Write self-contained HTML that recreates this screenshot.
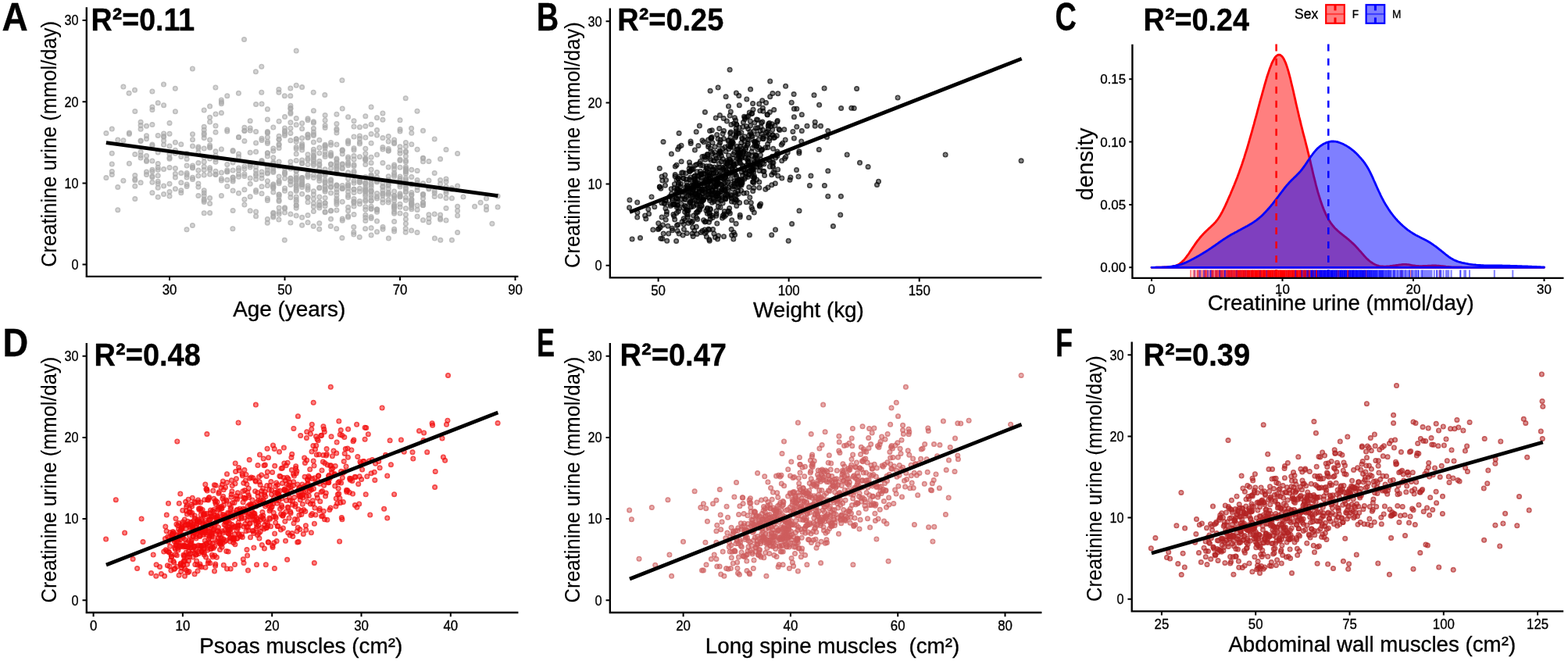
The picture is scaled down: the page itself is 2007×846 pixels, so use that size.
<!DOCTYPE html>
<html lang="en"><head><meta charset="utf-8"><title>Creatinine urine vs muscle areas</title>
<style>html,body{margin:0;padding:0;background:#fff}svg{display:block}text{stroke:#000;stroke-width:.35px;stroke-linejoin:round}</style></head>
<body>
<svg width="2007" height="846" viewBox="0 0 2007 846" font-family="'Liberation Sans', sans-serif" fill="#000">
<rect width="2007" height="846" fill="#fff"/>
<defs><radialGradient id="ptA"><stop offset="0.47" stop-color="#a9a9a9" stop-opacity="0.5"/><stop offset="0.58" stop-color="#a9a9a9" stop-opacity="0.75"/></radialGradient></defs>
<g fill="url(#ptA)">
<circle cx="541.5" cy="234.8" r="3.5"/><circle cx="408.8" cy="240.7" r="3.5"/><circle cx="312.9" cy="180.4" r="3.5"/><circle cx="416.1" cy="189.5" r="3.5"/><circle cx="371.9" cy="206.9" r="3.5"/><circle cx="224.4" cy="241.8" r="3.5"/><circle cx="283.4" cy="130.4" r="3.5"/><circle cx="231.8" cy="200.4" r="3.5"/><circle cx="217.0" cy="245.4" r="3.5"/><circle cx="423.5" cy="280.2" r="3.5"/><circle cx="445.6" cy="240.9" r="3.5"/><circle cx="541.5" cy="248.6" r="3.5"/><circle cx="180.1" cy="180.6" r="3.5"/><circle cx="519.4" cy="286.2" r="3.5"/><circle cx="512.0" cy="165.6" r="3.5"/><circle cx="497.2" cy="259.0" r="3.5"/><circle cx="386.6" cy="209.3" r="3.5"/><circle cx="453.0" cy="242.2" r="3.5"/><circle cx="180.1" cy="180.1" r="3.5"/><circle cx="497.4" cy="305.1" r="3.5"/><circle cx="430.9" cy="166.4" r="3.5"/><circle cx="467.8" cy="278.6" r="3.5"/><circle cx="246.5" cy="187.0" r="3.5"/><circle cx="305.5" cy="175.6" r="3.5"/><circle cx="224.4" cy="142.8" r="3.5"/><circle cx="268.6" cy="179.0" r="3.5"/><circle cx="261.2" cy="162.3" r="3.5"/><circle cx="386.6" cy="229.2" r="3.5"/><circle cx="342.4" cy="170.2" r="3.5"/><circle cx="371.9" cy="179.7" r="3.5"/><circle cx="357.1" cy="231.4" r="3.5"/><circle cx="519.4" cy="213.5" r="3.5"/><circle cx="401.4" cy="191.3" r="3.5"/><circle cx="467.8" cy="210.6" r="3.5"/><circle cx="209.6" cy="185.2" r="3.5"/><circle cx="416.1" cy="153.9" r="3.5"/><circle cx="224.4" cy="227.0" r="3.5"/><circle cx="290.8" cy="238.5" r="3.5"/><circle cx="394.0" cy="153.7" r="3.5"/><circle cx="357.1" cy="274.1" r="3.5"/><circle cx="335.0" cy="228.3" r="3.5"/><circle cx="194.9" cy="186.5" r="3.5"/><circle cx="541.5" cy="262.7" r="3.5"/><circle cx="342.4" cy="221.2" r="3.5"/><circle cx="504.6" cy="265.6" r="3.5"/><circle cx="482.5" cy="251.7" r="3.5"/><circle cx="408.8" cy="240.1" r="3.5"/><circle cx="445.6" cy="181.5" r="3.5"/><circle cx="519.2" cy="125.7" r="3.5"/><circle cx="253.9" cy="188.0" r="3.5"/><circle cx="401.4" cy="204.5" r="3.5"/><circle cx="445.6" cy="250.0" r="3.5"/><circle cx="475.1" cy="225.9" r="3.5"/><circle cx="335.0" cy="224.1" r="3.5"/><circle cx="526.6" cy="164.3" r="3.5"/><circle cx="320.2" cy="166.9" r="3.5"/><circle cx="526.8" cy="255.6" r="3.5"/><circle cx="371.9" cy="170.5" r="3.5"/><circle cx="364.5" cy="149.6" r="3.5"/><circle cx="438.2" cy="209.8" r="3.5"/><circle cx="261.2" cy="213.3" r="3.5"/><circle cx="356.9" cy="114.4" r="3.5"/><circle cx="453.0" cy="189.8" r="3.5"/><circle cx="283.4" cy="231.0" r="3.5"/><circle cx="172.8" cy="254.6" r="3.5"/><circle cx="438.2" cy="139.0" r="3.5"/><circle cx="283.4" cy="220.9" r="3.5"/><circle cx="512.0" cy="228.5" r="3.5"/><circle cx="327.6" cy="271.0" r="3.5"/><circle cx="276.0" cy="203.9" r="3.5"/><circle cx="475.1" cy="239.8" r="3.5"/><circle cx="453.0" cy="274.6" r="3.5"/><circle cx="497.2" cy="213.9" r="3.5"/><circle cx="563.6" cy="280.9" r="3.5"/><circle cx="312.9" cy="167.6" r="3.5"/><circle cx="298.1" cy="243.9" r="3.5"/><circle cx="416.1" cy="270.9" r="3.5"/><circle cx="165.4" cy="171.4" r="3.5"/><circle cx="497.2" cy="190.6" r="3.5"/><circle cx="453.0" cy="242.2" r="3.5"/><circle cx="335.0" cy="247.8" r="3.5"/><circle cx="202.2" cy="235.0" r="3.5"/><circle cx="209.6" cy="170.9" r="3.5"/><circle cx="357.1" cy="249.0" r="3.5"/><circle cx="371.9" cy="212.6" r="3.5"/><circle cx="541.5" cy="259.7" r="3.5"/><circle cx="394.0" cy="253.0" r="3.5"/><circle cx="416.1" cy="271.7" r="3.5"/><circle cx="364.5" cy="171.2" r="3.5"/><circle cx="357.1" cy="178.6" r="3.5"/><circle cx="135.9" cy="227.6" r="3.5"/><circle cx="401.4" cy="223.9" r="3.5"/><circle cx="401.4" cy="244.8" r="3.5"/><circle cx="519.4" cy="222.2" r="3.5"/><circle cx="180.1" cy="199.0" r="3.5"/><circle cx="504.6" cy="221.2" r="3.5"/><circle cx="217.0" cy="186.9" r="3.5"/><circle cx="320.2" cy="164.1" r="3.5"/><circle cx="475.1" cy="244.1" r="3.5"/><circle cx="504.6" cy="250.7" r="3.5"/><circle cx="253.9" cy="195.0" r="3.5"/><circle cx="246.4" cy="87.9" r="3.5"/><circle cx="356.9" cy="281.1" r="3.5"/><circle cx="187.5" cy="223.5" r="3.5"/><circle cx="283.4" cy="250.4" r="3.5"/><circle cx="453.0" cy="219.2" r="3.5"/><circle cx="305.5" cy="222.9" r="3.5"/><circle cx="415.8" cy="121.6" r="3.5"/><circle cx="180.1" cy="156.3" r="3.5"/><circle cx="364.3" cy="307.3" r="3.5"/><circle cx="489.9" cy="208.5" r="3.5"/><circle cx="519.4" cy="280.5" r="3.5"/><circle cx="379.2" cy="65.1" r="3.5"/><circle cx="571.0" cy="242.5" r="3.5"/><circle cx="246.4" cy="288.5" r="3.5"/><circle cx="423.5" cy="239.3" r="3.5"/><circle cx="371.9" cy="232.3" r="3.5"/><circle cx="430.9" cy="221.7" r="3.5"/><circle cx="187.5" cy="177.7" r="3.5"/><circle cx="364.5" cy="167.5" r="3.5"/><circle cx="246.5" cy="214.3" r="3.5"/><circle cx="371.9" cy="231.8" r="3.5"/><circle cx="534.0" cy="297.6" r="3.5"/><circle cx="194.9" cy="159.6" r="3.5"/><circle cx="298.1" cy="269.5" r="3.5"/><circle cx="519.4" cy="253.0" r="3.5"/><circle cx="622.5" cy="254.1" r="3.5"/><circle cx="172.8" cy="230.7" r="3.5"/><circle cx="563.8" cy="307.3" r="3.5"/><circle cx="349.8" cy="190.1" r="3.5"/><circle cx="246.5" cy="229.5" r="3.5"/><circle cx="268.6" cy="272.5" r="3.5"/><circle cx="504.6" cy="225.7" r="3.5"/><circle cx="430.9" cy="146.2" r="3.5"/><circle cx="504.6" cy="293.2" r="3.5"/><circle cx="504.6" cy="271.3" r="3.5"/><circle cx="460.4" cy="261.0" r="3.5"/><circle cx="416.1" cy="238.7" r="3.5"/><circle cx="386.6" cy="111.6" r="3.5"/><circle cx="615.1" cy="259.3" r="3.5"/><circle cx="445.6" cy="245.5" r="3.5"/><circle cx="357.1" cy="257.6" r="3.5"/><circle cx="327.4" cy="91.8" r="3.5"/><circle cx="585.6" cy="196.5" r="3.5"/><circle cx="349.8" cy="201.8" r="3.5"/><circle cx="379.2" cy="237.2" r="3.5"/><circle cx="268.6" cy="188.9" r="3.5"/><circle cx="453.0" cy="258.0" r="3.5"/><circle cx="526.8" cy="184.7" r="3.5"/><circle cx="386.6" cy="176.8" r="3.5"/><circle cx="290.8" cy="210.4" r="3.5"/><circle cx="512.0" cy="261.3" r="3.5"/><circle cx="416.1" cy="147.4" r="3.5"/><circle cx="629.9" cy="286.3" r="3.5"/><circle cx="445.6" cy="252.4" r="3.5"/><circle cx="467.8" cy="255.7" r="3.5"/><circle cx="416.1" cy="216.8" r="3.5"/><circle cx="475.1" cy="300.9" r="3.5"/><circle cx="356.9" cy="118.2" r="3.5"/><circle cx="482.5" cy="150.8" r="3.5"/><circle cx="571.0" cy="247.6" r="3.5"/><circle cx="453.0" cy="174.9" r="3.5"/><circle cx="512.0" cy="251.9" r="3.5"/><circle cx="386.6" cy="236.0" r="3.5"/><circle cx="519.4" cy="241.4" r="3.5"/><circle cx="342.4" cy="195.9" r="3.5"/><circle cx="416.1" cy="260.0" r="3.5"/><circle cx="526.6" cy="295.1" r="3.5"/><circle cx="460.4" cy="257.4" r="3.5"/><circle cx="467.8" cy="176.1" r="3.5"/><circle cx="571.0" cy="191.6" r="3.5"/><circle cx="467.8" cy="268.2" r="3.5"/><circle cx="445.6" cy="183.7" r="3.5"/><circle cx="180.1" cy="160.5" r="3.5"/><circle cx="607.6" cy="264.3" r="3.5"/><circle cx="276.0" cy="169.3" r="3.5"/><circle cx="504.6" cy="178.9" r="3.5"/><circle cx="253.9" cy="224.9" r="3.5"/><circle cx="342.4" cy="168.6" r="3.5"/><circle cx="526.8" cy="249.6" r="3.5"/><circle cx="342.4" cy="254.1" r="3.5"/><circle cx="489.9" cy="176.5" r="3.5"/><circle cx="489.9" cy="247.2" r="3.5"/><circle cx="246.5" cy="178.7" r="3.5"/><circle cx="482.5" cy="166.6" r="3.5"/><circle cx="556.2" cy="274.0" r="3.5"/><circle cx="320.2" cy="269.8" r="3.5"/><circle cx="460.4" cy="233.1" r="3.5"/><circle cx="357.1" cy="234.7" r="3.5"/><circle cx="445.6" cy="276.6" r="3.5"/><circle cx="534.1" cy="243.4" r="3.5"/><circle cx="475.1" cy="201.2" r="3.5"/><circle cx="371.9" cy="252.7" r="3.5"/><circle cx="585.6" cy="238.1" r="3.5"/><circle cx="312.9" cy="222.8" r="3.5"/><circle cx="423.5" cy="185.6" r="3.5"/><circle cx="357.1" cy="265.9" r="3.5"/><circle cx="394.0" cy="223.2" r="3.5"/><circle cx="394.0" cy="224.4" r="3.5"/><circle cx="312.9" cy="212.9" r="3.5"/><circle cx="408.8" cy="285.7" r="3.5"/><circle cx="519.4" cy="182.4" r="3.5"/><circle cx="283.4" cy="228.8" r="3.5"/><circle cx="430.9" cy="246.0" r="3.5"/><circle cx="180.1" cy="194.6" r="3.5"/><circle cx="526.8" cy="267.8" r="3.5"/><circle cx="467.8" cy="245.5" r="3.5"/><circle cx="460.2" cy="303.4" r="3.5"/><circle cx="526.8" cy="170.3" r="3.5"/><circle cx="327.6" cy="276.8" r="3.5"/><circle cx="504.6" cy="223.4" r="3.5"/><circle cx="268.6" cy="187.9" r="3.5"/><circle cx="526.8" cy="265.5" r="3.5"/><circle cx="371.9" cy="236.5" r="3.5"/><circle cx="401.4" cy="227.4" r="3.5"/><circle cx="416.1" cy="238.0" r="3.5"/><circle cx="637.1" cy="251.1" r="3.5"/><circle cx="253.9" cy="239.2" r="3.5"/><circle cx="261.2" cy="166.2" r="3.5"/><circle cx="548.9" cy="284.4" r="3.5"/><circle cx="379.2" cy="205.4" r="3.5"/><circle cx="401.4" cy="157.3" r="3.5"/><circle cx="349.8" cy="235.7" r="3.5"/><circle cx="217.0" cy="203.2" r="3.5"/><circle cx="165.1" cy="119.3" r="3.5"/><circle cx="283.4" cy="144.5" r="3.5"/><circle cx="379.2" cy="218.9" r="3.5"/><circle cx="298.1" cy="227.2" r="3.5"/><circle cx="187.5" cy="161.3" r="3.5"/><circle cx="202.2" cy="195.0" r="3.5"/><circle cx="467.8" cy="275.3" r="3.5"/><circle cx="379.2" cy="258.3" r="3.5"/><circle cx="475.1" cy="171.4" r="3.5"/><circle cx="504.6" cy="253.4" r="3.5"/><circle cx="430.9" cy="254.4" r="3.5"/><circle cx="394.0" cy="175.6" r="3.5"/><circle cx="445.6" cy="201.0" r="3.5"/><circle cx="504.6" cy="263.4" r="3.5"/><circle cx="467.8" cy="248.6" r="3.5"/><circle cx="357.1" cy="226.1" r="3.5"/><circle cx="497.2" cy="247.8" r="3.5"/><circle cx="430.9" cy="208.9" r="3.5"/><circle cx="438.2" cy="282.3" r="3.5"/><circle cx="453.0" cy="191.9" r="3.5"/><circle cx="504.6" cy="264.3" r="3.5"/><circle cx="386.6" cy="236.6" r="3.5"/><circle cx="467.8" cy="234.5" r="3.5"/><circle cx="379.2" cy="255.4" r="3.5"/><circle cx="430.7" cy="292.7" r="3.5"/><circle cx="504.6" cy="267.4" r="3.5"/><circle cx="349.8" cy="276.4" r="3.5"/><circle cx="423.5" cy="247.1" r="3.5"/><circle cx="526.8" cy="261.2" r="3.5"/><circle cx="386.6" cy="227.4" r="3.5"/><circle cx="512.0" cy="167.9" r="3.5"/><circle cx="312.9" cy="255.2" r="3.5"/><circle cx="556.2" cy="247.3" r="3.5"/><circle cx="504.6" cy="182.4" r="3.5"/><circle cx="585.6" cy="297.6" r="3.5"/><circle cx="489.9" cy="239.4" r="3.5"/><circle cx="312.9" cy="163.3" r="3.5"/><circle cx="423.5" cy="239.5" r="3.5"/><circle cx="489.9" cy="250.2" r="3.5"/><circle cx="394.0" cy="226.4" r="3.5"/><circle cx="187.5" cy="173.7" r="3.5"/><circle cx="150.8" cy="268.7" r="3.5"/><circle cx="172.8" cy="197.5" r="3.5"/><circle cx="305.5" cy="200.7" r="3.5"/><circle cx="512.0" cy="214.2" r="3.5"/><circle cx="209.6" cy="134.7" r="3.5"/><circle cx="202.2" cy="173.4" r="3.5"/><circle cx="335.0" cy="179.5" r="3.5"/><circle cx="452.8" cy="297.3" r="3.5"/><circle cx="497.2" cy="256.1" r="3.5"/><circle cx="453.0" cy="254.5" r="3.5"/><circle cx="180.1" cy="233.8" r="3.5"/><circle cx="423.5" cy="229.7" r="3.5"/><circle cx="490.0" cy="293.2" r="3.5"/><circle cx="482.5" cy="233.0" r="3.5"/><circle cx="467.8" cy="203.8" r="3.5"/><circle cx="453.0" cy="212.4" r="3.5"/><circle cx="283.3" cy="127.9" r="3.5"/><circle cx="438.2" cy="191.7" r="3.5"/><circle cx="445.6" cy="203.1" r="3.5"/><circle cx="401.4" cy="201.5" r="3.5"/><circle cx="371.8" cy="113.0" r="3.5"/><circle cx="401.4" cy="209.2" r="3.5"/><circle cx="335.0" cy="238.8" r="3.5"/><circle cx="512.0" cy="236.6" r="3.5"/><circle cx="467.8" cy="243.6" r="3.5"/><circle cx="349.8" cy="245.9" r="3.5"/><circle cx="394.0" cy="252.6" r="3.5"/><circle cx="453.0" cy="231.6" r="3.5"/><circle cx="371.8" cy="122.7" r="3.5"/><circle cx="571.0" cy="253.6" r="3.5"/><circle cx="408.8" cy="206.3" r="3.5"/><circle cx="290.8" cy="166.0" r="3.5"/><circle cx="253.9" cy="250.5" r="3.5"/><circle cx="394.0" cy="218.6" r="3.5"/><circle cx="519.4" cy="234.1" r="3.5"/><circle cx="364.5" cy="215.2" r="3.5"/><circle cx="416.1" cy="187.3" r="3.5"/><circle cx="453.0" cy="199.5" r="3.5"/><circle cx="157.9" cy="231.2" r="3.5"/><circle cx="438.2" cy="240.6" r="3.5"/><circle cx="143.3" cy="210.0" r="3.5"/><circle cx="548.9" cy="242.0" r="3.5"/><circle cx="275.9" cy="111.9" r="3.5"/><circle cx="334.8" cy="118.2" r="3.5"/><circle cx="379.2" cy="252.1" r="3.5"/><circle cx="202.2" cy="209.5" r="3.5"/><circle cx="268.6" cy="156.1" r="3.5"/><circle cx="548.9" cy="240.9" r="3.5"/><circle cx="475.1" cy="233.9" r="3.5"/><circle cx="475.1" cy="183.2" r="3.5"/><circle cx="364.5" cy="222.7" r="3.5"/><circle cx="430.9" cy="256.8" r="3.5"/><circle cx="585.6" cy="264.3" r="3.5"/><circle cx="430.9" cy="237.1" r="3.5"/><circle cx="556.2" cy="221.4" r="3.5"/><circle cx="394.0" cy="176.3" r="3.5"/><circle cx="379.2" cy="230.9" r="3.5"/><circle cx="467.8" cy="196.7" r="3.5"/><circle cx="401.4" cy="199.9" r="3.5"/><circle cx="357.1" cy="178.3" r="3.5"/><circle cx="504.6" cy="183.8" r="3.5"/><circle cx="202.2" cy="131.7" r="3.5"/><circle cx="217.0" cy="214.5" r="3.5"/><circle cx="290.8" cy="219.5" r="3.5"/><circle cx="253.9" cy="208.5" r="3.5"/><circle cx="357.1" cy="271.4" r="3.5"/><circle cx="430.9" cy="207.8" r="3.5"/><circle cx="467.8" cy="202.4" r="3.5"/><circle cx="512.0" cy="239.1" r="3.5"/><circle cx="504.6" cy="256.7" r="3.5"/><circle cx="349.8" cy="241.1" r="3.5"/><circle cx="438.2" cy="210.6" r="3.5"/><circle cx="556.4" cy="305.1" r="3.5"/><circle cx="416.1" cy="233.5" r="3.5"/><circle cx="187.5" cy="205.2" r="3.5"/><circle cx="460.4" cy="181.9" r="3.5"/><circle cx="578.4" cy="307.3" r="3.5"/><circle cx="298.1" cy="218.0" r="3.5"/><circle cx="482.5" cy="173.0" r="3.5"/><circle cx="526.8" cy="254.9" r="3.5"/><circle cx="408.8" cy="263.3" r="3.5"/><circle cx="261.2" cy="141.1" r="3.5"/><circle cx="541.5" cy="248.8" r="3.5"/><circle cx="320.2" cy="213.9" r="3.5"/><circle cx="327.6" cy="182.9" r="3.5"/><circle cx="364.5" cy="173.5" r="3.5"/><circle cx="489.9" cy="255.4" r="3.5"/><circle cx="379.2" cy="178.1" r="3.5"/><circle cx="268.6" cy="203.0" r="3.5"/><circle cx="342.4" cy="280.5" r="3.5"/><circle cx="453.0" cy="154.7" r="3.5"/><circle cx="475.1" cy="264.2" r="3.5"/><circle cx="268.6" cy="260.6" r="3.5"/><circle cx="504.6" cy="245.1" r="3.5"/><circle cx="534.1" cy="268.4" r="3.5"/><circle cx="430.9" cy="213.0" r="3.5"/><circle cx="157.9" cy="179.7" r="3.5"/><circle cx="437.9" cy="304.5" r="3.5"/><circle cx="386.6" cy="228.2" r="3.5"/><circle cx="430.9" cy="165.0" r="3.5"/><circle cx="526.8" cy="257.1" r="3.5"/><circle cx="290.8" cy="230.3" r="3.5"/><circle cx="246.5" cy="227.2" r="3.5"/><circle cx="194.9" cy="233.3" r="3.5"/><circle cx="401.4" cy="260.3" r="3.5"/><circle cx="526.8" cy="236.2" r="3.5"/><circle cx="386.6" cy="227.6" r="3.5"/><circle cx="482.5" cy="296.8" r="3.5"/><circle cx="401.4" cy="173.4" r="3.5"/><circle cx="438.2" cy="258.2" r="3.5"/><circle cx="438.2" cy="216.0" r="3.5"/><circle cx="379.2" cy="234.3" r="3.5"/><circle cx="519.4" cy="218.8" r="3.5"/><circle cx="475.1" cy="249.8" r="3.5"/><circle cx="320.2" cy="195.3" r="3.5"/><circle cx="305.5" cy="215.1" r="3.5"/><circle cx="379.2" cy="224.3" r="3.5"/><circle cx="416.1" cy="185.3" r="3.5"/><circle cx="467.8" cy="203.7" r="3.5"/><circle cx="394.0" cy="243.1" r="3.5"/><circle cx="386.6" cy="236.2" r="3.5"/><circle cx="364.5" cy="241.0" r="3.5"/><circle cx="430.9" cy="258.9" r="3.5"/><circle cx="261.2" cy="255.0" r="3.5"/><circle cx="335.0" cy="206.2" r="3.5"/><circle cx="519.4" cy="274.8" r="3.5"/><circle cx="327.6" cy="229.4" r="3.5"/><circle cx="194.9" cy="225.5" r="3.5"/><circle cx="379.2" cy="197.1" r="3.5"/><circle cx="453.0" cy="162.0" r="3.5"/><circle cx="489.9" cy="188.4" r="3.5"/><circle cx="172.8" cy="142.4" r="3.5"/><circle cx="401.4" cy="194.4" r="3.5"/><circle cx="445.6" cy="278.1" r="3.5"/><circle cx="482.5" cy="231.8" r="3.5"/><circle cx="276.0" cy="223.2" r="3.5"/><circle cx="268.6" cy="253.4" r="3.5"/><circle cx="519.4" cy="256.3" r="3.5"/><circle cx="541.5" cy="259.5" r="3.5"/><circle cx="512.0" cy="265.0" r="3.5"/><circle cx="408.8" cy="225.9" r="3.5"/><circle cx="342.4" cy="237.6" r="3.5"/><circle cx="408.8" cy="262.2" r="3.5"/><circle cx="239.1" cy="236.0" r="3.5"/><circle cx="202.2" cy="214.4" r="3.5"/><circle cx="578.4" cy="240.7" r="3.5"/><circle cx="416.1" cy="186.5" r="3.5"/><circle cx="475.1" cy="257.2" r="3.5"/><circle cx="342.4" cy="256.5" r="3.5"/><circle cx="519.4" cy="246.1" r="3.5"/><circle cx="504.6" cy="216.6" r="3.5"/><circle cx="445.6" cy="211.7" r="3.5"/><circle cx="467.8" cy="241.9" r="3.5"/><circle cx="519.4" cy="216.2" r="3.5"/><circle cx="526.8" cy="246.5" r="3.5"/><circle cx="209.6" cy="174.6" r="3.5"/><circle cx="423.5" cy="210.0" r="3.5"/><circle cx="143.3" cy="223.5" r="3.5"/><circle cx="423.5" cy="215.5" r="3.5"/><circle cx="504.6" cy="262.0" r="3.5"/><circle cx="357.1" cy="256.0" r="3.5"/><circle cx="453.0" cy="221.0" r="3.5"/><circle cx="239.1" cy="238.5" r="3.5"/><circle cx="401.4" cy="164.5" r="3.5"/><circle cx="261.2" cy="247.0" r="3.5"/><circle cx="512.0" cy="249.4" r="3.5"/><circle cx="571.0" cy="282.1" r="3.5"/><circle cx="298.1" cy="232.1" r="3.5"/><circle cx="297.9" cy="292.7" r="3.5"/><circle cx="394.0" cy="240.4" r="3.5"/><circle cx="445.6" cy="228.8" r="3.5"/><circle cx="298.1" cy="227.0" r="3.5"/><circle cx="512.0" cy="231.1" r="3.5"/><circle cx="379.2" cy="188.2" r="3.5"/><circle cx="430.9" cy="185.0" r="3.5"/><circle cx="357.1" cy="155.2" r="3.5"/><circle cx="379.2" cy="109.2" r="3.5"/><circle cx="563.6" cy="235.2" r="3.5"/><circle cx="150.8" cy="179.1" r="3.5"/><circle cx="430.9" cy="238.1" r="3.5"/><circle cx="512.0" cy="192.8" r="3.5"/><circle cx="541.5" cy="202.2" r="3.5"/><circle cx="261.2" cy="190.1" r="3.5"/><circle cx="430.9" cy="221.1" r="3.5"/><circle cx="497.2" cy="230.3" r="3.5"/><circle cx="327.6" cy="218.2" r="3.5"/><circle cx="261.2" cy="170.6" r="3.5"/><circle cx="320.2" cy="227.9" r="3.5"/><circle cx="276.0" cy="145.9" r="3.5"/><circle cx="526.8" cy="261.5" r="3.5"/><circle cx="364.5" cy="267.1" r="3.5"/><circle cx="578.4" cy="242.5" r="3.5"/><circle cx="467.6" cy="292.7" r="3.5"/><circle cx="276.0" cy="219.2" r="3.5"/><circle cx="312.9" cy="167.2" r="3.5"/><circle cx="475.1" cy="267.5" r="3.5"/><circle cx="379.2" cy="181.3" r="3.5"/><circle cx="357.1" cy="174.3" r="3.5"/><circle cx="143.3" cy="196.2" r="3.5"/><circle cx="312.9" cy="262.1" r="3.5"/><circle cx="386.6" cy="192.0" r="3.5"/><circle cx="423.5" cy="210.2" r="3.5"/><circle cx="401.4" cy="211.5" r="3.5"/><circle cx="298.1" cy="207.9" r="3.5"/><circle cx="489.9" cy="243.6" r="3.5"/><circle cx="526.8" cy="259.2" r="3.5"/><circle cx="475.1" cy="291.8" r="3.5"/><circle cx="534.1" cy="230.6" r="3.5"/><circle cx="467.8" cy="161.6" r="3.5"/><circle cx="401.4" cy="254.5" r="3.5"/><circle cx="349.8" cy="272.3" r="3.5"/><circle cx="504.6" cy="250.6" r="3.5"/><circle cx="312.9" cy="225.4" r="3.5"/><circle cx="165.4" cy="170.0" r="3.5"/><circle cx="371.9" cy="228.5" r="3.5"/><circle cx="408.8" cy="179.3" r="3.5"/><circle cx="371.9" cy="135.2" r="3.5"/><circle cx="194.9" cy="226.7" r="3.5"/><circle cx="482.5" cy="283.1" r="3.5"/><circle cx="497.2" cy="192.9" r="3.5"/><circle cx="394.0" cy="151.7" r="3.5"/><circle cx="437.9" cy="102.8" r="3.5"/><circle cx="342.4" cy="214.0" r="3.5"/><circle cx="217.0" cy="201.8" r="3.5"/><circle cx="290.8" cy="122.7" r="3.5"/><circle cx="541.5" cy="249.7" r="3.5"/><circle cx="467.8" cy="257.6" r="3.5"/><circle cx="563.6" cy="279.4" r="3.5"/><circle cx="475.1" cy="256.5" r="3.5"/><circle cx="386.6" cy="232.9" r="3.5"/><circle cx="379.2" cy="262.8" r="3.5"/><circle cx="541.5" cy="206.8" r="3.5"/><circle cx="327.6" cy="225.1" r="3.5"/><circle cx="394.0" cy="202.7" r="3.5"/><circle cx="386.6" cy="157.8" r="3.5"/><circle cx="239.1" cy="203.4" r="3.5"/><circle cx="497.2" cy="235.8" r="3.5"/><circle cx="261.2" cy="272.8" r="3.5"/><circle cx="416.1" cy="160.6" r="3.5"/><circle cx="172.8" cy="229.2" r="3.5"/><circle cx="320.2" cy="154.7" r="3.5"/><circle cx="394.0" cy="172.1" r="3.5"/><circle cx="475.1" cy="225.0" r="3.5"/><circle cx="401.4" cy="182.0" r="3.5"/><circle cx="430.9" cy="211.9" r="3.5"/><circle cx="379.2" cy="228.0" r="3.5"/><circle cx="460.4" cy="230.8" r="3.5"/><circle cx="342.4" cy="152.9" r="3.5"/><circle cx="379.2" cy="266.2" r="3.5"/><circle cx="357.1" cy="184.4" r="3.5"/><circle cx="349.8" cy="216.3" r="3.5"/><circle cx="335.0" cy="208.3" r="3.5"/><circle cx="246.5" cy="171.7" r="3.5"/><circle cx="467.8" cy="235.8" r="3.5"/><circle cx="268.6" cy="150.3" r="3.5"/><circle cx="490.0" cy="290.5" r="3.5"/><circle cx="335.0" cy="177.3" r="3.5"/><circle cx="371.9" cy="285.1" r="3.5"/><circle cx="320.2" cy="235.3" r="3.5"/><circle cx="202.2" cy="224.8" r="3.5"/><circle cx="430.9" cy="242.5" r="3.5"/><circle cx="460.4" cy="245.1" r="3.5"/><circle cx="475.1" cy="266.9" r="3.5"/><circle cx="371.9" cy="248.0" r="3.5"/><circle cx="194.9" cy="219.5" r="3.5"/><circle cx="253.9" cy="235.0" r="3.5"/><circle cx="453.0" cy="264.0" r="3.5"/><circle cx="261.2" cy="217.5" r="3.5"/><circle cx="489.9" cy="238.4" r="3.5"/><circle cx="349.8" cy="277.9" r="3.5"/><circle cx="401.4" cy="172.0" r="3.5"/><circle cx="386.6" cy="239.4" r="3.5"/><circle cx="379.2" cy="263.1" r="3.5"/><circle cx="194.9" cy="217.3" r="3.5"/><circle cx="534.1" cy="263.1" r="3.5"/><circle cx="416.1" cy="245.3" r="3.5"/><circle cx="401.4" cy="206.4" r="3.5"/><circle cx="194.9" cy="205.9" r="3.5"/><circle cx="364.5" cy="244.2" r="3.5"/><circle cx="430.9" cy="214.9" r="3.5"/><circle cx="305.5" cy="247.3" r="3.5"/><circle cx="460.4" cy="232.0" r="3.5"/><circle cx="416.1" cy="163.5" r="3.5"/><circle cx="143.3" cy="165.1" r="3.5"/><circle cx="534.0" cy="142.2" r="3.5"/><circle cx="526.8" cy="260.3" r="3.5"/><circle cx="386.6" cy="248.3" r="3.5"/><circle cx="320.2" cy="211.5" r="3.5"/><circle cx="209.5" cy="108.1" r="3.5"/><circle cx="482.5" cy="247.4" r="3.5"/><circle cx="239.1" cy="223.8" r="3.5"/><circle cx="298.1" cy="229.9" r="3.5"/><circle cx="519.4" cy="266.8" r="3.5"/><circle cx="394.0" cy="172.8" r="3.5"/><circle cx="298.1" cy="193.5" r="3.5"/><circle cx="364.5" cy="272.1" r="3.5"/><circle cx="312.9" cy="215.9" r="3.5"/><circle cx="571.0" cy="266.6" r="3.5"/><circle cx="438.2" cy="214.7" r="3.5"/><circle cx="526.8" cy="235.6" r="3.5"/><circle cx="379.2" cy="177.7" r="3.5"/><circle cx="497.2" cy="181.0" r="3.5"/><circle cx="475.1" cy="208.4" r="3.5"/><circle cx="327.6" cy="194.2" r="3.5"/><circle cx="416.1" cy="200.6" r="3.5"/><circle cx="489.9" cy="234.3" r="3.5"/><circle cx="246.5" cy="212.1" r="3.5"/><circle cx="379.2" cy="244.5" r="3.5"/><circle cx="349.8" cy="209.3" r="3.5"/><circle cx="386.6" cy="236.4" r="3.5"/><circle cx="460.4" cy="200.7" r="3.5"/><circle cx="401.4" cy="198.7" r="3.5"/><circle cx="194.9" cy="117.1" r="3.5"/><circle cx="519.4" cy="233.7" r="3.5"/><circle cx="209.6" cy="175.2" r="3.5"/><circle cx="371.9" cy="139.3" r="3.5"/><circle cx="467.8" cy="205.2" r="3.5"/><circle cx="327.6" cy="222.5" r="3.5"/><circle cx="239.1" cy="221.5" r="3.5"/><circle cx="187.5" cy="206.5" r="3.5"/><circle cx="401.2" cy="289.6" r="3.5"/><circle cx="571.0" cy="244.7" r="3.5"/><circle cx="475.1" cy="229.9" r="3.5"/><circle cx="276.0" cy="199.2" r="3.5"/><circle cx="430.9" cy="222.3" r="3.5"/><circle cx="497.2" cy="249.5" r="3.5"/><circle cx="438.2" cy="193.1" r="3.5"/><circle cx="452.8" cy="290.5" r="3.5"/><circle cx="364.5" cy="163.9" r="3.5"/><circle cx="467.8" cy="148.7" r="3.5"/><circle cx="482.5" cy="226.8" r="3.5"/><circle cx="194.9" cy="140.6" r="3.5"/><circle cx="276.0" cy="161.1" r="3.5"/><circle cx="482.5" cy="271.2" r="3.5"/><circle cx="416.1" cy="243.3" r="3.5"/><circle cx="467.8" cy="250.9" r="3.5"/><circle cx="342.4" cy="231.7" r="3.5"/><circle cx="335.0" cy="205.6" r="3.5"/><circle cx="512.0" cy="226.0" r="3.5"/><circle cx="460.4" cy="233.4" r="3.5"/><circle cx="364.5" cy="219.9" r="3.5"/><circle cx="320.2" cy="210.9" r="3.5"/><circle cx="357.1" cy="251.5" r="3.5"/><circle cx="217.0" cy="171.2" r="3.5"/><circle cx="416.1" cy="241.9" r="3.5"/><circle cx="261.2" cy="207.2" r="3.5"/><circle cx="548.9" cy="274.8" r="3.5"/><circle cx="430.9" cy="203.0" r="3.5"/><circle cx="445.6" cy="209.7" r="3.5"/><circle cx="519.4" cy="219.9" r="3.5"/><circle cx="150.8" cy="239.5" r="3.5"/><circle cx="261.2" cy="243.7" r="3.5"/><circle cx="305.5" cy="197.0" r="3.5"/><circle cx="172.5" cy="115.2" r="3.5"/><circle cx="379.2" cy="159.8" r="3.5"/><circle cx="371.9" cy="273.9" r="3.5"/><circle cx="342.4" cy="217.5" r="3.5"/><circle cx="371.9" cy="164.2" r="3.5"/><circle cx="386.6" cy="208.8" r="3.5"/><circle cx="541.5" cy="262.5" r="3.5"/><circle cx="209.6" cy="216.6" r="3.5"/><circle cx="497.2" cy="232.2" r="3.5"/><circle cx="526.8" cy="217.3" r="3.5"/><circle cx="423.5" cy="197.8" r="3.5"/><circle cx="386.6" cy="278.3" r="3.5"/><circle cx="202.2" cy="232.2" r="3.5"/><circle cx="394.0" cy="284.8" r="3.5"/><circle cx="408.7" cy="293.2" r="3.5"/><circle cx="585.6" cy="275.9" r="3.5"/><circle cx="408.8" cy="225.2" r="3.5"/><circle cx="460.4" cy="173.9" r="3.5"/><circle cx="253.9" cy="218.1" r="3.5"/><circle cx="305.5" cy="226.3" r="3.5"/><circle cx="276.0" cy="207.3" r="3.5"/><circle cx="349.8" cy="238.9" r="3.5"/><circle cx="512.0" cy="251.3" r="3.5"/><circle cx="401.4" cy="264.5" r="3.5"/><circle cx="556.2" cy="244.6" r="3.5"/><circle cx="475.1" cy="236.7" r="3.5"/><circle cx="394.0" cy="237.8" r="3.5"/><circle cx="430.9" cy="250.0" r="3.5"/><circle cx="135.9" cy="170.6" r="3.5"/><circle cx="519.2" cy="297.3" r="3.5"/><circle cx="209.6" cy="248.4" r="3.5"/><circle cx="423.5" cy="234.5" r="3.5"/><circle cx="194.9" cy="185.0" r="3.5"/><circle cx="504.6" cy="283.6" r="3.5"/><circle cx="519.4" cy="194.7" r="3.5"/><circle cx="467.8" cy="240.0" r="3.5"/><circle cx="408.8" cy="258.6" r="3.5"/><circle cx="526.8" cy="249.2" r="3.5"/><circle cx="445.6" cy="149.8" r="3.5"/><circle cx="512.0" cy="187.7" r="3.5"/><circle cx="453.0" cy="204.1" r="3.5"/><circle cx="371.9" cy="138.2" r="3.5"/><circle cx="408.8" cy="231.5" r="3.5"/><circle cx="423.5" cy="195.4" r="3.5"/><circle cx="467.8" cy="244.6" r="3.5"/><circle cx="423.5" cy="269.4" r="3.5"/><circle cx="349.8" cy="207.8" r="3.5"/><circle cx="180.1" cy="201.9" r="3.5"/><circle cx="246.5" cy="215.0" r="3.5"/><circle cx="423.5" cy="231.3" r="3.5"/><circle cx="519.4" cy="218.9" r="3.5"/><circle cx="482.5" cy="198.0" r="3.5"/><circle cx="541.5" cy="202.5" r="3.5"/><circle cx="423.5" cy="182.6" r="3.5"/><circle cx="416.1" cy="259.7" r="3.5"/><circle cx="519.4" cy="245.0" r="3.5"/><circle cx="224.4" cy="182.2" r="3.5"/><circle cx="224.4" cy="215.5" r="3.5"/><circle cx="379.2" cy="240.3" r="3.5"/><circle cx="467.8" cy="226.4" r="3.5"/><circle cx="349.8" cy="163.1" r="3.5"/><circle cx="512.0" cy="196.2" r="3.5"/><circle cx="357.1" cy="185.8" r="3.5"/><circle cx="445.6" cy="269.7" r="3.5"/><circle cx="394.0" cy="275.6" r="3.5"/><circle cx="408.8" cy="266.0" r="3.5"/><circle cx="371.9" cy="145.4" r="3.5"/><circle cx="416.1" cy="232.7" r="3.5"/><circle cx="416.1" cy="253.3" r="3.5"/><circle cx="453.0" cy="246.5" r="3.5"/><circle cx="453.0" cy="234.2" r="3.5"/><circle cx="327.6" cy="133.5" r="3.5"/><circle cx="467.8" cy="190.2" r="3.5"/><circle cx="445.6" cy="220.7" r="3.5"/><circle cx="231.8" cy="184.7" r="3.5"/><circle cx="364.5" cy="221.8" r="3.5"/><circle cx="423.5" cy="199.7" r="3.5"/><circle cx="475.1" cy="279.4" r="3.5"/><circle cx="445.6" cy="237.5" r="3.5"/><circle cx="342.4" cy="139.7" r="3.5"/><circle cx="578.4" cy="253.7" r="3.5"/><circle cx="261.2" cy="250.6" r="3.5"/><circle cx="475.1" cy="159.2" r="3.5"/><circle cx="209.6" cy="179.9" r="3.5"/><circle cx="489.9" cy="144.9" r="3.5"/><circle cx="504.6" cy="213.1" r="3.5"/><circle cx="224.3" cy="113.3" r="3.5"/><circle cx="394.0" cy="258.8" r="3.5"/><circle cx="467.8" cy="233.3" r="3.5"/><circle cx="172.8" cy="224.5" r="3.5"/><circle cx="239.1" cy="212.0" r="3.5"/><circle cx="320.2" cy="251.7" r="3.5"/><circle cx="180.1" cy="165.3" r="3.5"/><circle cx="379.2" cy="218.6" r="3.5"/><circle cx="379.2" cy="190.4" r="3.5"/><circle cx="512.0" cy="272.9" r="3.5"/><circle cx="305.5" cy="218.0" r="3.5"/><circle cx="475.1" cy="252.9" r="3.5"/><circle cx="276.0" cy="223.6" r="3.5"/><circle cx="401.4" cy="169.1" r="3.5"/><circle cx="453.0" cy="260.0" r="3.5"/><circle cx="430.9" cy="169.9" r="3.5"/><circle cx="548.9" cy="279.7" r="3.5"/><circle cx="224.4" cy="196.3" r="3.5"/><circle cx="482.5" cy="254.0" r="3.5"/><circle cx="202.2" cy="252.3" r="3.5"/><circle cx="534.1" cy="218.5" r="3.5"/><circle cx="453.0" cy="210.8" r="3.5"/><circle cx="475.1" cy="244.3" r="3.5"/><circle cx="519.4" cy="215.7" r="3.5"/><circle cx="268.6" cy="216.9" r="3.5"/><circle cx="239.1" cy="196.4" r="3.5"/><circle cx="571.0" cy="232.6" r="3.5"/><circle cx="239.1" cy="227.0" r="3.5"/><circle cx="349.8" cy="193.2" r="3.5"/><circle cx="460.4" cy="241.2" r="3.5"/><circle cx="261.2" cy="176.6" r="3.5"/><circle cx="408.8" cy="196.0" r="3.5"/><circle cx="386.6" cy="188.7" r="3.5"/><circle cx="534.1" cy="233.8" r="3.5"/><circle cx="401.4" cy="248.9" r="3.5"/><circle cx="416.1" cy="224.5" r="3.5"/><circle cx="371.9" cy="215.8" r="3.5"/><circle cx="512.0" cy="204.2" r="3.5"/><circle cx="497.2" cy="241.6" r="3.5"/><circle cx="534.1" cy="239.7" r="3.5"/><circle cx="452.8" cy="300.1" r="3.5"/><circle cx="401.4" cy="141.7" r="3.5"/><circle cx="497.2" cy="246.3" r="3.5"/><circle cx="290.8" cy="168.0" r="3.5"/><circle cx="342.4" cy="183.4" r="3.5"/><circle cx="445.6" cy="208.1" r="3.5"/><circle cx="276.0" cy="193.8" r="3.5"/><circle cx="231.8" cy="246.8" r="3.5"/><circle cx="460.4" cy="162.7" r="3.5"/><circle cx="386.6" cy="186.2" r="3.5"/><circle cx="504.6" cy="273.3" r="3.5"/><circle cx="526.8" cy="262.4" r="3.5"/><circle cx="379.2" cy="276.1" r="3.5"/><circle cx="519.4" cy="200.1" r="3.5"/><circle cx="401.4" cy="155.7" r="3.5"/><circle cx="335.0" cy="132.9" r="3.5"/><circle cx="416.1" cy="220.4" r="3.5"/><circle cx="209.6" cy="237.9" r="3.5"/><circle cx="253.9" cy="189.8" r="3.5"/><circle cx="165.4" cy="209.2" r="3.5"/><circle cx="231.8" cy="221.6" r="3.5"/><circle cx="357.1" cy="207.0" r="3.5"/><circle cx="519.4" cy="193.8" r="3.5"/><circle cx="482.5" cy="230.0" r="3.5"/><circle cx="497.2" cy="174.6" r="3.5"/><circle cx="357.1" cy="212.9" r="3.5"/><circle cx="231.8" cy="233.7" r="3.5"/><circle cx="622.5" cy="264.3" r="3.5"/><circle cx="475.1" cy="217.1" r="3.5"/><circle cx="512.0" cy="247.8" r="3.5"/><circle cx="489.9" cy="259.2" r="3.5"/><circle cx="386.6" cy="205.0" r="3.5"/><circle cx="467.8" cy="282.6" r="3.5"/><circle cx="143.3" cy="219.4" r="3.5"/><circle cx="416.1" cy="263.7" r="3.5"/><circle cx="585.6" cy="269.8" r="3.5"/><circle cx="349.8" cy="236.9" r="3.5"/><circle cx="563.6" cy="250.9" r="3.5"/><circle cx="475.1" cy="223.7" r="3.5"/><circle cx="379.2" cy="237.4" r="3.5"/><circle cx="519.4" cy="187.5" r="3.5"/><circle cx="261.2" cy="201.6" r="3.5"/><circle cx="305.5" cy="175.8" r="3.5"/><circle cx="386.6" cy="186.9" r="3.5"/><circle cx="342.4" cy="200.0" r="3.5"/><circle cx="224.4" cy="192.2" r="3.5"/><circle cx="379.2" cy="242.8" r="3.5"/><circle cx="445.6" cy="238.1" r="3.5"/><circle cx="571.0" cy="239.0" r="3.5"/><circle cx="401.4" cy="270.4" r="3.5"/><circle cx="534.1" cy="277.1" r="3.5"/><circle cx="445.6" cy="235.3" r="3.5"/><circle cx="430.9" cy="216.8" r="3.5"/><circle cx="519.4" cy="228.0" r="3.5"/><circle cx="519.2" cy="292.4" r="3.5"/><circle cx="239.0" cy="293.8" r="3.5"/><circle cx="202.2" cy="217.2" r="3.5"/><circle cx="408.8" cy="210.0" r="3.5"/><circle cx="438.2" cy="237.4" r="3.5"/><circle cx="334.8" cy="85.2" r="3.5"/><circle cx="563.6" cy="203.5" r="3.5"/><circle cx="224.4" cy="222.6" r="3.5"/><circle cx="430.9" cy="204.6" r="3.5"/><circle cx="445.6" cy="180.0" r="3.5"/><circle cx="408.8" cy="228.6" r="3.5"/><circle cx="371.9" cy="143.7" r="3.5"/><circle cx="394.0" cy="204.6" r="3.5"/><circle cx="217.0" cy="235.2" r="3.5"/><circle cx="342.4" cy="169.6" r="3.5"/><circle cx="187.5" cy="199.4" r="3.5"/><circle cx="261.2" cy="172.5" r="3.5"/><circle cx="394.0" cy="197.7" r="3.5"/><circle cx="460.4" cy="177.4" r="3.5"/><circle cx="526.8" cy="226.4" r="3.5"/><circle cx="401.2" cy="118.2" r="3.5"/><circle cx="408.8" cy="252.1" r="3.5"/><circle cx="283.4" cy="132.7" r="3.5"/><circle cx="430.9" cy="261.5" r="3.5"/><circle cx="379.2" cy="229.8" r="3.5"/><circle cx="290.8" cy="220.1" r="3.5"/><circle cx="217.0" cy="251.1" r="3.5"/><circle cx="541.5" cy="281.7" r="3.5"/><circle cx="563.6" cy="230.5" r="3.5"/><circle cx="364.5" cy="168.8" r="3.5"/><circle cx="430.9" cy="158.4" r="3.5"/><circle cx="637.1" cy="265.1" r="3.5"/><circle cx="482.5" cy="220.5" r="3.5"/><circle cx="482.5" cy="267.7" r="3.5"/><circle cx="416.1" cy="198.1" r="3.5"/><circle cx="519.4" cy="237.1" r="3.5"/><circle cx="357.1" cy="189.4" r="3.5"/><circle cx="497.2" cy="225.7" r="3.5"/><circle cx="489.9" cy="248.2" r="3.5"/><circle cx="327.6" cy="213.5" r="3.5"/><circle cx="312.9" cy="242.8" r="3.5"/><circle cx="335.0" cy="220.1" r="3.5"/><circle cx="519.4" cy="240.5" r="3.5"/><circle cx="364.3" cy="122.7" r="3.5"/><circle cx="379.2" cy="227.6" r="3.5"/><circle cx="438.2" cy="192.5" r="3.5"/><circle cx="504.6" cy="296.0" r="3.5"/><circle cx="194.9" cy="246.7" r="3.5"/><circle cx="548.9" cy="206.5" r="3.5"/><circle cx="268.6" cy="214.8" r="3.5"/><circle cx="430.9" cy="269.0" r="3.5"/><circle cx="489.9" cy="153.3" r="3.5"/><circle cx="438.2" cy="280.1" r="3.5"/><circle cx="268.6" cy="223.0" r="3.5"/><circle cx="364.5" cy="228.3" r="3.5"/><circle cx="157.9" cy="111.1" r="3.5"/><circle cx="622.5" cy="268.4" r="3.5"/><circle cx="342.4" cy="181.2" r="3.5"/><circle cx="416.1" cy="194.0" r="3.5"/><circle cx="349.8" cy="213.2" r="3.5"/><circle cx="519.4" cy="230.3" r="3.5"/><circle cx="371.9" cy="156.8" r="3.5"/><circle cx="423.3" cy="289.6" r="3.5"/><circle cx="327.6" cy="245.8" r="3.5"/><circle cx="416.1" cy="222.4" r="3.5"/><circle cx="416.1" cy="230.5" r="3.5"/><circle cx="283.4" cy="190.9" r="3.5"/><circle cx="379.2" cy="151.4" r="3.5"/><circle cx="475.1" cy="246.0" r="3.5"/><circle cx="519.4" cy="205.5" r="3.5"/><circle cx="445.6" cy="265.3" r="3.5"/><circle cx="548.9" cy="231.0" r="3.5"/><circle cx="357.1" cy="232.8" r="3.5"/><circle cx="475.1" cy="136.9" r="3.5"/><circle cx="497.2" cy="237.6" r="3.5"/><circle cx="453.0" cy="257.9" r="3.5"/><circle cx="438.2" cy="241.5" r="3.5"/><circle cx="342.4" cy="175.8" r="3.5"/><circle cx="172.8" cy="238.3" r="3.5"/><circle cx="482.5" cy="268.3" r="3.5"/><circle cx="364.5" cy="265.8" r="3.5"/><circle cx="571.0" cy="229.1" r="3.5"/><circle cx="349.8" cy="219.1" r="3.5"/><circle cx="290.8" cy="217.8" r="3.5"/><circle cx="202.2" cy="240.2" r="3.5"/><circle cx="556.2" cy="251.5" r="3.5"/><circle cx="349.8" cy="220.6" r="3.5"/><circle cx="357.1" cy="249.0" r="3.5"/><circle cx="261.2" cy="256.6" r="3.5"/><circle cx="194.9" cy="137.0" r="3.5"/><circle cx="504.6" cy="211.1" r="3.5"/><circle cx="408.8" cy="216.0" r="3.5"/><circle cx="217.0" cy="157.5" r="3.5"/><circle cx="408.8" cy="211.4" r="3.5"/><circle cx="408.8" cy="189.1" r="3.5"/><circle cx="386.6" cy="232.6" r="3.5"/><circle cx="268.6" cy="186.0" r="3.5"/><circle cx="342.3" cy="285.2" r="3.5"/><circle cx="467.8" cy="243.0" r="3.5"/><circle cx="423.5" cy="198.8" r="3.5"/><circle cx="593.0" cy="251.9" r="3.5"/><circle cx="408.8" cy="225.4" r="3.5"/><circle cx="327.6" cy="243.4" r="3.5"/><circle cx="438.2" cy="196.9" r="3.5"/><circle cx="261.2" cy="258.5" r="3.5"/><circle cx="386.6" cy="235.5" r="3.5"/><circle cx="423.5" cy="270.1" r="3.5"/><circle cx="371.9" cy="227.9" r="3.5"/><circle cx="349.8" cy="239.6" r="3.5"/><circle cx="475.1" cy="277.4" r="3.5"/><circle cx="497.2" cy="193.1" r="3.5"/><circle cx="239.1" cy="198.6" r="3.5"/><circle cx="563.6" cy="275.1" r="3.5"/><circle cx="430.9" cy="237.0" r="3.5"/><circle cx="386.6" cy="184.0" r="3.5"/><circle cx="312.5" cy="50.5" r="3.5"/><circle cx="386.6" cy="164.8" r="3.5"/><circle cx="512.0" cy="153.8" r="3.5"/><circle cx="349.8" cy="273.3" r="3.5"/><circle cx="467.8" cy="264.8" r="3.5"/><circle cx="217.0" cy="197.3" r="3.5"/><circle cx="534.1" cy="191.2" r="3.5"/><circle cx="541.5" cy="253.9" r="3.5"/><circle cx="231.8" cy="243.7" r="3.5"/><circle cx="268.6" cy="136.1" r="3.5"/><circle cx="305.4" cy="119.3" r="3.5"/><circle cx="519.4" cy="207.2" r="3.5"/><circle cx="460.4" cy="184.1" r="3.5"/><circle cx="512.0" cy="205.6" r="3.5"/><circle cx="298.1" cy="192.6" r="3.5"/><circle cx="438.2" cy="241.4" r="3.5"/><circle cx="512.0" cy="234.7" r="3.5"/><circle cx="187.5" cy="220.1" r="3.5"/><circle cx="327.6" cy="168.4" r="3.5"/><circle cx="489.9" cy="190.9" r="3.5"/><circle cx="342.4" cy="195.8" r="3.5"/><circle cx="261.2" cy="224.0" r="3.5"/><circle cx="482.5" cy="268.7" r="3.5"/><circle cx="556.2" cy="177.9" r="3.5"/><circle cx="386.6" cy="288.3" r="3.5"/><circle cx="394.0" cy="210.4" r="3.5"/><circle cx="541.5" cy="167.3" r="3.5"/><circle cx="342.4" cy="222.0" r="3.5"/>
</g>
<line x1="135.88" y1="182.51" x2="637.38" y2="250.55" stroke="#000" stroke-width="4.8"/>
<defs><radialGradient id="ptB"><stop offset="0.47" stop-color="#000000" stop-opacity="0.5"/><stop offset="0.58" stop-color="#000000" stop-opacity="0.75"/></radialGradient></defs>
<g fill="url(#ptB)">
<circle cx="904.4" cy="302.9" r="3.5"/><circle cx="890.4" cy="233.2" r="3.5"/><circle cx="934.8" cy="185.2" r="3.5"/><circle cx="894.7" cy="257.5" r="3.5"/><circle cx="907.2" cy="243.0" r="3.5"/><circle cx="934.9" cy="208.1" r="3.5"/><circle cx="878.9" cy="233.6" r="3.5"/><circle cx="905.6" cy="240.7" r="3.5"/><circle cx="1026.3" cy="146.7" r="3.5"/><circle cx="995.6" cy="216.9" r="3.5"/><circle cx="883.4" cy="282.9" r="3.5"/><circle cx="903.3" cy="283.5" r="3.5"/><circle cx="935.4" cy="207.1" r="3.5"/><circle cx="1042.0" cy="121.8" r="3.5"/><circle cx="929.1" cy="123.7" r="3.5"/><circle cx="887.1" cy="242.8" r="3.5"/><circle cx="865.6" cy="308.4" r="3.5"/><circle cx="975.8" cy="191.3" r="3.5"/><circle cx="985.3" cy="213.2" r="3.5"/><circle cx="992.3" cy="234.7" r="3.5"/><circle cx="865.6" cy="254.2" r="3.5"/><circle cx="1000.7" cy="205.8" r="3.5"/><circle cx="975.2" cy="171.7" r="3.5"/><circle cx="966.5" cy="182.4" r="3.5"/><circle cx="941.8" cy="174.6" r="3.5"/><circle cx="1089.8" cy="138.3" r="3.5"/><circle cx="883.6" cy="258.8" r="3.5"/><circle cx="972.0" cy="218.5" r="3.5"/><circle cx="923.0" cy="224.4" r="3.5"/><circle cx="886.5" cy="283.3" r="3.5"/><circle cx="874.8" cy="228.6" r="3.5"/><circle cx="842.4" cy="293.6" r="3.5"/><circle cx="956.4" cy="204.2" r="3.5"/><circle cx="835.8" cy="294.0" r="3.5"/><circle cx="920.4" cy="209.6" r="3.5"/><circle cx="951.8" cy="193.4" r="3.5"/><circle cx="946.8" cy="204.6" r="3.5"/><circle cx="937.0" cy="180.5" r="3.5"/><circle cx="1059.8" cy="167.6" r="3.5"/><circle cx="872.0" cy="260.7" r="3.5"/><circle cx="959.3" cy="144.0" r="3.5"/><circle cx="976.8" cy="175.1" r="3.5"/><circle cx="960.3" cy="218.7" r="3.5"/><circle cx="960.5" cy="161.0" r="3.5"/><circle cx="941.1" cy="216.7" r="3.5"/><circle cx="869.6" cy="226.0" r="3.5"/><circle cx="959.5" cy="218.7" r="3.5"/><circle cx="844.3" cy="215.5" r="3.5"/><circle cx="921.7" cy="182.5" r="3.5"/><circle cx="941.0" cy="246.5" r="3.5"/><circle cx="1093.2" cy="138.6" r="3.5"/><circle cx="1023.0" cy="269.8" r="3.5"/><circle cx="845.8" cy="241.3" r="3.5"/><circle cx="885.0" cy="264.3" r="3.5"/><circle cx="917.0" cy="202.7" r="3.5"/><circle cx="867.1" cy="295.6" r="3.5"/><circle cx="978.6" cy="224.6" r="3.5"/><circle cx="927.9" cy="188.2" r="3.5"/><circle cx="899.0" cy="243.7" r="3.5"/><circle cx="972.8" cy="141.8" r="3.5"/><circle cx="929.8" cy="248.5" r="3.5"/><circle cx="925.1" cy="171.1" r="3.5"/><circle cx="892.5" cy="251.4" r="3.5"/><circle cx="1019.5" cy="217.6" r="3.5"/><circle cx="932.2" cy="186.4" r="3.5"/><circle cx="891.4" cy="262.2" r="3.5"/><circle cx="931.7" cy="270.2" r="3.5"/><circle cx="911.1" cy="175.5" r="3.5"/><circle cx="920.1" cy="253.3" r="3.5"/><circle cx="887.6" cy="276.0" r="3.5"/><circle cx="1058.4" cy="175.5" r="3.5"/><circle cx="876.1" cy="254.5" r="3.5"/><circle cx="911.8" cy="217.2" r="3.5"/><circle cx="965.9" cy="207.7" r="3.5"/><circle cx="949.5" cy="202.2" r="3.5"/><circle cx="911.7" cy="249.2" r="3.5"/><circle cx="923.8" cy="243.4" r="3.5"/><circle cx="977.2" cy="177.8" r="3.5"/><circle cx="872.0" cy="186.2" r="3.5"/><circle cx="859.2" cy="241.7" r="3.5"/><circle cx="891.2" cy="168.8" r="3.5"/><circle cx="809.1" cy="306.0" r="3.5"/><circle cx="951.4" cy="156.4" r="3.5"/><circle cx="888.2" cy="239.5" r="3.5"/><circle cx="941.3" cy="176.1" r="3.5"/><circle cx="997.0" cy="165.3" r="3.5"/><circle cx="902.9" cy="218.4" r="3.5"/><circle cx="974.5" cy="157.3" r="3.5"/><circle cx="892.0" cy="258.0" r="3.5"/><circle cx="946.2" cy="195.9" r="3.5"/><circle cx="953.0" cy="229.1" r="3.5"/><circle cx="876.7" cy="282.1" r="3.5"/><circle cx="965.1" cy="167.8" r="3.5"/><circle cx="882.4" cy="207.7" r="3.5"/><circle cx="967.4" cy="163.9" r="3.5"/><circle cx="896.9" cy="211.4" r="3.5"/><circle cx="946.6" cy="259.5" r="3.5"/><circle cx="942.7" cy="226.3" r="3.5"/><circle cx="943.2" cy="231.7" r="3.5"/><circle cx="903.1" cy="230.0" r="3.5"/><circle cx="938.1" cy="241.8" r="3.5"/><circle cx="942.3" cy="233.9" r="3.5"/><circle cx="936.6" cy="183.8" r="3.5"/><circle cx="1076.6" cy="138.4" r="3.5"/><circle cx="943.4" cy="187.2" r="3.5"/><circle cx="959.4" cy="300.8" r="3.5"/><circle cx="949.3" cy="220.3" r="3.5"/><circle cx="988.9" cy="173.2" r="3.5"/><circle cx="952.0" cy="247.2" r="3.5"/><circle cx="1096.6" cy="113.5" r="3.5"/><circle cx="927.0" cy="277.3" r="3.5"/><circle cx="868.2" cy="270.6" r="3.5"/><circle cx="939.2" cy="297.6" r="3.5"/><circle cx="963.4" cy="216.2" r="3.5"/><circle cx="984.3" cy="204.4" r="3.5"/><circle cx="971.7" cy="132.9" r="3.5"/><circle cx="920.5" cy="196.0" r="3.5"/><circle cx="929.1" cy="232.2" r="3.5"/><circle cx="975.9" cy="209.1" r="3.5"/><circle cx="862.9" cy="261.5" r="3.5"/><circle cx="889.5" cy="228.8" r="3.5"/><circle cx="905.3" cy="225.5" r="3.5"/><circle cx="956.1" cy="211.2" r="3.5"/><circle cx="899.8" cy="212.1" r="3.5"/><circle cx="917.8" cy="235.5" r="3.5"/><circle cx="972.8" cy="210.7" r="3.5"/><circle cx="961.2" cy="215.2" r="3.5"/><circle cx="1122.5" cy="236.6" r="3.5"/><circle cx="934.4" cy="187.7" r="3.5"/><circle cx="1059.8" cy="218.8" r="3.5"/><circle cx="900.7" cy="252.7" r="3.5"/><circle cx="880.0" cy="239.3" r="3.5"/><circle cx="908.9" cy="276.5" r="3.5"/><circle cx="885.6" cy="236.9" r="3.5"/><circle cx="886.6" cy="291.1" r="3.5"/><circle cx="1019.8" cy="162.3" r="3.5"/><circle cx="932.3" cy="240.2" r="3.5"/><circle cx="889.3" cy="231.1" r="3.5"/><circle cx="967.5" cy="181.3" r="3.5"/><circle cx="884.5" cy="237.7" r="3.5"/><circle cx="912.6" cy="216.7" r="3.5"/><circle cx="865.9" cy="246.7" r="3.5"/><circle cx="874.8" cy="266.0" r="3.5"/><circle cx="847.1" cy="226.1" r="3.5"/><circle cx="883.2" cy="211.8" r="3.5"/><circle cx="913.3" cy="253.6" r="3.5"/><circle cx="849.9" cy="260.2" r="3.5"/><circle cx="1003.8" cy="165.7" r="3.5"/><circle cx="881.1" cy="269.6" r="3.5"/><circle cx="969.7" cy="172.1" r="3.5"/><circle cx="907.8" cy="244.8" r="3.5"/><circle cx="902.6" cy="246.3" r="3.5"/><circle cx="944.6" cy="244.6" r="3.5"/><circle cx="886.2" cy="299.0" r="3.5"/><circle cx="897.1" cy="297.5" r="3.5"/><circle cx="928.9" cy="254.6" r="3.5"/><circle cx="895.7" cy="251.8" r="3.5"/><circle cx="1011.9" cy="226.9" r="3.5"/><circle cx="860.6" cy="294.8" r="3.5"/><circle cx="935.1" cy="213.3" r="3.5"/><circle cx="894.6" cy="241.6" r="3.5"/><circle cx="978.0" cy="219.2" r="3.5"/><circle cx="934.2" cy="148.0" r="3.5"/><circle cx="914.7" cy="226.6" r="3.5"/><circle cx="927.9" cy="253.5" r="3.5"/><circle cx="851.4" cy="237.2" r="3.5"/><circle cx="957.4" cy="184.1" r="3.5"/><circle cx="886.3" cy="257.3" r="3.5"/><circle cx="921.4" cy="147.4" r="3.5"/><circle cx="940.1" cy="223.6" r="3.5"/><circle cx="897.6" cy="231.0" r="3.5"/><circle cx="897.5" cy="227.6" r="3.5"/><circle cx="852.2" cy="281.3" r="3.5"/><circle cx="943.3" cy="202.8" r="3.5"/><circle cx="907.9" cy="223.0" r="3.5"/><circle cx="941.6" cy="154.1" r="3.5"/><circle cx="865.7" cy="253.3" r="3.5"/><circle cx="873.1" cy="283.8" r="3.5"/><circle cx="923.7" cy="236.4" r="3.5"/><circle cx="884.2" cy="257.2" r="3.5"/><circle cx="976.7" cy="219.3" r="3.5"/><circle cx="962.6" cy="218.3" r="3.5"/><circle cx="938.8" cy="306.0" r="3.5"/><circle cx="972.2" cy="262.7" r="3.5"/><circle cx="911.3" cy="275.8" r="3.5"/><circle cx="884.0" cy="181.1" r="3.5"/><circle cx="941.2" cy="248.8" r="3.5"/><circle cx="961.3" cy="259.4" r="3.5"/><circle cx="986.2" cy="206.8" r="3.5"/><circle cx="941.6" cy="255.9" r="3.5"/><circle cx="904.8" cy="237.9" r="3.5"/><circle cx="932.5" cy="135.9" r="3.5"/><circle cx="968.3" cy="186.8" r="3.5"/><circle cx="951.6" cy="213.1" r="3.5"/><circle cx="867.5" cy="254.9" r="3.5"/><circle cx="895.4" cy="161.0" r="3.5"/><circle cx="935.4" cy="228.8" r="3.5"/><circle cx="905.4" cy="273.3" r="3.5"/><circle cx="878.7" cy="244.0" r="3.5"/><circle cx="934.4" cy="272.9" r="3.5"/><circle cx="944.5" cy="235.9" r="3.5"/><circle cx="946.7" cy="198.3" r="3.5"/><circle cx="995.2" cy="154.5" r="3.5"/><circle cx="953.8" cy="218.0" r="3.5"/><circle cx="962.9" cy="216.3" r="3.5"/><circle cx="940.3" cy="221.3" r="3.5"/><circle cx="895.1" cy="250.0" r="3.5"/><circle cx="956.5" cy="185.9" r="3.5"/><circle cx="945.2" cy="203.0" r="3.5"/><circle cx="925.8" cy="243.2" r="3.5"/><circle cx="920.7" cy="214.2" r="3.5"/><circle cx="948.3" cy="229.7" r="3.5"/><circle cx="924.7" cy="214.4" r="3.5"/><circle cx="898.9" cy="200.4" r="3.5"/><circle cx="867.8" cy="287.6" r="3.5"/><circle cx="1000.8" cy="228.0" r="3.5"/><circle cx="947.6" cy="200.9" r="3.5"/><circle cx="885.2" cy="216.4" r="3.5"/><circle cx="920.3" cy="224.8" r="3.5"/><circle cx="893.3" cy="252.9" r="3.5"/><circle cx="988.3" cy="158.7" r="3.5"/><circle cx="852.5" cy="230.6" r="3.5"/><circle cx="923.9" cy="228.2" r="3.5"/><circle cx="1043.2" cy="161.3" r="3.5"/><circle cx="912.5" cy="293.6" r="3.5"/><circle cx="934.1" cy="89.2" r="3.5"/><circle cx="964.0" cy="140.2" r="3.5"/><circle cx="1048.3" cy="191.4" r="3.5"/><circle cx="866.7" cy="242.7" r="3.5"/><circle cx="985.2" cy="177.0" r="3.5"/><circle cx="973.9" cy="162.3" r="3.5"/><circle cx="973.0" cy="213.8" r="3.5"/><circle cx="901.3" cy="199.9" r="3.5"/><circle cx="909.1" cy="248.2" r="3.5"/><circle cx="1084.2" cy="198.0" r="3.5"/><circle cx="922.1" cy="194.4" r="3.5"/><circle cx="926.5" cy="167.4" r="3.5"/><circle cx="926.6" cy="229.2" r="3.5"/><circle cx="888.8" cy="237.6" r="3.5"/><circle cx="882.5" cy="259.7" r="3.5"/><circle cx="910.8" cy="177.0" r="3.5"/><circle cx="1016.4" cy="139.3" r="3.5"/><circle cx="875.2" cy="286.9" r="3.5"/><circle cx="864.3" cy="212.9" r="3.5"/><circle cx="942.1" cy="172.9" r="3.5"/><circle cx="982.7" cy="184.3" r="3.5"/><circle cx="955.3" cy="258.8" r="3.5"/><circle cx="933.0" cy="270.7" r="3.5"/><circle cx="905.6" cy="233.3" r="3.5"/><circle cx="991.4" cy="221.3" r="3.5"/><circle cx="896.4" cy="206.4" r="3.5"/><circle cx="869.1" cy="170.5" r="3.5"/><circle cx="917.2" cy="229.2" r="3.5"/><circle cx="842.7" cy="285.8" r="3.5"/><circle cx="879.4" cy="269.0" r="3.5"/><circle cx="1033.0" cy="161.3" r="3.5"/><circle cx="853.2" cy="274.5" r="3.5"/><circle cx="893.3" cy="237.8" r="3.5"/><circle cx="888.7" cy="295.2" r="3.5"/><circle cx="935.3" cy="188.1" r="3.5"/><circle cx="938.5" cy="197.5" r="3.5"/><circle cx="918.4" cy="247.0" r="3.5"/><circle cx="909.7" cy="204.9" r="3.5"/><circle cx="1025.7" cy="181.1" r="3.5"/><circle cx="905.6" cy="236.0" r="3.5"/><circle cx="1059.8" cy="251.2" r="3.5"/><circle cx="926.8" cy="274.1" r="3.5"/><circle cx="980.5" cy="131.6" r="3.5"/><circle cx="891.2" cy="232.6" r="3.5"/><circle cx="975.9" cy="155.9" r="3.5"/><circle cx="892.2" cy="219.8" r="3.5"/><circle cx="901.7" cy="242.6" r="3.5"/><circle cx="908.6" cy="167.6" r="3.5"/><circle cx="963.6" cy="132.5" r="3.5"/><circle cx="961.9" cy="220.1" r="3.5"/><circle cx="905.3" cy="219.7" r="3.5"/><circle cx="878.3" cy="229.4" r="3.5"/><circle cx="884.2" cy="247.3" r="3.5"/><circle cx="912.5" cy="238.6" r="3.5"/><circle cx="941.4" cy="255.2" r="3.5"/><circle cx="909.2" cy="203.1" r="3.5"/><circle cx="919.0" cy="247.9" r="3.5"/><circle cx="923.2" cy="206.8" r="3.5"/><circle cx="948.3" cy="234.5" r="3.5"/><circle cx="910.7" cy="221.9" r="3.5"/><circle cx="884.3" cy="230.4" r="3.5"/><circle cx="890.7" cy="244.9" r="3.5"/><circle cx="910.8" cy="231.5" r="3.5"/><circle cx="984.1" cy="171.8" r="3.5"/><circle cx="897.2" cy="222.4" r="3.5"/><circle cx="963.3" cy="214.5" r="3.5"/><circle cx="995.8" cy="119.7" r="3.5"/><circle cx="837.8" cy="264.7" r="3.5"/><circle cx="931.9" cy="220.4" r="3.5"/><circle cx="899.3" cy="247.2" r="3.5"/><circle cx="894.3" cy="235.0" r="3.5"/><circle cx="958.0" cy="202.4" r="3.5"/><circle cx="863.1" cy="261.2" r="3.5"/><circle cx="897.9" cy="262.7" r="3.5"/><circle cx="929.0" cy="249.8" r="3.5"/><circle cx="925.2" cy="203.6" r="3.5"/><circle cx="915.4" cy="303.7" r="3.5"/><circle cx="936.5" cy="257.9" r="3.5"/><circle cx="973.9" cy="204.3" r="3.5"/><circle cx="913.5" cy="220.7" r="3.5"/><circle cx="1066.4" cy="289.6" r="3.5"/><circle cx="866.6" cy="241.5" r="3.5"/><circle cx="969.0" cy="209.7" r="3.5"/><circle cx="861.2" cy="261.9" r="3.5"/><circle cx="892.9" cy="249.4" r="3.5"/><circle cx="878.0" cy="221.7" r="3.5"/><circle cx="924.5" cy="279.1" r="3.5"/><circle cx="957.1" cy="226.6" r="3.5"/><circle cx="917.1" cy="238.8" r="3.5"/><circle cx="902.7" cy="204.2" r="3.5"/><circle cx="899.0" cy="295.6" r="3.5"/><circle cx="947.8" cy="192.9" r="3.5"/><circle cx="974.4" cy="192.1" r="3.5"/><circle cx="913.8" cy="255.7" r="3.5"/><circle cx="939.6" cy="212.0" r="3.5"/><circle cx="932.9" cy="190.7" r="3.5"/><circle cx="1050.5" cy="161.3" r="3.5"/><circle cx="880.5" cy="249.8" r="3.5"/><circle cx="909.9" cy="228.4" r="3.5"/><circle cx="918.5" cy="305.9" r="3.5"/><circle cx="933.6" cy="266.5" r="3.5"/><circle cx="943.9" cy="231.5" r="3.5"/><circle cx="864.1" cy="225.7" r="3.5"/><circle cx="917.2" cy="232.3" r="3.5"/><circle cx="961.2" cy="171.4" r="3.5"/><circle cx="901.1" cy="245.1" r="3.5"/><circle cx="924.0" cy="241.9" r="3.5"/><circle cx="899.4" cy="256.4" r="3.5"/><circle cx="908.2" cy="308.2" r="3.5"/><circle cx="994.3" cy="173.7" r="3.5"/><circle cx="911.3" cy="166.8" r="3.5"/><circle cx="959.1" cy="223.2" r="3.5"/><circle cx="847.1" cy="278.0" r="3.5"/><circle cx="923.5" cy="250.2" r="3.5"/><circle cx="843.3" cy="292.4" r="3.5"/><circle cx="939.9" cy="195.0" r="3.5"/><circle cx="948.5" cy="234.9" r="3.5"/><circle cx="919.1" cy="112.1" r="3.5"/><circle cx="916.8" cy="276.3" r="3.5"/><circle cx="942.4" cy="119.1" r="3.5"/><circle cx="906.5" cy="187.7" r="3.5"/><circle cx="942.1" cy="170.3" r="3.5"/><circle cx="912.0" cy="182.7" r="3.5"/><circle cx="969.5" cy="183.4" r="3.5"/><circle cx="878.6" cy="268.7" r="3.5"/><circle cx="893.5" cy="247.7" r="3.5"/><circle cx="931.8" cy="233.4" r="3.5"/><circle cx="923.1" cy="256.8" r="3.5"/><circle cx="904.2" cy="230.1" r="3.5"/><circle cx="968.6" cy="230.0" r="3.5"/><circle cx="990.7" cy="140.5" r="3.5"/><circle cx="938.3" cy="183.1" r="3.5"/><circle cx="923.6" cy="227.5" r="3.5"/><circle cx="947.5" cy="208.4" r="3.5"/><circle cx="990.4" cy="176.4" r="3.5"/><circle cx="815.9" cy="271.9" r="3.5"/><circle cx="921.6" cy="194.3" r="3.5"/><circle cx="957.7" cy="208.5" r="3.5"/><circle cx="911.8" cy="196.6" r="3.5"/><circle cx="885.3" cy="284.8" r="3.5"/><circle cx="929.1" cy="275.2" r="3.5"/><circle cx="960.6" cy="114.3" r="3.5"/><circle cx="883.8" cy="227.1" r="3.5"/><circle cx="891.0" cy="272.4" r="3.5"/><circle cx="911.5" cy="259.2" r="3.5"/><circle cx="929.0" cy="193.7" r="3.5"/><circle cx="1055.4" cy="237.6" r="3.5"/><circle cx="956.6" cy="215.6" r="3.5"/><circle cx="936.6" cy="300.9" r="3.5"/><circle cx="937.8" cy="238.6" r="3.5"/><circle cx="968.0" cy="199.3" r="3.5"/><circle cx="889.2" cy="255.8" r="3.5"/><circle cx="946.3" cy="206.6" r="3.5"/><circle cx="886.5" cy="249.6" r="3.5"/><circle cx="939.5" cy="158.0" r="3.5"/><circle cx="879.3" cy="240.5" r="3.5"/><circle cx="945.1" cy="195.4" r="3.5"/><circle cx="889.4" cy="248.5" r="3.5"/><circle cx="938.2" cy="202.5" r="3.5"/><circle cx="982.3" cy="168.4" r="3.5"/><circle cx="908.2" cy="212.6" r="3.5"/><circle cx="925.1" cy="260.1" r="3.5"/><circle cx="972.4" cy="263.9" r="3.5"/><circle cx="878.9" cy="274.0" r="3.5"/><circle cx="944.7" cy="191.0" r="3.5"/><circle cx="907.3" cy="240.0" r="3.5"/><circle cx="932.7" cy="179.5" r="3.5"/><circle cx="927.6" cy="224.4" r="3.5"/><circle cx="851.0" cy="260.4" r="3.5"/><circle cx="965.5" cy="180.9" r="3.5"/><circle cx="955.8" cy="247.1" r="3.5"/><circle cx="862.8" cy="276.8" r="3.5"/><circle cx="992.7" cy="201.9" r="3.5"/><circle cx="887.2" cy="242.6" r="3.5"/><circle cx="857.2" cy="251.6" r="3.5"/><circle cx="884.9" cy="246.7" r="3.5"/><circle cx="947.9" cy="195.6" r="3.5"/><circle cx="1055.1" cy="113.0" r="3.5"/><circle cx="845.1" cy="290.9" r="3.5"/><circle cx="902.9" cy="251.7" r="3.5"/><circle cx="904.3" cy="212.7" r="3.5"/><circle cx="988.7" cy="166.0" r="3.5"/><circle cx="894.9" cy="245.8" r="3.5"/><circle cx="919.3" cy="234.1" r="3.5"/><circle cx="878.8" cy="252.3" r="3.5"/><circle cx="983.7" cy="158.5" r="3.5"/><circle cx="955.8" cy="126.9" r="3.5"/><circle cx="887.4" cy="240.4" r="3.5"/><circle cx="891.3" cy="290.3" r="3.5"/><circle cx="924.9" cy="253.1" r="3.5"/><circle cx="896.3" cy="219.2" r="3.5"/><circle cx="937.7" cy="219.8" r="3.5"/><circle cx="982.0" cy="146.6" r="3.5"/><circle cx="874.3" cy="221.1" r="3.5"/><circle cx="971.8" cy="232.9" r="3.5"/><circle cx="868.5" cy="229.1" r="3.5"/><circle cx="939.8" cy="258.4" r="3.5"/><circle cx="916.9" cy="269.9" r="3.5"/><circle cx="934.1" cy="222.1" r="3.5"/><circle cx="866.8" cy="262.4" r="3.5"/><circle cx="876.6" cy="271.3" r="3.5"/><circle cx="901.7" cy="233.0" r="3.5"/><circle cx="863.1" cy="240.8" r="3.5"/><circle cx="1008.1" cy="195.2" r="3.5"/><circle cx="847.8" cy="230.9" r="3.5"/><circle cx="927.3" cy="243.7" r="3.5"/><circle cx="1016.4" cy="176.9" r="3.5"/><circle cx="1048.6" cy="134.2" r="3.5"/><circle cx="876.6" cy="263.2" r="3.5"/><circle cx="907.9" cy="294.0" r="3.5"/><circle cx="991.9" cy="160.8" r="3.5"/><circle cx="1013.2" cy="131.2" r="3.5"/><circle cx="914.0" cy="257.8" r="3.5"/><circle cx="888.5" cy="225.7" r="3.5"/><circle cx="918.7" cy="259.1" r="3.5"/><circle cx="884.1" cy="218.0" r="3.5"/><circle cx="909.1" cy="280.6" r="3.5"/><circle cx="995.7" cy="225.0" r="3.5"/><circle cx="884.2" cy="183.6" r="3.5"/><circle cx="1019.8" cy="139.3" r="3.5"/><circle cx="982.0" cy="174.2" r="3.5"/><circle cx="983.3" cy="165.1" r="3.5"/><circle cx="1000.3" cy="185.3" r="3.5"/><circle cx="958.2" cy="223.7" r="3.5"/><circle cx="919.5" cy="301.8" r="3.5"/><circle cx="1037.9" cy="225.1" r="3.5"/><circle cx="942.3" cy="250.1" r="3.5"/><circle cx="965.5" cy="227.6" r="3.5"/><circle cx="964.8" cy="240.6" r="3.5"/><circle cx="1004.4" cy="203.0" r="3.5"/><circle cx="922.0" cy="265.4" r="3.5"/><circle cx="849.2" cy="299.0" r="3.5"/><circle cx="918.5" cy="228.6" r="3.5"/><circle cx="923.3" cy="199.2" r="3.5"/><circle cx="879.3" cy="298.6" r="3.5"/><circle cx="848.5" cy="287.9" r="3.5"/><circle cx="970.0" cy="209.5" r="3.5"/><circle cx="902.4" cy="143.4" r="3.5"/><circle cx="914.2" cy="232.1" r="3.5"/><circle cx="991.6" cy="175.8" r="3.5"/><circle cx="993.6" cy="198.2" r="3.5"/><circle cx="892.3" cy="270.9" r="3.5"/><circle cx="936.7" cy="215.4" r="3.5"/><circle cx="911.6" cy="243.4" r="3.5"/><circle cx="903.2" cy="233.5" r="3.5"/><circle cx="964.4" cy="232.2" r="3.5"/><circle cx="879.3" cy="237.4" r="3.5"/><circle cx="863.4" cy="235.7" r="3.5"/><circle cx="819.5" cy="304.6" r="3.5"/><circle cx="964.8" cy="204.7" r="3.5"/><circle cx="935.8" cy="250.6" r="3.5"/><circle cx="916.5" cy="248.6" r="3.5"/><circle cx="934.7" cy="170.5" r="3.5"/><circle cx="844.4" cy="239.3" r="3.5"/><circle cx="976.8" cy="142.3" r="3.5"/><circle cx="905.7" cy="199.8" r="3.5"/><circle cx="953.2" cy="185.9" r="3.5"/><circle cx="869.1" cy="299.0" r="3.5"/><circle cx="889.5" cy="224.9" r="3.5"/><circle cx="897.5" cy="257.7" r="3.5"/><circle cx="951.0" cy="162.5" r="3.5"/><circle cx="954.0" cy="201.9" r="3.5"/><circle cx="918.5" cy="251.0" r="3.5"/><circle cx="971.8" cy="240.3" r="3.5"/><circle cx="953.6" cy="150.5" r="3.5"/><circle cx="916.2" cy="151.0" r="3.5"/><circle cx="937.8" cy="217.1" r="3.5"/><circle cx="1009.2" cy="308.2" r="3.5"/><circle cx="891.9" cy="235.7" r="3.5"/><circle cx="958.8" cy="173.3" r="3.5"/><circle cx="885.1" cy="240.9" r="3.5"/><circle cx="979.7" cy="188.9" r="3.5"/><circle cx="904.2" cy="215.1" r="3.5"/><circle cx="985.7" cy="104.0" r="3.5"/><circle cx="915.7" cy="199.0" r="3.5"/><circle cx="973.4" cy="198.5" r="3.5"/><circle cx="969.8" cy="191.3" r="3.5"/><circle cx="905.8" cy="198.1" r="3.5"/><circle cx="1210.1" cy="198.0" r="3.5"/><circle cx="918.9" cy="218.1" r="3.5"/><circle cx="976.4" cy="166.2" r="3.5"/><circle cx="917.7" cy="172.4" r="3.5"/><circle cx="940.4" cy="231.7" r="3.5"/><circle cx="910.5" cy="213.8" r="3.5"/><circle cx="898.1" cy="263.7" r="3.5"/><circle cx="942.5" cy="159.0" r="3.5"/><circle cx="860.3" cy="292.2" r="3.5"/><circle cx="926.8" cy="234.3" r="3.5"/><circle cx="948.1" cy="236.2" r="3.5"/><circle cx="1043.2" cy="156.2" r="3.5"/><circle cx="942.9" cy="159.8" r="3.5"/><circle cx="927.6" cy="213.6" r="3.5"/><circle cx="859.5" cy="248.0" r="3.5"/><circle cx="898.0" cy="223.5" r="3.5"/><circle cx="914.9" cy="205.8" r="3.5"/><circle cx="815.7" cy="278.1" r="3.5"/><circle cx="912.2" cy="278.6" r="3.5"/><circle cx="946.7" cy="231.2" r="3.5"/><circle cx="853.4" cy="271.0" r="3.5"/><circle cx="890.6" cy="251.9" r="3.5"/><circle cx="995.0" cy="199.6" r="3.5"/><circle cx="963.4" cy="233.0" r="3.5"/><circle cx="892.2" cy="225.2" r="3.5"/><circle cx="987.7" cy="223.8" r="3.5"/><circle cx="891.7" cy="260.9" r="3.5"/><circle cx="953.9" cy="226.7" r="3.5"/><circle cx="925.1" cy="276.0" r="3.5"/><circle cx="875.0" cy="245.3" r="3.5"/><circle cx="907.6" cy="272.2" r="3.5"/><circle cx="899.0" cy="179.8" r="3.5"/><circle cx="936.5" cy="254.1" r="3.5"/><circle cx="881.2" cy="285.6" r="3.5"/><circle cx="997.9" cy="166.5" r="3.5"/><circle cx="963.8" cy="217.8" r="3.5"/><circle cx="925.6" cy="216.0" r="3.5"/><circle cx="922.1" cy="179.1" r="3.5"/><circle cx="872.1" cy="206.7" r="3.5"/><circle cx="869.0" cy="267.0" r="3.5"/><circle cx="1005.6" cy="110.2" r="3.5"/><circle cx="948.0" cy="233.4" r="3.5"/><circle cx="936.2" cy="181.6" r="3.5"/><circle cx="961.9" cy="194.3" r="3.5"/><circle cx="919.3" cy="234.6" r="3.5"/><circle cx="916.8" cy="220.7" r="3.5"/><circle cx="911.2" cy="244.0" r="3.5"/><circle cx="908.1" cy="253.8" r="3.5"/><circle cx="938.0" cy="188.5" r="3.5"/><circle cx="825.6" cy="275.9" r="3.5"/><circle cx="875.4" cy="293.4" r="3.5"/><circle cx="988.7" cy="208.0" r="3.5"/><circle cx="944.5" cy="197.0" r="3.5"/><circle cx="928.7" cy="238.7" r="3.5"/><circle cx="937.9" cy="182.2" r="3.5"/><circle cx="910.1" cy="194.0" r="3.5"/><circle cx="931.7" cy="250.8" r="3.5"/><circle cx="890.0" cy="211.6" r="3.5"/><circle cx="957.5" cy="164.7" r="3.5"/><circle cx="948.9" cy="169.6" r="3.5"/><circle cx="910.4" cy="237.0" r="3.5"/><circle cx="853.7" cy="308.2" r="3.5"/><circle cx="883.9" cy="250.7" r="3.5"/><circle cx="866.1" cy="230.3" r="3.5"/><circle cx="844.3" cy="239.0" r="3.5"/><circle cx="946.3" cy="134.7" r="3.5"/><circle cx="909.2" cy="189.9" r="3.5"/><circle cx="971.9" cy="189.2" r="3.5"/><circle cx="887.5" cy="264.0" r="3.5"/><circle cx="877.3" cy="239.7" r="3.5"/><circle cx="979.6" cy="205.1" r="3.5"/><circle cx="935.9" cy="159.6" r="3.5"/><circle cx="949.1" cy="237.0" r="3.5"/><circle cx="953.0" cy="174.7" r="3.5"/><circle cx="963.5" cy="211.0" r="3.5"/><circle cx="959.0" cy="179.3" r="3.5"/><circle cx="949.6" cy="176.8" r="3.5"/><circle cx="950.4" cy="178.0" r="3.5"/><circle cx="895.8" cy="268.6" r="3.5"/><circle cx="1016.4" cy="149.8" r="3.5"/><circle cx="960.0" cy="168.7" r="3.5"/><circle cx="943.3" cy="191.4" r="3.5"/><circle cx="891.7" cy="210.5" r="3.5"/><circle cx="942.2" cy="224.0" r="3.5"/><circle cx="950.2" cy="230.4" r="3.5"/><circle cx="984.8" cy="157.5" r="3.5"/><circle cx="975.7" cy="128.7" r="3.5"/><circle cx="913.9" cy="299.0" r="3.5"/><circle cx="902.3" cy="284.1" r="3.5"/><circle cx="1013.6" cy="286.6" r="3.5"/><circle cx="890.2" cy="247.5" r="3.5"/><circle cx="834.0" cy="251.9" r="3.5"/><circle cx="849.0" cy="181.5" r="3.5"/><circle cx="867.9" cy="250.2" r="3.5"/><circle cx="872.4" cy="254.6" r="3.5"/><circle cx="945.2" cy="200.0" r="3.5"/><circle cx="920.1" cy="255.3" r="3.5"/><circle cx="915.2" cy="187.9" r="3.5"/><circle cx="877.8" cy="264.6" r="3.5"/><circle cx="945.0" cy="248.3" r="3.5"/><circle cx="887.3" cy="216.1" r="3.5"/><circle cx="942.2" cy="164.3" r="3.5"/><circle cx="894.6" cy="267.8" r="3.5"/><circle cx="880.4" cy="275.1" r="3.5"/><circle cx="928.2" cy="226.9" r="3.5"/><circle cx="886.0" cy="217.2" r="3.5"/><circle cx="960.3" cy="154.9" r="3.5"/><circle cx="895.4" cy="244.9" r="3.5"/><circle cx="921.2" cy="192.8" r="3.5"/><circle cx="946.3" cy="230.8" r="3.5"/><circle cx="930.3" cy="208.4" r="3.5"/><circle cx="900.6" cy="255.7" r="3.5"/><circle cx="892.7" cy="280.6" r="3.5"/><circle cx="900.6" cy="281.7" r="3.5"/><circle cx="923.4" cy="226.9" r="3.5"/><circle cx="858.3" cy="263.6" r="3.5"/><circle cx="873.5" cy="250.9" r="3.5"/><circle cx="935.3" cy="249.0" r="3.5"/><circle cx="907.5" cy="225.1" r="3.5"/><circle cx="909.0" cy="267.1" r="3.5"/><circle cx="815.7" cy="259.1" r="3.5"/><circle cx="938.6" cy="209.0" r="3.5"/><circle cx="931.4" cy="222.4" r="3.5"/><circle cx="859.4" cy="197.1" r="3.5"/><circle cx="901.6" cy="238.2" r="3.5"/><circle cx="965.9" cy="156.9" r="3.5"/><circle cx="887.6" cy="237.4" r="3.5"/><circle cx="900.2" cy="255.1" r="3.5"/><circle cx="921.1" cy="223.2" r="3.5"/><circle cx="846.9" cy="259.8" r="3.5"/><circle cx="973.6" cy="260.9" r="3.5"/><circle cx="957.0" cy="178.5" r="3.5"/><circle cx="888.0" cy="236.4" r="3.5"/><circle cx="933.2" cy="212.6" r="3.5"/><circle cx="1014.9" cy="168.4" r="3.5"/><circle cx="909.4" cy="268.3" r="3.5"/><circle cx="909.1" cy="116.3" r="3.5"/><circle cx="851.9" cy="266.7" r="3.5"/><circle cx="961.9" cy="145.7" r="3.5"/><circle cx="968.2" cy="187.0" r="3.5"/><circle cx="912.7" cy="247.8" r="3.5"/><circle cx="882.4" cy="229.5" r="3.5"/><circle cx="969.9" cy="153.4" r="3.5"/><circle cx="944.4" cy="170.0" r="3.5"/><circle cx="830.6" cy="273.7" r="3.5"/><circle cx="881.5" cy="245.9" r="3.5"/><circle cx="889.5" cy="231.8" r="3.5"/><circle cx="985.7" cy="123.7" r="3.5"/><circle cx="957.9" cy="148.6" r="3.5"/><circle cx="968.5" cy="152.9" r="3.5"/><circle cx="1022.9" cy="193.7" r="3.5"/><circle cx="963.7" cy="244.6" r="3.5"/><circle cx="927.3" cy="270.4" r="3.5"/><circle cx="920.4" cy="244.5" r="3.5"/><circle cx="889.4" cy="192.1" r="3.5"/><circle cx="892.1" cy="299.4" r="3.5"/><circle cx="967.5" cy="198.7" r="3.5"/><circle cx="893.9" cy="186.5" r="3.5"/><circle cx="867.6" cy="191.0" r="3.5"/><circle cx="915.0" cy="195.0" r="3.5"/><circle cx="868.8" cy="243.1" r="3.5"/><circle cx="1011.0" cy="230.3" r="3.5"/><circle cx="1005.2" cy="178.9" r="3.5"/><circle cx="934.7" cy="205.0" r="3.5"/><circle cx="985.4" cy="143.6" r="3.5"/><circle cx="943.2" cy="256.6" r="3.5"/><circle cx="965.2" cy="214.7" r="3.5"/><circle cx="1001.7" cy="183.2" r="3.5"/><circle cx="1026.3" cy="167.6" r="3.5"/><circle cx="921.0" cy="235.1" r="3.5"/><circle cx="958.5" cy="197.6" r="3.5"/><circle cx="1075.7" cy="275.0" r="3.5"/><circle cx="883.1" cy="219.0" r="3.5"/><circle cx="871.8" cy="244.8" r="3.5"/><circle cx="966.9" cy="184.4" r="3.5"/><circle cx="883.9" cy="241.2" r="3.5"/><circle cx="902.0" cy="222.2" r="3.5"/><circle cx="866.2" cy="245.4" r="3.5"/><circle cx="906.8" cy="185.0" r="3.5"/><circle cx="861.9" cy="274.5" r="3.5"/><circle cx="926.1" cy="151.5" r="3.5"/><circle cx="872.6" cy="221.1" r="3.5"/><circle cx="950.1" cy="234.2" r="3.5"/><circle cx="906.5" cy="178.9" r="3.5"/><circle cx="952.0" cy="196.2" r="3.5"/><circle cx="866.5" cy="265.5" r="3.5"/><circle cx="907.7" cy="232.7" r="3.5"/><circle cx="907.5" cy="228.4" r="3.5"/><circle cx="948.7" cy="244.0" r="3.5"/><circle cx="945.9" cy="238.3" r="3.5"/><circle cx="905.3" cy="197.4" r="3.5"/><circle cx="954.2" cy="191.6" r="3.5"/><circle cx="955.5" cy="161.7" r="3.5"/><circle cx="988.9" cy="119.5" r="3.5"/><circle cx="871.5" cy="235.3" r="3.5"/><circle cx="925.1" cy="190.3" r="3.5"/><circle cx="1016.1" cy="120.6" r="3.5"/><circle cx="851.2" cy="223.9" r="3.5"/><circle cx="922.2" cy="245.8" r="3.5"/><circle cx="872.2" cy="245.2" r="3.5"/><circle cx="903.8" cy="269.4" r="3.5"/><circle cx="929.5" cy="217.8" r="3.5"/><circle cx="863.7" cy="280.9" r="3.5"/><circle cx="1307.1" cy="205.8" r="3.5"/><circle cx="919.3" cy="264.5" r="3.5"/><circle cx="973.0" cy="167.2" r="3.5"/><circle cx="929.7" cy="220.1" r="3.5"/><circle cx="935.7" cy="252.9" r="3.5"/><circle cx="947.2" cy="277.8" r="3.5"/><circle cx="895.1" cy="208.9" r="3.5"/><circle cx="962.8" cy="144.9" r="3.5"/><circle cx="965.7" cy="181.2" r="3.5"/><circle cx="976.2" cy="177.3" r="3.5"/><circle cx="965.7" cy="186.2" r="3.5"/><circle cx="908.0" cy="220.8" r="3.5"/><circle cx="930.6" cy="205.4" r="3.5"/><circle cx="829.8" cy="267.7" r="3.5"/><circle cx="935.3" cy="142.9" r="3.5"/><circle cx="886.5" cy="252.1" r="3.5"/><circle cx="891.1" cy="235.4" r="3.5"/><circle cx="1005.8" cy="200.7" r="3.5"/><circle cx="935.0" cy="175.8" r="3.5"/><circle cx="907.8" cy="306.5" r="3.5"/><circle cx="945.8" cy="122.5" r="3.5"/><circle cx="902.4" cy="298.5" r="3.5"/><circle cx="908.6" cy="256.6" r="3.5"/><circle cx="911.2" cy="249.5" r="3.5"/><circle cx="967.1" cy="197.9" r="3.5"/><circle cx="866.7" cy="258.3" r="3.5"/><circle cx="904.0" cy="296.6" r="3.5"/><circle cx="886.3" cy="245.5" r="3.5"/><circle cx="900.5" cy="222.3" r="3.5"/><circle cx="916.9" cy="236.7" r="3.5"/><circle cx="940.6" cy="300.4" r="3.5"/><circle cx="979.8" cy="242.2" r="3.5"/><circle cx="940.4" cy="150.8" r="3.5"/><circle cx="923.2" cy="236.2" r="3.5"/><circle cx="989.1" cy="172.6" r="3.5"/><circle cx="867.9" cy="228.2" r="3.5"/><circle cx="906.8" cy="252.5" r="3.5"/><circle cx="995.5" cy="196.5" r="3.5"/><circle cx="931.9" cy="179.9" r="3.5"/><circle cx="952.5" cy="149.3" r="3.5"/><circle cx="983.2" cy="161.2" r="3.5"/><circle cx="851.8" cy="256.2" r="3.5"/><circle cx="992.5" cy="294.0" r="3.5"/><circle cx="935.6" cy="235.9" r="3.5"/><circle cx="1149.1" cy="124.9" r="3.5"/><circle cx="962.8" cy="225.8" r="3.5"/><circle cx="906.8" cy="293.3" r="3.5"/><circle cx="917.2" cy="229.8" r="3.5"/><circle cx="933.6" cy="203.9" r="3.5"/><circle cx="805.9" cy="255.9" r="3.5"/><circle cx="867.3" cy="262.5" r="3.5"/><circle cx="891.0" cy="234.5" r="3.5"/><circle cx="951.7" cy="217.0" r="3.5"/><circle cx="925.9" cy="239.2" r="3.5"/><circle cx="961.9" cy="199.3" r="3.5"/><circle cx="969.9" cy="163.5" r="3.5"/><circle cx="916.7" cy="250.4" r="3.5"/><circle cx="947.2" cy="275.3" r="3.5"/><circle cx="968.1" cy="213.6" r="3.5"/><circle cx="932.0" cy="243.1" r="3.5"/><circle cx="913.6" cy="205.7" r="3.5"/><circle cx="943.4" cy="209.0" r="3.5"/><circle cx="852.5" cy="256.9" r="3.5"/><circle cx="920.4" cy="201.8" r="3.5"/><circle cx="907.5" cy="284.3" r="3.5"/><circle cx="934.2" cy="221.6" r="3.5"/><circle cx="922.2" cy="227.2" r="3.5"/><circle cx="906.6" cy="245.7" r="3.5"/><circle cx="882.1" cy="215.7" r="3.5"/><circle cx="994.9" cy="194.1" r="3.5"/><circle cx="916.1" cy="229.7" r="3.5"/><circle cx="927.7" cy="242.1" r="3.5"/><circle cx="965.4" cy="225.3" r="3.5"/><circle cx="953.7" cy="221.3" r="3.5"/><circle cx="902.8" cy="201.2" r="3.5"/><circle cx="898.8" cy="241.9" r="3.5"/><circle cx="916.9" cy="251.2" r="3.5"/><circle cx="877.3" cy="255.6" r="3.5"/><circle cx="920.5" cy="185.6" r="3.5"/><circle cx="845.8" cy="305.2" r="3.5"/><circle cx="941.0" cy="210.5" r="3.5"/><circle cx="917.8" cy="215.1" r="3.5"/><circle cx="963.0" cy="268.0" r="3.5"/><circle cx="1022.9" cy="195.9" r="3.5"/><circle cx="906.2" cy="249.0" r="3.5"/><circle cx="963.2" cy="174.6" r="3.5"/><circle cx="964.6" cy="220.0" r="3.5"/><circle cx="1022.0" cy="226.1" r="3.5"/><circle cx="931.8" cy="207.4" r="3.5"/><circle cx="854.9" cy="289.2" r="3.5"/><circle cx="950.0" cy="211.6" r="3.5"/><circle cx="874.1" cy="301.1" r="3.5"/><circle cx="1100.5" cy="208.3" r="3.5"/><circle cx="955.4" cy="197.2" r="3.5"/><circle cx="875.1" cy="279.8" r="3.5"/><circle cx="964.8" cy="233.8" r="3.5"/><circle cx="988.5" cy="200.2" r="3.5"/><circle cx="880.1" cy="277.6" r="3.5"/><circle cx="864.2" cy="223.4" r="3.5"/><circle cx="930.4" cy="155.1" r="3.5"/><circle cx="928.6" cy="244.2" r="3.5"/><circle cx="980.6" cy="169.8" r="3.5"/><circle cx="982.9" cy="240.1" r="3.5"/><circle cx="929.0" cy="214.7" r="3.5"/><circle cx="971.2" cy="178.6" r="3.5"/><circle cx="857.8" cy="261.2" r="3.5"/><circle cx="908.4" cy="225.6" r="3.5"/><circle cx="943.9" cy="239.7" r="3.5"/><circle cx="869.0" cy="246.0" r="3.5"/><circle cx="989.8" cy="220.4" r="3.5"/><circle cx="989.6" cy="214.1" r="3.5"/><circle cx="942.1" cy="168.1" r="3.5"/><circle cx="959.8" cy="252.7" r="3.5"/><circle cx="946.1" cy="163.2" r="3.5"/><circle cx="903.9" cy="231.5" r="3.5"/><circle cx="945.9" cy="170.8" r="3.5"/><circle cx="963.0" cy="189.4" r="3.5"/><circle cx="974.6" cy="192.5" r="3.5"/><circle cx="912.1" cy="243.7" r="3.5"/><circle cx="994.7" cy="155.9" r="3.5"/><circle cx="893.4" cy="271.6" r="3.5"/><circle cx="805.5" cy="265.7" r="3.5"/><circle cx="948.8" cy="182.7" r="3.5"/><circle cx="938.9" cy="210.4" r="3.5"/><circle cx="880.1" cy="269.5" r="3.5"/><circle cx="919.3" cy="247.7" r="3.5"/><circle cx="893.7" cy="226.2" r="3.5"/><circle cx="945.5" cy="229.5" r="3.5"/><circle cx="915.8" cy="242.4" r="3.5"/><circle cx="962.0" cy="265.6" r="3.5"/><circle cx="866.0" cy="211.2" r="3.5"/><circle cx="928.6" cy="227.3" r="3.5"/><circle cx="890.6" cy="248.4" r="3.5"/><circle cx="932.6" cy="198.9" r="3.5"/><circle cx="922.2" cy="196.2" r="3.5"/><circle cx="936.7" cy="281.7" r="3.5"/><circle cx="930.6" cy="210.0" r="3.5"/><circle cx="970.6" cy="206.2" r="3.5"/><circle cx="987.8" cy="236.8" r="3.5"/><circle cx="965.3" cy="272.1" r="3.5"/><circle cx="868.7" cy="234.0" r="3.5"/><circle cx="982.3" cy="147.1" r="3.5"/><circle cx="955.2" cy="221.8" r="3.5"/><circle cx="958.6" cy="278.5" r="3.5"/><circle cx="880.2" cy="241.0" r="3.5"/><circle cx="928.5" cy="254.8" r="3.5"/><circle cx="953.3" cy="152.6" r="3.5"/><circle cx="924.2" cy="217.5" r="3.5"/><circle cx="860.5" cy="256.1" r="3.5"/><circle cx="926.6" cy="218.5" r="3.5"/><circle cx="969.0" cy="203.7" r="3.5"/><circle cx="966.8" cy="201.6" r="3.5"/><circle cx="949.6" cy="232.5" r="3.5"/><circle cx="962.1" cy="174.0" r="3.5"/><circle cx="914.5" cy="246.3" r="3.5"/><circle cx="940.3" cy="238.4" r="3.5"/><circle cx="908.4" cy="273.5" r="3.5"/><circle cx="884.5" cy="264.9" r="3.5"/><circle cx="896.3" cy="265.2" r="3.5"/><circle cx="951.3" cy="194.7" r="3.5"/><circle cx="928.2" cy="207.6" r="3.5"/><circle cx="896.6" cy="251.2" r="3.5"/><circle cx="899.3" cy="235.0" r="3.5"/><circle cx="914.5" cy="214.1" r="3.5"/><circle cx="868.5" cy="236.5" r="3.5"/><circle cx="897.6" cy="222.9" r="3.5"/><circle cx="826.8" cy="280.0" r="3.5"/><circle cx="891.4" cy="238.1" r="3.5"/><circle cx="952.9" cy="180.2" r="3.5"/><circle cx="964.9" cy="227.6" r="3.5"/><circle cx="1124.5" cy="232.2" r="3.5"/><circle cx="945.1" cy="193.8" r="3.5"/><circle cx="949.1" cy="190.6" r="3.5"/><circle cx="897.3" cy="242.3" r="3.5"/><circle cx="914.9" cy="239.1" r="3.5"/><circle cx="939.8" cy="234.9" r="3.5"/><circle cx="948.1" cy="233.8" r="3.5"/><circle cx="891.3" cy="278.3" r="3.5"/><circle cx="882.6" cy="219.4" r="3.5"/><circle cx="913.7" cy="238.3" r="3.5"/><circle cx="972.0" cy="211.8" r="3.5"/><circle cx="866.0" cy="272.6" r="3.5"/><circle cx="942.1" cy="286.3" r="3.5"/><circle cx="928.5" cy="227.1" r="3.5"/><circle cx="917.8" cy="286.0" r="3.5"/><circle cx="977.9" cy="210.1" r="3.5"/><circle cx="956.0" cy="149.9" r="3.5"/><circle cx="866.4" cy="288.6" r="3.5"/><circle cx="936.1" cy="293.6" r="3.5"/><circle cx="917.1" cy="273.7" r="3.5"/><circle cx="958.8" cy="239.6" r="3.5"/><circle cx="949.8" cy="200.6" r="3.5"/><circle cx="947.3" cy="187.4" r="3.5"/><circle cx="895.4" cy="241.4" r="3.5"/><circle cx="878.0" cy="246.2" r="3.5"/><circle cx="883.7" cy="258.6" r="3.5"/><circle cx="989.9" cy="208.2" r="3.5"/><circle cx="984.7" cy="180.1" r="3.5"/><circle cx="931.4" cy="249.0" r="3.5"/><circle cx="954.8" cy="189.1" r="3.5"/><circle cx="905.3" cy="215.9" r="3.5"/><circle cx="870.7" cy="238.8" r="3.5"/><circle cx="894.8" cy="224.7" r="3.5"/><circle cx="935.4" cy="169.1" r="3.5"/><circle cx="926.4" cy="177.5" r="3.5"/><circle cx="987.7" cy="300.8" r="3.5"/><circle cx="909.7" cy="176.8" r="3.5"/><circle cx="958.0" cy="207.5" r="3.5"/><circle cx="989.0" cy="212.7" r="3.5"/><circle cx="904.1" cy="228.2" r="3.5"/><circle cx="874.9" cy="227.9" r="3.5"/><circle cx="864.0" cy="261.8" r="3.5"/><circle cx="982.7" cy="188.7" r="3.5"/><circle cx="902.0" cy="294.0" r="3.5"/><circle cx="900.7" cy="181.8" r="3.5"/><circle cx="920.7" cy="164.5" r="3.5"/><circle cx="1076.4" cy="251.2" r="3.5"/><circle cx="986.6" cy="161.8" r="3.5"/><circle cx="958.1" cy="206.4" r="3.5"/><circle cx="984.1" cy="160.4" r="3.5"/><circle cx="942.8" cy="263.4" r="3.5"/><circle cx="919.1" cy="177.7" r="3.5"/><circle cx="917.4" cy="237.2" r="3.5"/><circle cx="905.5" cy="267.4" r="3.5"/><circle cx="855.7" cy="299.0" r="3.5"/><circle cx="918.0" cy="230.7" r="3.5"/><circle cx="976.4" cy="138.2" r="3.5"/><circle cx="869.2" cy="188.1" r="3.5"/><circle cx="1036.4" cy="237.6" r="3.5"/><circle cx="989.6" cy="190.3" r="3.5"/><circle cx="847.8" cy="305.6" r="3.5"/><circle cx="887.1" cy="302.4" r="3.5"/><circle cx="912.4" cy="232.0" r="3.5"/><circle cx="905.4" cy="266.2" r="3.5"/><circle cx="949.2" cy="232.8" r="3.5"/><circle cx="860.8" cy="254.2" r="3.5"/><circle cx="898.7" cy="257.7" r="3.5"/><circle cx="926.5" cy="302.7" r="3.5"/><circle cx="913.5" cy="222.6" r="3.5"/><circle cx="1111.1" cy="213.5" r="3.5"/><circle cx="950.6" cy="224.2" r="3.5"/>
</g>
<line x1="806.02" y1="271.55" x2="1307.67" y2="75.13" stroke="#000" stroke-width="4.8"/>
<defs><radialGradient id="ptD"><stop offset="0.47" stop-color="#f20808" stop-opacity="0.5"/><stop offset="0.58" stop-color="#f20808" stop-opacity="0.75"/></radialGradient></defs>
<g fill="url(#ptD)">
<circle cx="411.6" cy="557.2" r="3.5"/><circle cx="289.7" cy="639.9" r="3.5"/><circle cx="342.4" cy="604.1" r="3.5"/><circle cx="247.5" cy="681.2" r="3.5"/><circle cx="569.6" cy="589.2" r="3.5"/><circle cx="338.0" cy="595.8" r="3.5"/><circle cx="299.7" cy="674.0" r="3.5"/><circle cx="321.6" cy="610.9" r="3.5"/><circle cx="336.2" cy="641.2" r="3.5"/><circle cx="436.6" cy="603.3" r="3.5"/><circle cx="305.3" cy="683.1" r="3.5"/><circle cx="287.7" cy="692.9" r="3.5"/><circle cx="309.9" cy="654.6" r="3.5"/><circle cx="240.5" cy="732.7" r="3.5"/><circle cx="335.9" cy="655.6" r="3.5"/><circle cx="495.7" cy="609.0" r="3.5"/><circle cx="572.9" cy="538.2" r="3.5"/><circle cx="265.7" cy="698.3" r="3.5"/><circle cx="320.3" cy="669.8" r="3.5"/><circle cx="376.0" cy="669.7" r="3.5"/><circle cx="250.0" cy="673.9" r="3.5"/><circle cx="295.4" cy="677.1" r="3.5"/><circle cx="433.8" cy="539.0" r="3.5"/><circle cx="254.2" cy="664.8" r="3.5"/><circle cx="240.6" cy="700.3" r="3.5"/><circle cx="351.7" cy="596.3" r="3.5"/><circle cx="337.2" cy="639.2" r="3.5"/><circle cx="264.9" cy="657.3" r="3.5"/><circle cx="334.6" cy="607.9" r="3.5"/><circle cx="450.8" cy="615.5" r="3.5"/><circle cx="293.4" cy="674.4" r="3.5"/><circle cx="257.9" cy="725.7" r="3.5"/><circle cx="400.9" cy="570.5" r="3.5"/><circle cx="460.2" cy="609.8" r="3.5"/><circle cx="283.5" cy="647.9" r="3.5"/><circle cx="335.1" cy="675.4" r="3.5"/><circle cx="493.5" cy="582.3" r="3.5"/><circle cx="256.2" cy="684.6" r="3.5"/><circle cx="262.9" cy="726.2" r="3.5"/><circle cx="250.1" cy="643.4" r="3.5"/><circle cx="324.9" cy="701.1" r="3.5"/><circle cx="289.3" cy="691.8" r="3.5"/><circle cx="415.3" cy="552.8" r="3.5"/><circle cx="355.5" cy="631.9" r="3.5"/><circle cx="325.2" cy="657.9" r="3.5"/><circle cx="273.5" cy="677.4" r="3.5"/><circle cx="412.0" cy="601.9" r="3.5"/><circle cx="423.3" cy="495.2" r="3.5"/><circle cx="420.5" cy="609.5" r="3.5"/><circle cx="319.5" cy="645.7" r="3.5"/><circle cx="421.1" cy="608.2" r="3.5"/><circle cx="428.0" cy="607.6" r="3.5"/><circle cx="388.3" cy="683.5" r="3.5"/><circle cx="253.2" cy="706.3" r="3.5"/><circle cx="258.2" cy="705.5" r="3.5"/><circle cx="443.7" cy="629.6" r="3.5"/><circle cx="259.6" cy="670.6" r="3.5"/><circle cx="400.5" cy="644.9" r="3.5"/><circle cx="246.1" cy="674.2" r="3.5"/><circle cx="311.4" cy="651.0" r="3.5"/><circle cx="448.3" cy="614.3" r="3.5"/><circle cx="381.9" cy="651.8" r="3.5"/><circle cx="241.1" cy="639.2" r="3.5"/><circle cx="266.6" cy="640.0" r="3.5"/><circle cx="338.8" cy="671.7" r="3.5"/><circle cx="402.7" cy="611.8" r="3.5"/><circle cx="320.0" cy="661.2" r="3.5"/><circle cx="297.2" cy="621.6" r="3.5"/><circle cx="241.7" cy="692.0" r="3.5"/><circle cx="402.3" cy="720.5" r="3.5"/><circle cx="230.6" cy="684.9" r="3.5"/><circle cx="317.9" cy="678.8" r="3.5"/><circle cx="311.3" cy="715.8" r="3.5"/><circle cx="290.9" cy="663.0" r="3.5"/><circle cx="456.9" cy="649.3" r="3.5"/><circle cx="349.7" cy="644.6" r="3.5"/><circle cx="288.7" cy="668.0" r="3.5"/><circle cx="275.1" cy="690.9" r="3.5"/><circle cx="364.5" cy="627.7" r="3.5"/><circle cx="378.5" cy="599.5" r="3.5"/><circle cx="360.4" cy="646.7" r="3.5"/><circle cx="333.1" cy="620.4" r="3.5"/><circle cx="297.5" cy="643.5" r="3.5"/><circle cx="226.7" cy="694.2" r="3.5"/><circle cx="397.4" cy="555.3" r="3.5"/><circle cx="259.9" cy="671.8" r="3.5"/><circle cx="312.1" cy="637.0" r="3.5"/><circle cx="245.7" cy="648.0" r="3.5"/><circle cx="315.9" cy="619.8" r="3.5"/><circle cx="371.4" cy="640.5" r="3.5"/><circle cx="238.6" cy="648.5" r="3.5"/><circle cx="271.9" cy="654.0" r="3.5"/><circle cx="285.6" cy="635.2" r="3.5"/><circle cx="267.7" cy="636.6" r="3.5"/><circle cx="325.4" cy="645.9" r="3.5"/><circle cx="369.7" cy="621.1" r="3.5"/><circle cx="265.1" cy="701.6" r="3.5"/><circle cx="246.3" cy="637.2" r="3.5"/><circle cx="256.0" cy="722.0" r="3.5"/><circle cx="270.9" cy="685.6" r="3.5"/><circle cx="337.4" cy="664.2" r="3.5"/><circle cx="431.6" cy="644.2" r="3.5"/><circle cx="451.5" cy="632.1" r="3.5"/><circle cx="421.8" cy="652.6" r="3.5"/><circle cx="261.7" cy="639.7" r="3.5"/><circle cx="233.3" cy="686.5" r="3.5"/><circle cx="246.4" cy="671.7" r="3.5"/><circle cx="368.7" cy="682.0" r="3.5"/><circle cx="348.8" cy="698.4" r="3.5"/><circle cx="317.6" cy="660.8" r="3.5"/><circle cx="315.3" cy="654.1" r="3.5"/><circle cx="249.0" cy="642.5" r="3.5"/><circle cx="406.3" cy="637.2" r="3.5"/><circle cx="257.6" cy="699.2" r="3.5"/><circle cx="309.2" cy="656.9" r="3.5"/><circle cx="231.7" cy="731.4" r="3.5"/><circle cx="251.4" cy="709.7" r="3.5"/><circle cx="223.9" cy="689.9" r="3.5"/><circle cx="311.1" cy="642.8" r="3.5"/><circle cx="415.9" cy="592.8" r="3.5"/><circle cx="479.2" cy="604.3" r="3.5"/><circle cx="228.6" cy="677.5" r="3.5"/><circle cx="350.0" cy="661.4" r="3.5"/><circle cx="294.9" cy="688.0" r="3.5"/><circle cx="231.3" cy="723.2" r="3.5"/><circle cx="262.7" cy="681.8" r="3.5"/><circle cx="439.1" cy="605.3" r="3.5"/><circle cx="290.1" cy="667.4" r="3.5"/><circle cx="249.3" cy="659.9" r="3.5"/><circle cx="392.7" cy="589.1" r="3.5"/><circle cx="300.2" cy="661.0" r="3.5"/><circle cx="301.9" cy="638.1" r="3.5"/><circle cx="206.4" cy="734.5" r="3.5"/><circle cx="282.1" cy="693.7" r="3.5"/><circle cx="276.2" cy="621.3" r="3.5"/><circle cx="437.9" cy="557.3" r="3.5"/><circle cx="342.9" cy="673.0" r="3.5"/><circle cx="334.4" cy="632.8" r="3.5"/><circle cx="235.3" cy="718.6" r="3.5"/><circle cx="326.6" cy="628.7" r="3.5"/><circle cx="398.4" cy="681.8" r="3.5"/><circle cx="337.2" cy="586.9" r="3.5"/><circle cx="292.1" cy="706.1" r="3.5"/><circle cx="528.8" cy="587.0" r="3.5"/><circle cx="504.6" cy="632.7" r="3.5"/><circle cx="375.2" cy="621.5" r="3.5"/><circle cx="221.9" cy="718.3" r="3.5"/><circle cx="223.1" cy="692.8" r="3.5"/><circle cx="245.1" cy="691.4" r="3.5"/><circle cx="314.3" cy="615.1" r="3.5"/><circle cx="432.8" cy="617.7" r="3.5"/><circle cx="276.4" cy="645.6" r="3.5"/><circle cx="338.4" cy="701.9" r="3.5"/><circle cx="407.5" cy="609.1" r="3.5"/><circle cx="389.6" cy="586.0" r="3.5"/><circle cx="230.0" cy="685.2" r="3.5"/><circle cx="374.8" cy="686.6" r="3.5"/><circle cx="243.1" cy="675.5" r="3.5"/><circle cx="364.2" cy="626.1" r="3.5"/><circle cx="250.6" cy="683.2" r="3.5"/><circle cx="241.9" cy="655.7" r="3.5"/><circle cx="226.2" cy="684.5" r="3.5"/><circle cx="296.9" cy="628.8" r="3.5"/><circle cx="228.9" cy="694.0" r="3.5"/><circle cx="328.9" cy="674.0" r="3.5"/><circle cx="328.5" cy="722.7" r="3.5"/><circle cx="430.2" cy="637.9" r="3.5"/><circle cx="322.6" cy="660.5" r="3.5"/><circle cx="379.1" cy="605.8" r="3.5"/><circle cx="359.1" cy="610.0" r="3.5"/><circle cx="355.1" cy="673.4" r="3.5"/><circle cx="345.9" cy="651.7" r="3.5"/><circle cx="441.4" cy="603.4" r="3.5"/><circle cx="264.5" cy="669.1" r="3.5"/><circle cx="462.1" cy="592.9" r="3.5"/><circle cx="435.7" cy="643.4" r="3.5"/><circle cx="268.8" cy="720.8" r="3.5"/><circle cx="254.8" cy="668.2" r="3.5"/><circle cx="368.3" cy="648.9" r="3.5"/><circle cx="224.3" cy="702.8" r="3.5"/><circle cx="353.6" cy="639.9" r="3.5"/><circle cx="365.2" cy="614.7" r="3.5"/><circle cx="323.7" cy="665.1" r="3.5"/><circle cx="333.2" cy="680.4" r="3.5"/><circle cx="312.0" cy="674.1" r="3.5"/><circle cx="405.3" cy="581.9" r="3.5"/><circle cx="215.5" cy="644.2" r="3.5"/><circle cx="467.1" cy="562.3" r="3.5"/><circle cx="278.1" cy="642.5" r="3.5"/><circle cx="388.7" cy="652.4" r="3.5"/><circle cx="263.5" cy="712.9" r="3.5"/><circle cx="213.6" cy="705.2" r="3.5"/><circle cx="259.5" cy="682.3" r="3.5"/><circle cx="310.1" cy="606.7" r="3.5"/><circle cx="218.3" cy="717.0" r="3.5"/><circle cx="396.9" cy="624.9" r="3.5"/><circle cx="181.1" cy="664.0" r="3.5"/><circle cx="571.5" cy="543.2" r="3.5"/><circle cx="261.4" cy="710.1" r="3.5"/><circle cx="402.4" cy="670.2" r="3.5"/><circle cx="335.7" cy="662.3" r="3.5"/><circle cx="459.7" cy="644.9" r="3.5"/><circle cx="347.9" cy="641.5" r="3.5"/><circle cx="278.3" cy="661.5" r="3.5"/><circle cx="218.9" cy="730.1" r="3.5"/><circle cx="252.1" cy="667.1" r="3.5"/><circle cx="209.7" cy="706.1" r="3.5"/><circle cx="383.3" cy="635.6" r="3.5"/><circle cx="479.8" cy="614.5" r="3.5"/><circle cx="236.5" cy="728.1" r="3.5"/><circle cx="322.5" cy="654.1" r="3.5"/><circle cx="305.1" cy="668.9" r="3.5"/><circle cx="302.8" cy="653.0" r="3.5"/><circle cx="274.4" cy="620.7" r="3.5"/><circle cx="553.6" cy="544.3" r="3.5"/><circle cx="260.3" cy="684.6" r="3.5"/><circle cx="303.1" cy="679.2" r="3.5"/><circle cx="347.1" cy="650.1" r="3.5"/><circle cx="303.6" cy="638.9" r="3.5"/><circle cx="279.6" cy="688.5" r="3.5"/><circle cx="392.2" cy="635.3" r="3.5"/><circle cx="282.4" cy="688.6" r="3.5"/><circle cx="398.8" cy="549.2" r="3.5"/><circle cx="223.4" cy="690.4" r="3.5"/><circle cx="350.7" cy="694.8" r="3.5"/><circle cx="288.2" cy="661.1" r="3.5"/><circle cx="320.5" cy="687.8" r="3.5"/><circle cx="369.7" cy="624.0" r="3.5"/><circle cx="234.0" cy="723.5" r="3.5"/><circle cx="237.3" cy="690.9" r="3.5"/><circle cx="237.6" cy="642.3" r="3.5"/><circle cx="324.7" cy="682.5" r="3.5"/><circle cx="381.8" cy="630.2" r="3.5"/><circle cx="376.8" cy="636.4" r="3.5"/><circle cx="276.2" cy="668.6" r="3.5"/><circle cx="347.5" cy="632.7" r="3.5"/><circle cx="229.1" cy="736.2" r="3.5"/><circle cx="418.3" cy="581.2" r="3.5"/><circle cx="258.5" cy="678.1" r="3.5"/><circle cx="236.8" cy="717.9" r="3.5"/><circle cx="175.6" cy="727.6" r="3.5"/><circle cx="546.7" cy="578.7" r="3.5"/><circle cx="295.2" cy="727.9" r="3.5"/><circle cx="349.5" cy="570.0" r="3.5"/><circle cx="403.5" cy="574.9" r="3.5"/><circle cx="352.0" cy="630.6" r="3.5"/><circle cx="277.4" cy="713.2" r="3.5"/><circle cx="423.7" cy="595.8" r="3.5"/><circle cx="226.6" cy="725.2" r="3.5"/><circle cx="317.2" cy="647.8" r="3.5"/><circle cx="222.7" cy="720.1" r="3.5"/><circle cx="475.1" cy="605.7" r="3.5"/><circle cx="294.0" cy="669.5" r="3.5"/><circle cx="287.3" cy="665.6" r="3.5"/><circle cx="221.2" cy="683.1" r="3.5"/><circle cx="280.6" cy="651.0" r="3.5"/><circle cx="290.7" cy="617.6" r="3.5"/><circle cx="407.8" cy="608.8" r="3.5"/><circle cx="316.6" cy="711.1" r="3.5"/><circle cx="429.9" cy="648.1" r="3.5"/><circle cx="233.0" cy="673.9" r="3.5"/><circle cx="315.6" cy="673.9" r="3.5"/><circle cx="274.5" cy="730.9" r="3.5"/><circle cx="424.1" cy="601.0" r="3.5"/><circle cx="384.7" cy="557.6" r="3.5"/><circle cx="261.0" cy="702.2" r="3.5"/><circle cx="400.2" cy="640.7" r="3.5"/><circle cx="272.0" cy="695.7" r="3.5"/><circle cx="399.0" cy="578.0" r="3.5"/><circle cx="269.5" cy="652.9" r="3.5"/><circle cx="355.3" cy="620.5" r="3.5"/><circle cx="381.3" cy="675.2" r="3.5"/><circle cx="263.3" cy="671.9" r="3.5"/><circle cx="327.4" cy="518.1" r="3.5"/><circle cx="215.2" cy="693.3" r="3.5"/><circle cx="213.3" cy="659.1" r="3.5"/><circle cx="437.3" cy="662.5" r="3.5"/><circle cx="293.6" cy="678.2" r="3.5"/><circle cx="457.8" cy="584.5" r="3.5"/><circle cx="348.6" cy="604.4" r="3.5"/><circle cx="347.6" cy="627.3" r="3.5"/><circle cx="378.7" cy="596.8" r="3.5"/><circle cx="443.0" cy="597.0" r="3.5"/><circle cx="330.0" cy="595.6" r="3.5"/><circle cx="245.0" cy="695.2" r="3.5"/><circle cx="394.4" cy="619.2" r="3.5"/><circle cx="254.6" cy="676.7" r="3.5"/><circle cx="256.4" cy="701.6" r="3.5"/><circle cx="358.4" cy="628.1" r="3.5"/><circle cx="357.5" cy="578.3" r="3.5"/><circle cx="366.9" cy="619.6" r="3.5"/><circle cx="259.2" cy="652.6" r="3.5"/><circle cx="148.3" cy="639.7" r="3.5"/><circle cx="324.2" cy="656.6" r="3.5"/><circle cx="312.9" cy="601.6" r="3.5"/><circle cx="464.9" cy="590.4" r="3.5"/><circle cx="389.4" cy="622.4" r="3.5"/><circle cx="326.4" cy="660.5" r="3.5"/><circle cx="465.9" cy="590.5" r="3.5"/><circle cx="425.8" cy="599.4" r="3.5"/><circle cx="324.5" cy="679.8" r="3.5"/><circle cx="447.2" cy="630.2" r="3.5"/><circle cx="393.4" cy="613.4" r="3.5"/><circle cx="420.8" cy="617.5" r="3.5"/><circle cx="222.8" cy="728.5" r="3.5"/><circle cx="227.8" cy="691.2" r="3.5"/><circle cx="294.3" cy="688.9" r="3.5"/><circle cx="293.1" cy="661.9" r="3.5"/><circle cx="320.9" cy="647.3" r="3.5"/><circle cx="270.8" cy="684.0" r="3.5"/><circle cx="271.2" cy="682.2" r="3.5"/><circle cx="223.7" cy="701.0" r="3.5"/><circle cx="346.2" cy="645.4" r="3.5"/><circle cx="363.2" cy="611.5" r="3.5"/><circle cx="278.0" cy="660.1" r="3.5"/><circle cx="295.7" cy="649.5" r="3.5"/><circle cx="354.1" cy="692.6" r="3.5"/><circle cx="292.0" cy="667.0" r="3.5"/><circle cx="333.4" cy="665.5" r="3.5"/><circle cx="420.1" cy="617.8" r="3.5"/><circle cx="327.6" cy="648.1" r="3.5"/><circle cx="405.6" cy="633.2" r="3.5"/><circle cx="352.7" cy="669.0" r="3.5"/><circle cx="416.5" cy="635.1" r="3.5"/><circle cx="237.5" cy="699.7" r="3.5"/><circle cx="484.7" cy="590.6" r="3.5"/><circle cx="277.7" cy="666.5" r="3.5"/><circle cx="256.9" cy="680.7" r="3.5"/><circle cx="304.8" cy="672.2" r="3.5"/><circle cx="430.7" cy="580.1" r="3.5"/><circle cx="283.2" cy="651.0" r="3.5"/><circle cx="460.9" cy="591.0" r="3.5"/><circle cx="296.1" cy="632.7" r="3.5"/><circle cx="183.0" cy="693.5" r="3.5"/><circle cx="266.3" cy="720.7" r="3.5"/><circle cx="315.0" cy="679.7" r="3.5"/><circle cx="252.7" cy="723.0" r="3.5"/><circle cx="281.7" cy="657.3" r="3.5"/><circle cx="428.7" cy="622.1" r="3.5"/><circle cx="262.5" cy="679.6" r="3.5"/><circle cx="415.5" cy="664.8" r="3.5"/><circle cx="275.8" cy="722.1" r="3.5"/><circle cx="235.1" cy="700.0" r="3.5"/><circle cx="424.0" cy="558.7" r="3.5"/><circle cx="328.1" cy="670.4" r="3.5"/><circle cx="220.3" cy="683.2" r="3.5"/><circle cx="349.1" cy="700.4" r="3.5"/><circle cx="250.4" cy="703.4" r="3.5"/><circle cx="458.7" cy="619.4" r="3.5"/><circle cx="253.2" cy="679.4" r="3.5"/><circle cx="283.7" cy="664.3" r="3.5"/><circle cx="327.9" cy="676.7" r="3.5"/><circle cx="252.6" cy="668.1" r="3.5"/><circle cx="291.3" cy="674.5" r="3.5"/><circle cx="282.8" cy="697.3" r="3.5"/><circle cx="382.9" cy="659.3" r="3.5"/><circle cx="245.5" cy="658.9" r="3.5"/><circle cx="307.0" cy="657.6" r="3.5"/><circle cx="263.0" cy="666.3" r="3.5"/><circle cx="270.2" cy="702.0" r="3.5"/><circle cx="260.6" cy="658.0" r="3.5"/><circle cx="412.6" cy="628.4" r="3.5"/><circle cx="273.1" cy="701.4" r="3.5"/><circle cx="313.4" cy="627.5" r="3.5"/><circle cx="257.3" cy="698.4" r="3.5"/><circle cx="303.7" cy="689.1" r="3.5"/><circle cx="409.3" cy="619.3" r="3.5"/><circle cx="411.5" cy="660.8" r="3.5"/><circle cx="287.3" cy="659.6" r="3.5"/><circle cx="326.0" cy="657.3" r="3.5"/><circle cx="268.4" cy="688.1" r="3.5"/><circle cx="316.4" cy="665.9" r="3.5"/><circle cx="196.2" cy="710.0" r="3.5"/><circle cx="300.9" cy="696.7" r="3.5"/><circle cx="265.4" cy="639.6" r="3.5"/><circle cx="228.7" cy="669.5" r="3.5"/><circle cx="242.2" cy="709.3" r="3.5"/><circle cx="363.4" cy="573.1" r="3.5"/><circle cx="265.2" cy="628.1" r="3.5"/><circle cx="284.8" cy="637.9" r="3.5"/><circle cx="289.5" cy="668.2" r="3.5"/><circle cx="249.1" cy="708.3" r="3.5"/><circle cx="264.3" cy="684.3" r="3.5"/><circle cx="394.0" cy="614.4" r="3.5"/><circle cx="344.5" cy="627.1" r="3.5"/><circle cx="413.4" cy="591.1" r="3.5"/><circle cx="419.7" cy="615.9" r="3.5"/><circle cx="286.7" cy="641.4" r="3.5"/><circle cx="251.6" cy="717.9" r="3.5"/><circle cx="366.2" cy="595.7" r="3.5"/><circle cx="281.2" cy="681.2" r="3.5"/><circle cx="279.5" cy="675.0" r="3.5"/><circle cx="536.5" cy="551.4" r="3.5"/><circle cx="236.3" cy="710.7" r="3.5"/><circle cx="232.6" cy="675.4" r="3.5"/><circle cx="449.9" cy="576.0" r="3.5"/><circle cx="331.3" cy="682.6" r="3.5"/><circle cx="414.3" cy="654.2" r="3.5"/><circle cx="318.2" cy="624.9" r="3.5"/><circle cx="282.3" cy="665.0" r="3.5"/><circle cx="372.4" cy="623.0" r="3.5"/><circle cx="356.6" cy="633.2" r="3.5"/><circle cx="408.2" cy="581.7" r="3.5"/><circle cx="449.1" cy="612.5" r="3.5"/><circle cx="296.4" cy="614.7" r="3.5"/><circle cx="318.8" cy="636.6" r="3.5"/><circle cx="316.9" cy="630.0" r="3.5"/><circle cx="387.9" cy="637.1" r="3.5"/><circle cx="251.0" cy="679.2" r="3.5"/><circle cx="316.0" cy="703.5" r="3.5"/><circle cx="388.9" cy="630.1" r="3.5"/><circle cx="249.4" cy="663.6" r="3.5"/><circle cx="272.4" cy="712.8" r="3.5"/><circle cx="298.3" cy="674.9" r="3.5"/><circle cx="301.2" cy="592.9" r="3.5"/><circle cx="310.9" cy="628.7" r="3.5"/><circle cx="251.1" cy="689.0" r="3.5"/><circle cx="309.3" cy="663.8" r="3.5"/><circle cx="557.2" cy="603.5" r="3.5"/><circle cx="300.4" cy="683.7" r="3.5"/><circle cx="351.4" cy="727.6" r="3.5"/><circle cx="254.6" cy="650.7" r="3.5"/><circle cx="241.5" cy="717.7" r="3.5"/><circle cx="243.6" cy="672.1" r="3.5"/><circle cx="463.6" cy="600.9" r="3.5"/><circle cx="301.0" cy="619.0" r="3.5"/><circle cx="390.1" cy="610.3" r="3.5"/><circle cx="248.3" cy="699.2" r="3.5"/><circle cx="226.4" cy="710.8" r="3.5"/><circle cx="204.5" cy="725.4" r="3.5"/><circle cx="235.3" cy="717.9" r="3.5"/><circle cx="255.3" cy="677.8" r="3.5"/><circle cx="385.7" cy="653.7" r="3.5"/><circle cx="248.7" cy="682.2" r="3.5"/><circle cx="417.3" cy="631.1" r="3.5"/><circle cx="293.1" cy="683.0" r="3.5"/><circle cx="434.6" cy="692.9" r="3.5"/><circle cx="304.3" cy="630.8" r="3.5"/><circle cx="275.6" cy="724.2" r="3.5"/><circle cx="159.6" cy="681.9" r="3.5"/><circle cx="567.4" cy="585.1" r="3.5"/><circle cx="500.4" cy="594.7" r="3.5"/><circle cx="445.6" cy="549.2" r="3.5"/><circle cx="433.8" cy="631.9" r="3.5"/><circle cx="395.3" cy="634.6" r="3.5"/><circle cx="380.4" cy="665.3" r="3.5"/><circle cx="259.3" cy="675.6" r="3.5"/><circle cx="285.4" cy="615.9" r="3.5"/><circle cx="330.2" cy="634.9" r="3.5"/><circle cx="404.2" cy="617.9" r="3.5"/><circle cx="308.4" cy="653.7" r="3.5"/><circle cx="365.5" cy="692.3" r="3.5"/><circle cx="393.7" cy="641.9" r="3.5"/><circle cx="269.3" cy="671.7" r="3.5"/><circle cx="395.6" cy="624.0" r="3.5"/><circle cx="319.8" cy="612.2" r="3.5"/><circle cx="343.7" cy="694.2" r="3.5"/><circle cx="222.0" cy="690.2" r="3.5"/><circle cx="244.5" cy="697.6" r="3.5"/><circle cx="232.4" cy="726.7" r="3.5"/><circle cx="372.9" cy="585.5" r="3.5"/><circle cx="249.6" cy="698.9" r="3.5"/><circle cx="383.9" cy="677.6" r="3.5"/><circle cx="361.5" cy="599.1" r="3.5"/><circle cx="230.8" cy="632.0" r="3.5"/><circle cx="323.1" cy="679.2" r="3.5"/><circle cx="353.7" cy="617.9" r="3.5"/><circle cx="296.5" cy="688.3" r="3.5"/><circle cx="473.7" cy="659.0" r="3.5"/><circle cx="230.3" cy="680.1" r="3.5"/><circle cx="285.0" cy="694.9" r="3.5"/><circle cx="242.5" cy="685.6" r="3.5"/><circle cx="223.8" cy="727.6" r="3.5"/><circle cx="220.7" cy="684.8" r="3.5"/><circle cx="407.2" cy="563.7" r="3.5"/><circle cx="273.0" cy="678.2" r="3.5"/><circle cx="573.5" cy="480.4" r="3.5"/><circle cx="305.7" cy="656.2" r="3.5"/><circle cx="414.6" cy="621.2" r="3.5"/><circle cx="280.3" cy="629.7" r="3.5"/><circle cx="258.8" cy="704.2" r="3.5"/><circle cx="352.9" cy="622.5" r="3.5"/><circle cx="380.9" cy="620.0" r="3.5"/><circle cx="227.0" cy="698.1" r="3.5"/><circle cx="248.8" cy="680.5" r="3.5"/><circle cx="345.4" cy="621.4" r="3.5"/><circle cx="266.5" cy="675.8" r="3.5"/><circle cx="254.4" cy="708.4" r="3.5"/><circle cx="416.2" cy="617.0" r="3.5"/><circle cx="284.4" cy="620.2" r="3.5"/><circle cx="269.1" cy="695.0" r="3.5"/><circle cx="273.9" cy="652.2" r="3.5"/><circle cx="385.5" cy="634.0" r="3.5"/><circle cx="240.7" cy="670.9" r="3.5"/><circle cx="336.6" cy="625.2" r="3.5"/><circle cx="288.5" cy="623.8" r="3.5"/><circle cx="334.8" cy="628.6" r="3.5"/><circle cx="266.9" cy="690.1" r="3.5"/><circle cx="444.8" cy="627.8" r="3.5"/><circle cx="468.2" cy="632.8" r="3.5"/><circle cx="297.9" cy="689.4" r="3.5"/><circle cx="216.0" cy="706.6" r="3.5"/><circle cx="428.4" cy="606.5" r="3.5"/><circle cx="374.5" cy="646.0" r="3.5"/><circle cx="244.2" cy="708.3" r="3.5"/><circle cx="323.4" cy="660.5" r="3.5"/><circle cx="489.1" cy="522.0" r="3.5"/><circle cx="240.2" cy="667.2" r="3.5"/><circle cx="379.9" cy="603.1" r="3.5"/><circle cx="357.9" cy="609.2" r="3.5"/><circle cx="358.5" cy="651.2" r="3.5"/><circle cx="398.1" cy="659.4" r="3.5"/><circle cx="299.3" cy="690.9" r="3.5"/><circle cx="249.1" cy="734.8" r="3.5"/><circle cx="284.1" cy="700.2" r="3.5"/><circle cx="271.7" cy="700.2" r="3.5"/><circle cx="468.7" cy="547.6" r="3.5"/><circle cx="447.5" cy="612.3" r="3.5"/><circle cx="419.1" cy="595.1" r="3.5"/><circle cx="288.6" cy="663.2" r="3.5"/><circle cx="312.4" cy="654.7" r="3.5"/><circle cx="369.2" cy="613.1" r="3.5"/><circle cx="234.3" cy="684.8" r="3.5"/><circle cx="406.0" cy="561.9" r="3.5"/><circle cx="257.8" cy="664.4" r="3.5"/><circle cx="367.6" cy="611.3" r="3.5"/><circle cx="399.6" cy="657.5" r="3.5"/><circle cx="319.2" cy="670.2" r="3.5"/><circle cx="418.1" cy="574.6" r="3.5"/><circle cx="387.3" cy="645.3" r="3.5"/><circle cx="310.4" cy="608.8" r="3.5"/><circle cx="341.4" cy="675.5" r="3.5"/><circle cx="286.4" cy="646.7" r="3.5"/><circle cx="298.5" cy="656.0" r="3.5"/><circle cx="408.7" cy="653.2" r="3.5"/><circle cx="244.3" cy="700.8" r="3.5"/><circle cx="294.5" cy="693.0" r="3.5"/><circle cx="257.1" cy="659.0" r="3.5"/><circle cx="278.7" cy="679.1" r="3.5"/><circle cx="239.8" cy="713.0" r="3.5"/><circle cx="357.2" cy="633.8" r="3.5"/><circle cx="517.2" cy="578.2" r="3.5"/><circle cx="556.6" cy="623.6" r="3.5"/><circle cx="350.2" cy="656.3" r="3.5"/><circle cx="393.1" cy="619.9" r="3.5"/><circle cx="424.6" cy="605.1" r="3.5"/><circle cx="225.0" cy="663.7" r="3.5"/><circle cx="391.0" cy="628.9" r="3.5"/><circle cx="354.7" cy="644.3" r="3.5"/><circle cx="246.9" cy="713.0" r="3.5"/><circle cx="267.4" cy="665.3" r="3.5"/><circle cx="353.2" cy="662.8" r="3.5"/><circle cx="513.4" cy="563.0" r="3.5"/><circle cx="637.1" cy="541.5" r="3.5"/><circle cx="258.2" cy="680.7" r="3.5"/><circle cx="248.5" cy="699.5" r="3.5"/><circle cx="269.9" cy="702.8" r="3.5"/><circle cx="439.3" cy="642.5" r="3.5"/><circle cx="362.8" cy="658.0" r="3.5"/><circle cx="273.7" cy="638.2" r="3.5"/><circle cx="291.6" cy="656.2" r="3.5"/><circle cx="437.9" cy="664.8" r="3.5"/><circle cx="225.7" cy="686.1" r="3.5"/><circle cx="281.5" cy="703.4" r="3.5"/><circle cx="277.3" cy="668.4" r="3.5"/><circle cx="339.4" cy="595.1" r="3.5"/><circle cx="288.9" cy="672.4" r="3.5"/><circle cx="318.3" cy="634.1" r="3.5"/><circle cx="542.0" cy="563.6" r="3.5"/><circle cx="276.9" cy="684.1" r="3.5"/><circle cx="214.4" cy="723.7" r="3.5"/><circle cx="256.7" cy="643.0" r="3.5"/><circle cx="499.1" cy="563.8" r="3.5"/><circle cx="228.0" cy="704.1" r="3.5"/><circle cx="239.4" cy="657.9" r="3.5"/><circle cx="357.2" cy="637.5" r="3.5"/><circle cx="247.2" cy="686.3" r="3.5"/><circle cx="343.2" cy="693.8" r="3.5"/><circle cx="402.9" cy="650.1" r="3.5"/><circle cx="391.7" cy="678.2" r="3.5"/><circle cx="292.7" cy="657.3" r="3.5"/><circle cx="211.8" cy="674.1" r="3.5"/><circle cx="344.9" cy="662.9" r="3.5"/><circle cx="292.5" cy="677.6" r="3.5"/><circle cx="341.1" cy="609.5" r="3.5"/><circle cx="417.6" cy="583.1" r="3.5"/><circle cx="397.5" cy="645.1" r="3.5"/><circle cx="238.8" cy="730.2" r="3.5"/><circle cx="231.1" cy="678.8" r="3.5"/><circle cx="299.1" cy="689.8" r="3.5"/><circle cx="401.2" cy="590.1" r="3.5"/><circle cx="382.8" cy="633.7" r="3.5"/><circle cx="375.7" cy="616.7" r="3.5"/><circle cx="286.0" cy="690.1" r="3.5"/><circle cx="277.6" cy="693.0" r="3.5"/><circle cx="227.6" cy="672.7" r="3.5"/><circle cx="278.5" cy="680.3" r="3.5"/><circle cx="476.5" cy="588.6" r="3.5"/><circle cx="308.1" cy="653.2" r="3.5"/><circle cx="286.3" cy="626.8" r="3.5"/><circle cx="262.1" cy="657.6" r="3.5"/><circle cx="442.3" cy="574.6" r="3.5"/><circle cx="268.9" cy="656.8" r="3.5"/><circle cx="231.2" cy="721.8" r="3.5"/><circle cx="345.7" cy="664.2" r="3.5"/><circle cx="274.1" cy="655.0" r="3.5"/><circle cx="402.0" cy="596.0" r="3.5"/><circle cx="486.1" cy="598.8" r="3.5"/><circle cx="218.7" cy="709.5" r="3.5"/><circle cx="336.8" cy="659.8" r="3.5"/><circle cx="399.3" cy="543.2" r="3.5"/><circle cx="263.1" cy="676.7" r="3.5"/><circle cx="216.8" cy="687.7" r="3.5"/><circle cx="261.0" cy="698.1" r="3.5"/><circle cx="266.0" cy="681.7" r="3.5"/><circle cx="239.9" cy="699.7" r="3.5"/><circle cx="413.2" cy="660.5" r="3.5"/><circle cx="242.9" cy="697.5" r="3.5"/><circle cx="238.0" cy="671.9" r="3.5"/><circle cx="241.3" cy="705.9" r="3.5"/><circle cx="267.6" cy="661.6" r="3.5"/><circle cx="404.5" cy="558.6" r="3.5"/><circle cx="233.8" cy="653.2" r="3.5"/><circle cx="211.4" cy="689.6" r="3.5"/><circle cx="233.2" cy="676.5" r="3.5"/><circle cx="395.0" cy="609.4" r="3.5"/><circle cx="273.3" cy="671.0" r="3.5"/><circle cx="268.7" cy="680.6" r="3.5"/><circle cx="471.3" cy="555.7" r="3.5"/><circle cx="298.7" cy="694.6" r="3.5"/><circle cx="359.6" cy="658.1" r="3.5"/><circle cx="312.0" cy="720.5" r="3.5"/><circle cx="292.5" cy="683.1" r="3.5"/><circle cx="491.6" cy="651.2" r="3.5"/><circle cx="495.7" cy="663.1" r="3.5"/><circle cx="242.4" cy="712.7" r="3.5"/><circle cx="227.4" cy="701.7" r="3.5"/><circle cx="387.6" cy="633.3" r="3.5"/><circle cx="452.9" cy="563.1" r="3.5"/><circle cx="429.2" cy="596.4" r="3.5"/><circle cx="342.1" cy="574.2" r="3.5"/><circle cx="255.6" cy="667.9" r="3.5"/><circle cx="210.6" cy="737.3" r="3.5"/><circle cx="279.9" cy="631.6" r="3.5"/><circle cx="566.0" cy="561.1" r="3.5"/><circle cx="294.7" cy="681.2" r="3.5"/><circle cx="249.8" cy="722.4" r="3.5"/><circle cx="290.5" cy="727.9" r="3.5"/><circle cx="360.1" cy="599.4" r="3.5"/><circle cx="381.4" cy="532.7" r="3.5"/><circle cx="228.3" cy="688.8" r="3.5"/><circle cx="434.9" cy="637.7" r="3.5"/><circle cx="243.4" cy="655.2" r="3.5"/><circle cx="330.4" cy="668.0" r="3.5"/><circle cx="367.6" cy="716.3" r="3.5"/><circle cx="318.5" cy="658.1" r="3.5"/><circle cx="266.1" cy="679.2" r="3.5"/><circle cx="282.9" cy="624.1" r="3.5"/><circle cx="268.1" cy="686.3" r="3.5"/><circle cx="259.0" cy="706.8" r="3.5"/><circle cx="135.6" cy="690.1" r="3.5"/><circle cx="304.7" cy="673.4" r="3.5"/><circle cx="345.0" cy="653.8" r="3.5"/><circle cx="280.1" cy="694.0" r="3.5"/><circle cx="472.5" cy="590.0" r="3.5"/><circle cx="395.7" cy="611.2" r="3.5"/><circle cx="396.2" cy="628.4" r="3.5"/><circle cx="264.7" cy="626.1" r="3.5"/><circle cx="313.6" cy="638.5" r="3.5"/><circle cx="271.1" cy="686.6" r="3.5"/><circle cx="359.4" cy="677.9" r="3.5"/><circle cx="246.5" cy="674.0" r="3.5"/><circle cx="213.1" cy="679.7" r="3.5"/><circle cx="327.4" cy="616.3" r="3.5"/><circle cx="406.9" cy="615.3" r="3.5"/><circle cx="278.8" cy="664.2" r="3.5"/><circle cx="217.0" cy="724.7" r="3.5"/><circle cx="302.1" cy="657.3" r="3.5"/><circle cx="425.4" cy="583.8" r="3.5"/><circle cx="311.8" cy="618.2" r="3.5"/><circle cx="308.7" cy="656.1" r="3.5"/><circle cx="264.2" cy="695.6" r="3.5"/><circle cx="553.1" cy="541.8" r="3.5"/><circle cx="272.8" cy="628.1" r="3.5"/><circle cx="263.6" cy="672.2" r="3.5"/><circle cx="361.3" cy="618.4" r="3.5"/><circle cx="267.1" cy="637.7" r="3.5"/><circle cx="331.0" cy="671.9" r="3.5"/><circle cx="267.9" cy="693.9" r="3.5"/><circle cx="285.7" cy="658.6" r="3.5"/><circle cx="295.9" cy="636.2" r="3.5"/><circle cx="287.9" cy="678.6" r="3.5"/><circle cx="344.1" cy="647.0" r="3.5"/><circle cx="254.9" cy="652.3" r="3.5"/><circle cx="216.3" cy="706.6" r="3.5"/><circle cx="378.1" cy="645.3" r="3.5"/><circle cx="243.3" cy="700.9" r="3.5"/><circle cx="237.9" cy="676.8" r="3.5"/><circle cx="247.1" cy="686.4" r="3.5"/><circle cx="305.1" cy="541.0" r="3.5"/><circle cx="279.2" cy="652.1" r="3.5"/><circle cx="226.8" cy="564.9" r="3.5"/><circle cx="467.1" cy="547.3" r="3.5"/><circle cx="433.1" cy="625.2" r="3.5"/><circle cx="252.5" cy="665.6" r="3.5"/><circle cx="312.7" cy="652.3" r="3.5"/><circle cx="322.1" cy="648.3" r="3.5"/><circle cx="372.1" cy="656.7" r="3.5"/><circle cx="360.6" cy="638.0" r="3.5"/><circle cx="403.9" cy="658.9" r="3.5"/><circle cx="245.9" cy="656.6" r="3.5"/><circle cx="289.8" cy="705.4" r="3.5"/><circle cx="329.3" cy="665.1" r="3.5"/><circle cx="413.9" cy="545.7" r="3.5"/><circle cx="199.8" cy="737.3" r="3.5"/><circle cx="224.8" cy="698.2" r="3.5"/><circle cx="298.2" cy="689.8" r="3.5"/><circle cx="247.8" cy="666.4" r="3.5"/><circle cx="255.5" cy="698.6" r="3.5"/><circle cx="284.6" cy="679.7" r="3.5"/><circle cx="384.2" cy="639.7" r="3.5"/><circle cx="283.5" cy="688.6" r="3.5"/><circle cx="200.1" cy="722.7" r="3.5"/><circle cx="253.9" cy="698.1" r="3.5"/><circle cx="391.4" cy="672.8" r="3.5"/><circle cx="323.0" cy="640.1" r="3.5"/><circle cx="284.1" cy="650.4" r="3.5"/><circle cx="231.5" cy="721.0" r="3.5"/><circle cx="374.3" cy="641.5" r="3.5"/><circle cx="362.4" cy="676.0" r="3.5"/><circle cx="313.1" cy="662.9" r="3.5"/><circle cx="212.3" cy="703.7" r="3.5"/><circle cx="257.4" cy="653.9" r="3.5"/><circle cx="221.4" cy="680.4" r="3.5"/><circle cx="386.8" cy="620.0" r="3.5"/><circle cx="306.9" cy="651.2" r="3.5"/><circle cx="170.1" cy="715.5" r="3.5"/><circle cx="440.2" cy="590.5" r="3.5"/><circle cx="297.7" cy="662.7" r="3.5"/><circle cx="260.1" cy="678.4" r="3.5"/><circle cx="214.7" cy="687.0" r="3.5"/><circle cx="263.9" cy="696.6" r="3.5"/><circle cx="370.8" cy="617.3" r="3.5"/><circle cx="390.4" cy="592.4" r="3.5"/><circle cx="319.2" cy="588.6" r="3.5"/><circle cx="370.5" cy="636.8" r="3.5"/><circle cx="454.4" cy="646.6" r="3.5"/><circle cx="222.5" cy="681.8" r="3.5"/><circle cx="262.8" cy="620.0" r="3.5"/><circle cx="348.2" cy="648.5" r="3.5"/><circle cx="290.5" cy="606.8" r="3.5"/><circle cx="380.7" cy="693.9" r="3.5"/><circle cx="480.6" cy="593.3" r="3.5"/><circle cx="229.8" cy="700.2" r="3.5"/><circle cx="270.3" cy="672.7" r="3.5"/><circle cx="390.8" cy="654.6" r="3.5"/><circle cx="248.0" cy="701.1" r="3.5"/><circle cx="373.9" cy="682.6" r="3.5"/><circle cx="240.0" cy="671.1" r="3.5"/><circle cx="331.9" cy="689.1" r="3.5"/><circle cx="356.0" cy="673.4" r="3.5"/><circle cx="309.6" cy="683.9" r="3.5"/><circle cx="239.0" cy="694.6" r="3.5"/><circle cx="299.5" cy="688.3" r="3.5"/><circle cx="383.7" cy="623.5" r="3.5"/><circle cx="321.2" cy="646.8" r="3.5"/><circle cx="341.7" cy="621.5" r="3.5"/><circle cx="375.5" cy="606.8" r="3.5"/><circle cx="260.3" cy="698.2" r="3.5"/><circle cx="274.7" cy="699.2" r="3.5"/><circle cx="262.3" cy="691.9" r="3.5"/><circle cx="340.3" cy="722.7" r="3.5"/><circle cx="252.3" cy="670.3" r="3.5"/><circle cx="370.0" cy="662.9" r="3.5"/><circle cx="382.2" cy="626.0" r="3.5"/><circle cx="246.7" cy="704.5" r="3.5"/><circle cx="329.6" cy="630.4" r="3.5"/><circle cx="355.9" cy="628.5" r="3.5"/><circle cx="301.6" cy="673.8" r="3.5"/><circle cx="382.2" cy="693.5" r="3.5"/><circle cx="455.0" cy="610.7" r="3.5"/><circle cx="265.6" cy="704.1" r="3.5"/><circle cx="307.5" cy="657.1" r="3.5"/><circle cx="248.0" cy="677.3" r="3.5"/><circle cx="362.0" cy="660.2" r="3.5"/><circle cx="363.9" cy="626.9" r="3.5"/><circle cx="234.1" cy="668.1" r="3.5"/><circle cx="304.5" cy="676.0" r="3.5"/><circle cx="293.8" cy="646.0" r="3.5"/><circle cx="282.6" cy="694.9" r="3.5"/><circle cx="270.5" cy="660.6" r="3.5"/><circle cx="315.0" cy="607.4" r="3.5"/><circle cx="301.6" cy="603.4" r="3.5"/><circle cx="356.9" cy="640.8" r="3.5"/><circle cx="251.9" cy="671.0" r="3.5"/><circle cx="410.7" cy="557.6" r="3.5"/><circle cx="321.9" cy="645.5" r="3.5"/><circle cx="256.6" cy="650.8" r="3.5"/><circle cx="432.3" cy="632.8" r="3.5"/><circle cx="234.8" cy="710.3" r="3.5"/><circle cx="229.3" cy="644.2" r="3.5"/><circle cx="236.0" cy="698.6" r="3.5"/><circle cx="219.7" cy="712.6" r="3.5"/><circle cx="401.2" cy="515.3" r="3.5"/><circle cx="339.9" cy="635.4" r="3.5"/><circle cx="385.1" cy="635.6" r="3.5"/><circle cx="542.6" cy="553.9" r="3.5"/><circle cx="217.6" cy="699.3" r="3.5"/><circle cx="329.5" cy="684.8" r="3.5"/><circle cx="286.5" cy="662.3" r="3.5"/><circle cx="366.6" cy="628.2" r="3.5"/><circle cx="371.1" cy="685.1" r="3.5"/><circle cx="435.2" cy="556.3" r="3.5"/><circle cx="422.6" cy="596.1" r="3.5"/><circle cx="375.9" cy="548.4" r="3.5"/><circle cx="232.0" cy="677.7" r="3.5"/><circle cx="413.7" cy="582.5" r="3.5"/><circle cx="325.7" cy="664.9" r="3.5"/><circle cx="279.4" cy="648.9" r="3.5"/><circle cx="323.9" cy="611.8" r="3.5"/><circle cx="242.0" cy="731.5" r="3.5"/><circle cx="236.5" cy="737.3" r="3.5"/><circle cx="291.5" cy="678.2" r="3.5"/><circle cx="392.7" cy="552.8" r="3.5"/><circle cx="243.9" cy="668.3" r="3.5"/><circle cx="253.7" cy="678.9" r="3.5"/><circle cx="339.6" cy="648.0" r="3.5"/><circle cx="305.6" cy="598.6" r="3.5"/><circle cx="291.0" cy="682.1" r="3.5"/><circle cx="269.9" cy="661.2" r="3.5"/><circle cx="225.3" cy="697.1" r="3.5"/><circle cx="411.1" cy="629.8" r="3.5"/><circle cx="268.2" cy="665.2" r="3.5"/><circle cx="418.8" cy="665.3" r="3.5"/><circle cx="441.2" cy="580.4" r="3.5"/><circle cx="317.5" cy="674.8" r="3.5"/><circle cx="236.3" cy="665.0" r="3.5"/><circle cx="422.1" cy="612.4" r="3.5"/><circle cx="272.2" cy="679.5" r="3.5"/><circle cx="528.0" cy="578.7" r="3.5"/><circle cx="445.4" cy="585.2" r="3.5"/><circle cx="368.9" cy="650.1" r="3.5"/><circle cx="409.8" cy="641.7" r="3.5"/><circle cx="306.0" cy="663.6" r="3.5"/><circle cx="272.6" cy="661.4" r="3.5"/><circle cx="269.7" cy="664.4" r="3.5"/><circle cx="247.6" cy="676.8" r="3.5"/><circle cx="456.6" cy="543.2" r="3.5"/><circle cx="328.5" cy="663.0" r="3.5"/><circle cx="243.8" cy="674.3" r="3.5"/><circle cx="332.1" cy="616.8" r="3.5"/><circle cx="438.3" cy="611.4" r="3.5"/><circle cx="396.7" cy="600.8" r="3.5"/><circle cx="380.1" cy="680.0" r="3.5"/><circle cx="340.7" cy="675.4" r="3.5"/><circle cx="314.1" cy="637.3" r="3.5"/><circle cx="366.5" cy="640.6" r="3.5"/><circle cx="253.9" cy="642.8" r="3.5"/><circle cx="307.2" cy="672.4" r="3.5"/><circle cx="237.0" cy="671.8" r="3.5"/><circle cx="371.7" cy="655.0" r="3.5"/><circle cx="261.9" cy="672.6" r="3.5"/><circle cx="264.9" cy="555.6" r="3.5"/><circle cx="350.5" cy="637.3" r="3.5"/><circle cx="427.0" cy="576.9" r="3.5"/><circle cx="340.9" cy="645.6" r="3.5"/><circle cx="258.7" cy="666.4" r="3.5"/><circle cx="244.9" cy="645.5" r="3.5"/><circle cx="351.2" cy="574.5" r="3.5"/><circle cx="321.3" cy="658.8" r="3.5"/><circle cx="232.7" cy="699.1" r="3.5"/><circle cx="469.8" cy="609.8" r="3.5"/><circle cx="346.6" cy="673.7" r="3.5"/><circle cx="330.7" cy="640.5" r="3.5"/><circle cx="365.8" cy="655.2" r="3.5"/><circle cx="454.3" cy="610.2" r="3.5"/><circle cx="286.3" cy="723.2" r="3.5"/><circle cx="436.2" cy="550.6" r="3.5"/><circle cx="346.9" cy="616.6" r="3.5"/><circle cx="297.1" cy="671.4" r="3.5"/><circle cx="241.0" cy="700.0" r="3.5"/><circle cx="235.7" cy="712.4" r="3.5"/><circle cx="308.0" cy="686.4" r="3.5"/><circle cx="260.5" cy="659.7" r="3.5"/><circle cx="232.2" cy="675.8" r="3.5"/><circle cx="310.3" cy="687.4" r="3.5"/><circle cx="334.0" cy="661.3" r="3.5"/><circle cx="304.1" cy="652.2" r="3.5"/><circle cx="431.1" cy="566.1" r="3.5"/><circle cx="327.2" cy="666.9" r="3.5"/><circle cx="277.0" cy="663.6" r="3.5"/><circle cx="409.2" cy="650.9" r="3.5"/><circle cx="276.7" cy="662.2" r="3.5"/><circle cx="245.3" cy="669.0" r="3.5"/><circle cx="261.3" cy="707.4" r="3.5"/><circle cx="338.0" cy="676.9" r="3.5"/><circle cx="423.0" cy="650.1" r="3.5"/><circle cx="263.9" cy="625.9" r="3.5"/><circle cx="217.9" cy="681.4" r="3.5"/><circle cx="225.9" cy="670.9" r="3.5"/><circle cx="339.1" cy="629.5" r="3.5"/><circle cx="373.7" cy="581.2" r="3.5"/><circle cx="338.6" cy="633.0" r="3.5"/><circle cx="326.9" cy="615.3" r="3.5"/><circle cx="193.5" cy="733.4" r="3.5"/><circle cx="302.4" cy="612.7" r="3.5"/><circle cx="274.8" cy="711.1" r="3.5"/><circle cx="255.4" cy="685.9" r="3.5"/><circle cx="373.4" cy="601.5" r="3.5"/><circle cx="274.3" cy="672.8" r="3.5"/><circle cx="280.8" cy="684.2" r="3.5"/><circle cx="300.5" cy="722.6" r="3.5"/><circle cx="255.9" cy="686.5" r="3.5"/><circle cx="314.5" cy="655.7" r="3.5"/><circle cx="335.3" cy="697.4" r="3.5"/><circle cx="244.7" cy="693.1" r="3.5"/><circle cx="361.0" cy="649.0" r="3.5"/><circle cx="230.6" cy="690.7" r="3.5"/><circle cx="219.4" cy="712.6" r="3.5"/><circle cx="256.0" cy="724.6" r="3.5"/><circle cx="452.0" cy="564.8" r="3.5"/><circle cx="295.3" cy="656.8" r="3.5"/><circle cx="242.7" cy="651.4" r="3.5"/><circle cx="313.8" cy="670.5" r="3.5"/><circle cx="233.9" cy="697.7" r="3.5"/><circle cx="276.0" cy="640.7" r="3.5"/><circle cx="352.4" cy="661.1" r="3.5"/><circle cx="238.2" cy="706.9" r="3.5"/><circle cx="306.6" cy="684.7" r="3.5"/><circle cx="354.4" cy="630.5" r="3.5"/><circle cx="440.8" cy="559.6" r="3.5"/><circle cx="361.7" cy="659.8" r="3.5"/><circle cx="281.8" cy="649.3" r="3.5"/><circle cx="250.8" cy="686.8" r="3.5"/><circle cx="364.8" cy="667.3" r="3.5"/><circle cx="303.3" cy="689.2" r="3.5"/><circle cx="308.9" cy="661.9" r="3.5"/><circle cx="328.8" cy="642.4" r="3.5"/><circle cx="235.6" cy="698.2" r="3.5"/><circle cx="261.6" cy="658.9" r="3.5"/><circle cx="281.1" cy="695.7" r="3.5"/><circle cx="275.4" cy="642.8" r="3.5"/><circle cx="274.9" cy="659.6" r="3.5"/><circle cx="414.7" cy="549.2" r="3.5"/><circle cx="332.5" cy="581.9" r="3.5"/><circle cx="251.7" cy="679.0" r="3.5"/><circle cx="233.4" cy="670.7" r="3.5"/><circle cx="398.7" cy="626.7" r="3.5"/><circle cx="376.5" cy="609.1" r="3.5"/><circle cx="377.5" cy="664.6" r="3.5"/><circle cx="253.0" cy="730.8" r="3.5"/><circle cx="234.6" cy="723.0" r="3.5"/><circle cx="307.8" cy="635.0" r="3.5"/><circle cx="399.8" cy="612.7" r="3.5"/><circle cx="253.5" cy="640.1" r="3.5"/><circle cx="306.3" cy="602.1" r="3.5"/><circle cx="340.4" cy="667.9" r="3.5"/><circle cx="234.5" cy="688.6" r="3.5"/><circle cx="237.1" cy="698.9" r="3.5"/><circle cx="287.1" cy="671.6" r="3.5"/><circle cx="239.6" cy="722.3" r="3.5"/><circle cx="250.5" cy="710.3" r="3.5"/><circle cx="295.1" cy="651.5" r="3.5"/><circle cx="288.1" cy="661.4" r="3.5"/><circle cx="368.1" cy="592.3" r="3.5"/><circle cx="351.6" cy="682.9" r="3.5"/><circle cx="342.5" cy="669.6" r="3.5"/><circle cx="224.6" cy="709.6" r="3.5"/><circle cx="229.6" cy="698.6" r="3.5"/><circle cx="302.6" cy="634.7" r="3.5"/><circle cx="238.4" cy="654.0" r="3.5"/><circle cx="385.9" cy="658.4" r="3.5"/><circle cx="443.5" cy="627.3" r="3.5"/><circle cx="220.1" cy="688.7" r="3.5"/><circle cx="386.3" cy="626.3" r="3.5"/><circle cx="271.4" cy="710.2" r="3.5"/><circle cx="444.9" cy="574.1" r="3.5"/><circle cx="392.4" cy="560.4" r="3.5"/><circle cx="285.2" cy="681.9" r="3.5"/><circle cx="367.2" cy="630.8" r="3.5"/><circle cx="372.7" cy="628.2" r="3.5"/><circle cx="436.6" cy="617.9" r="3.5"/><circle cx="377.8" cy="648.1" r="3.5"/><circle cx="333.9" cy="639.7" r="3.5"/><circle cx="331.6" cy="610.2" r="3.5"/><circle cx="317.5" cy="730.1" r="3.5"/><circle cx="332.7" cy="642.2" r="3.5"/><circle cx="404.7" cy="570.3" r="3.5"/><circle cx="343.5" cy="585.7" r="3.5"/><circle cx="462.6" cy="613.4" r="3.5"/><circle cx="401.5" cy="625.4" r="3.5"/><circle cx="290.2" cy="641.3" r="3.5"/><circle cx="434.2" cy="616.4" r="3.5"/><circle cx="266.8" cy="718.1" r="3.5"/><circle cx="363.8" cy="592.9" r="3.5"/><circle cx="300.0" cy="643.4" r="3.5"/><circle cx="239.2" cy="645.9" r="3.5"/>
</g>
<line x1="135.94" y1="722.97" x2="637.38" y2="528.01" stroke="#000" stroke-width="4.8"/>
<defs><radialGradient id="ptE"><stop offset="0.47" stop-color="#cd5c5c" stop-opacity="0.5"/><stop offset="0.58" stop-color="#cd5c5c" stop-opacity="0.75"/></radialGradient></defs>
<g fill="url(#ptE)">
<circle cx="997.1" cy="654.2" r="3.5"/><circle cx="1105.3" cy="574.7" r="3.5"/><circle cx="922.7" cy="677.7" r="3.5"/><circle cx="953.6" cy="712.4" r="3.5"/><circle cx="1146.2" cy="570.0" r="3.5"/><circle cx="1099.0" cy="621.3" r="3.5"/><circle cx="1049.3" cy="667.0" r="3.5"/><circle cx="964.3" cy="727.6" r="3.5"/><circle cx="1023.1" cy="623.8" r="3.5"/><circle cx="1026.3" cy="660.7" r="3.5"/><circle cx="1094.0" cy="663.1" r="3.5"/><circle cx="978.0" cy="687.2" r="3.5"/><circle cx="1063.7" cy="593.1" r="3.5"/><circle cx="1090.8" cy="570.7" r="3.5"/><circle cx="1028.0" cy="624.6" r="3.5"/><circle cx="989.6" cy="687.8" r="3.5"/><circle cx="1081.5" cy="665.3" r="3.5"/><circle cx="977.7" cy="690.7" r="3.5"/><circle cx="1069.6" cy="624.0" r="3.5"/><circle cx="980.1" cy="660.0" r="3.5"/><circle cx="1049.7" cy="642.8" r="3.5"/><circle cx="983.5" cy="667.0" r="3.5"/><circle cx="973.7" cy="693.0" r="3.5"/><circle cx="989.2" cy="691.7" r="3.5"/><circle cx="1051.3" cy="607.8" r="3.5"/><circle cx="1093.1" cy="608.8" r="3.5"/><circle cx="1089.5" cy="656.9" r="3.5"/><circle cx="1080.9" cy="596.9" r="3.5"/><circle cx="1030.4" cy="597.2" r="3.5"/><circle cx="1039.0" cy="622.2" r="3.5"/><circle cx="1026.2" cy="688.3" r="3.5"/><circle cx="951.1" cy="644.6" r="3.5"/><circle cx="1059.6" cy="657.9" r="3.5"/><circle cx="1005.2" cy="665.8" r="3.5"/><circle cx="1170.4" cy="671.4" r="3.5"/><circle cx="1051.4" cy="636.8" r="3.5"/><circle cx="1091.4" cy="627.0" r="3.5"/><circle cx="1025.3" cy="712.7" r="3.5"/><circle cx="1064.2" cy="670.1" r="3.5"/><circle cx="1043.1" cy="647.9" r="3.5"/><circle cx="1115.1" cy="595.4" r="3.5"/><circle cx="1047.6" cy="633.3" r="3.5"/><circle cx="1023.5" cy="649.7" r="3.5"/><circle cx="1214.5" cy="588.9" r="3.5"/><circle cx="1001.9" cy="688.7" r="3.5"/><circle cx="1107.5" cy="642.2" r="3.5"/><circle cx="967.0" cy="667.9" r="3.5"/><circle cx="1037.2" cy="605.1" r="3.5"/><circle cx="1072.3" cy="663.0" r="3.5"/><circle cx="1055.0" cy="648.9" r="3.5"/><circle cx="968.6" cy="660.2" r="3.5"/><circle cx="996.1" cy="725.6" r="3.5"/><circle cx="1087.4" cy="617.3" r="3.5"/><circle cx="874.5" cy="693.2" r="3.5"/><circle cx="1077.5" cy="611.3" r="3.5"/><circle cx="916.9" cy="679.7" r="3.5"/><circle cx="1044.0" cy="690.2" r="3.5"/><circle cx="1007.5" cy="687.7" r="3.5"/><circle cx="935.4" cy="727.6" r="3.5"/><circle cx="991.2" cy="665.6" r="3.5"/><circle cx="1042.8" cy="657.7" r="3.5"/><circle cx="984.1" cy="683.8" r="3.5"/><circle cx="1047.9" cy="610.6" r="3.5"/><circle cx="1062.4" cy="661.5" r="3.5"/><circle cx="990.4" cy="653.1" r="3.5"/><circle cx="998.0" cy="699.7" r="3.5"/><circle cx="969.9" cy="696.0" r="3.5"/><circle cx="954.9" cy="685.8" r="3.5"/><circle cx="1011.1" cy="631.1" r="3.5"/><circle cx="1149.5" cy="532.7" r="3.5"/><circle cx="1147.1" cy="632.0" r="3.5"/><circle cx="1013.7" cy="684.0" r="3.5"/><circle cx="974.7" cy="683.5" r="3.5"/><circle cx="958.0" cy="692.3" r="3.5"/><circle cx="1048.4" cy="636.5" r="3.5"/><circle cx="1077.7" cy="659.3" r="3.5"/><circle cx="1053.3" cy="653.0" r="3.5"/><circle cx="1145.6" cy="627.0" r="3.5"/><circle cx="1002.5" cy="646.1" r="3.5"/><circle cx="999.1" cy="690.8" r="3.5"/><circle cx="1240.1" cy="538.2" r="3.5"/><circle cx="955.4" cy="678.2" r="3.5"/><circle cx="1049.4" cy="664.5" r="3.5"/><circle cx="1016.4" cy="629.4" r="3.5"/><circle cx="980.8" cy="670.6" r="3.5"/><circle cx="898.5" cy="730.1" r="3.5"/><circle cx="1123.6" cy="636.3" r="3.5"/><circle cx="1125.6" cy="623.5" r="3.5"/><circle cx="1112.9" cy="646.4" r="3.5"/><circle cx="1098.3" cy="615.5" r="3.5"/><circle cx="1058.6" cy="603.6" r="3.5"/><circle cx="925.2" cy="706.1" r="3.5"/><circle cx="991.2" cy="686.7" r="3.5"/><circle cx="1101.9" cy="637.5" r="3.5"/><circle cx="954.6" cy="679.3" r="3.5"/><circle cx="982.9" cy="617.1" r="3.5"/><circle cx="1000.0" cy="652.7" r="3.5"/><circle cx="1029.2" cy="641.8" r="3.5"/><circle cx="933.2" cy="699.9" r="3.5"/><circle cx="1225.8" cy="541.8" r="3.5"/><circle cx="928.8" cy="688.8" r="3.5"/><circle cx="1075.6" cy="664.5" r="3.5"/><circle cx="1072.5" cy="620.8" r="3.5"/><circle cx="1068.6" cy="630.1" r="3.5"/><circle cx="854.9" cy="639.7" r="3.5"/><circle cx="999.6" cy="687.3" r="3.5"/><circle cx="1129.4" cy="614.2" r="3.5"/><circle cx="1127.1" cy="565.3" r="3.5"/><circle cx="1009.7" cy="673.8" r="3.5"/><circle cx="941.9" cy="695.7" r="3.5"/><circle cx="1083.6" cy="569.7" r="3.5"/><circle cx="1142.9" cy="585.4" r="3.5"/><circle cx="988.0" cy="666.7" r="3.5"/><circle cx="994.5" cy="654.2" r="3.5"/><circle cx="937.8" cy="683.7" r="3.5"/><circle cx="1061.3" cy="582.7" r="3.5"/><circle cx="985.6" cy="645.7" r="3.5"/><circle cx="1022.0" cy="640.3" r="3.5"/><circle cx="1048.5" cy="641.1" r="3.5"/><circle cx="1044.6" cy="621.6" r="3.5"/><circle cx="1139.6" cy="543.2" r="3.5"/><circle cx="954.0" cy="690.6" r="3.5"/><circle cx="1202.9" cy="569.6" r="3.5"/><circle cx="992.8" cy="654.5" r="3.5"/><circle cx="1119.2" cy="594.3" r="3.5"/><circle cx="1049.8" cy="637.9" r="3.5"/><circle cx="994.0" cy="712.6" r="3.5"/><circle cx="999.8" cy="675.1" r="3.5"/><circle cx="1110.8" cy="623.8" r="3.5"/><circle cx="982.2" cy="694.7" r="3.5"/><circle cx="1004.7" cy="661.2" r="3.5"/><circle cx="974.0" cy="713.1" r="3.5"/><circle cx="1057.6" cy="631.3" r="3.5"/><circle cx="1032.5" cy="642.5" r="3.5"/><circle cx="934.7" cy="687.3" r="3.5"/><circle cx="1052.5" cy="666.6" r="3.5"/><circle cx="1097.6" cy="618.1" r="3.5"/><circle cx="1110.2" cy="592.1" r="3.5"/><circle cx="1107.8" cy="587.0" r="3.5"/><circle cx="1035.7" cy="690.9" r="3.5"/><circle cx="1046.5" cy="607.4" r="3.5"/><circle cx="1144.5" cy="596.7" r="3.5"/><circle cx="1004.6" cy="682.7" r="3.5"/><circle cx="818.0" cy="715.2" r="3.5"/><circle cx="1141.3" cy="570.5" r="3.5"/><circle cx="987.5" cy="664.3" r="3.5"/><circle cx="916.9" cy="694.3" r="3.5"/><circle cx="1160.6" cy="613.5" r="3.5"/><circle cx="1070.7" cy="612.7" r="3.5"/><circle cx="1010.3" cy="727.6" r="3.5"/><circle cx="1101.6" cy="581.5" r="3.5"/><circle cx="914.2" cy="710.0" r="3.5"/><circle cx="902.9" cy="694.3" r="3.5"/><circle cx="1010.1" cy="700.0" r="3.5"/><circle cx="1001.7" cy="698.5" r="3.5"/><circle cx="1046.8" cy="696.8" r="3.5"/><circle cx="1052.3" cy="600.9" r="3.5"/><circle cx="1054.6" cy="662.2" r="3.5"/><circle cx="1013.8" cy="646.6" r="3.5"/><circle cx="1038.0" cy="683.0" r="3.5"/><circle cx="936.3" cy="713.8" r="3.5"/><circle cx="984.3" cy="692.0" r="3.5"/><circle cx="991.6" cy="653.0" r="3.5"/><circle cx="943.6" cy="719.7" r="3.5"/><circle cx="1193.9" cy="692.9" r="3.5"/><circle cx="1026.1" cy="638.2" r="3.5"/><circle cx="959.1" cy="639.9" r="3.5"/><circle cx="1102.3" cy="572.3" r="3.5"/><circle cx="968.4" cy="696.9" r="3.5"/><circle cx="1027.5" cy="629.5" r="3.5"/><circle cx="939.9" cy="636.1" r="3.5"/><circle cx="939.3" cy="681.5" r="3.5"/><circle cx="1126.0" cy="568.8" r="3.5"/><circle cx="1040.1" cy="597.4" r="3.5"/><circle cx="978.7" cy="609.8" r="3.5"/><circle cx="1008.4" cy="687.8" r="3.5"/><circle cx="971.5" cy="707.0" r="3.5"/><circle cx="1011.5" cy="608.9" r="3.5"/><circle cx="1040.5" cy="616.9" r="3.5"/><circle cx="970.9" cy="710.4" r="3.5"/><circle cx="1131.5" cy="667.1" r="3.5"/><circle cx="976.2" cy="691.8" r="3.5"/><circle cx="1019.4" cy="659.7" r="3.5"/><circle cx="1155.6" cy="598.3" r="3.5"/><circle cx="1031.4" cy="628.4" r="3.5"/><circle cx="1032.1" cy="666.2" r="3.5"/><circle cx="1084.2" cy="608.3" r="3.5"/><circle cx="1048.1" cy="654.3" r="3.5"/><circle cx="1045.5" cy="654.9" r="3.5"/><circle cx="1009.5" cy="666.5" r="3.5"/><circle cx="962.1" cy="698.4" r="3.5"/><circle cx="1032.7" cy="651.8" r="3.5"/><circle cx="1116.2" cy="553.9" r="3.5"/><circle cx="1081.2" cy="627.2" r="3.5"/><circle cx="1007.8" cy="684.6" r="3.5"/><circle cx="964.9" cy="679.4" r="3.5"/><circle cx="995.6" cy="679.2" r="3.5"/><circle cx="1062.0" cy="614.3" r="3.5"/><circle cx="968.8" cy="642.9" r="3.5"/><circle cx="1003.5" cy="564.9" r="3.5"/><circle cx="926.9" cy="737.3" r="3.5"/><circle cx="980.0" cy="639.0" r="3.5"/><circle cx="985.9" cy="650.6" r="3.5"/><circle cx="1084.4" cy="612.9" r="3.5"/><circle cx="951.3" cy="711.7" r="3.5"/><circle cx="966.7" cy="655.6" r="3.5"/><circle cx="993.7" cy="675.2" r="3.5"/><circle cx="978.9" cy="689.0" r="3.5"/><circle cx="1031.0" cy="666.1" r="3.5"/><circle cx="986.1" cy="651.0" r="3.5"/><circle cx="1210.4" cy="658.6" r="3.5"/><circle cx="1055.7" cy="667.5" r="3.5"/><circle cx="1024.5" cy="626.8" r="3.5"/><circle cx="1006.4" cy="682.9" r="3.5"/><circle cx="965.4" cy="676.0" r="3.5"/><circle cx="1050.7" cy="670.0" r="3.5"/><circle cx="1020.6" cy="689.7" r="3.5"/><circle cx="1021.4" cy="730.9" r="3.5"/><circle cx="953.1" cy="680.1" r="3.5"/><circle cx="1013.0" cy="690.7" r="3.5"/><circle cx="1063.4" cy="624.3" r="3.5"/><circle cx="1012.3" cy="654.6" r="3.5"/><circle cx="1056.8" cy="601.9" r="3.5"/><circle cx="1092.7" cy="672.5" r="3.5"/><circle cx="1098.0" cy="643.9" r="3.5"/><circle cx="1005.6" cy="693.2" r="3.5"/><circle cx="1029.7" cy="609.7" r="3.5"/><circle cx="1028.6" cy="648.6" r="3.5"/><circle cx="983.7" cy="694.4" r="3.5"/><circle cx="1097.7" cy="644.2" r="3.5"/><circle cx="986.1" cy="662.3" r="3.5"/><circle cx="980.4" cy="677.2" r="3.5"/><circle cx="1108.7" cy="578.6" r="3.5"/><circle cx="972.5" cy="676.1" r="3.5"/><circle cx="1202.4" cy="624.7" r="3.5"/><circle cx="1080.7" cy="609.6" r="3.5"/><circle cx="1089.0" cy="632.5" r="3.5"/><circle cx="1015.6" cy="656.2" r="3.5"/><circle cx="1030.6" cy="710.5" r="3.5"/><circle cx="998.3" cy="680.3" r="3.5"/><circle cx="1130.0" cy="628.5" r="3.5"/><circle cx="1038.2" cy="555.6" r="3.5"/><circle cx="1020.1" cy="672.7" r="3.5"/><circle cx="1041.0" cy="619.5" r="3.5"/><circle cx="1073.9" cy="558.2" r="3.5"/><circle cx="980.9" cy="737.3" r="3.5"/><circle cx="1086.8" cy="621.0" r="3.5"/><circle cx="1103.8" cy="614.5" r="3.5"/><circle cx="1018.3" cy="638.1" r="3.5"/><circle cx="1007.4" cy="668.7" r="3.5"/><circle cx="1047.2" cy="602.1" r="3.5"/><circle cx="1074.2" cy="565.7" r="3.5"/><circle cx="1022.3" cy="674.9" r="3.5"/><circle cx="952.1" cy="657.5" r="3.5"/><circle cx="1005.3" cy="667.4" r="3.5"/><circle cx="1065.8" cy="640.4" r="3.5"/><circle cx="1171.4" cy="593.8" r="3.5"/><circle cx="1017.9" cy="643.1" r="3.5"/><circle cx="997.3" cy="698.4" r="3.5"/><circle cx="1087.8" cy="601.2" r="3.5"/><circle cx="1101.4" cy="624.4" r="3.5"/><circle cx="985.1" cy="658.6" r="3.5"/><circle cx="1072.7" cy="650.0" r="3.5"/><circle cx="971.1" cy="667.3" r="3.5"/><circle cx="1119.9" cy="657.3" r="3.5"/><circle cx="1090.2" cy="560.9" r="3.5"/><circle cx="1155.6" cy="550.6" r="3.5"/><circle cx="1011.7" cy="671.1" r="3.5"/><circle cx="982.3" cy="649.7" r="3.5"/><circle cx="1073.5" cy="683.3" r="3.5"/><circle cx="1038.8" cy="650.8" r="3.5"/><circle cx="1137.8" cy="645.9" r="3.5"/><circle cx="942.5" cy="617.6" r="3.5"/><circle cx="1068.0" cy="652.5" r="3.5"/><circle cx="957.1" cy="705.3" r="3.5"/><circle cx="1047.1" cy="614.9" r="3.5"/><circle cx="993.0" cy="682.1" r="3.5"/><circle cx="1039.9" cy="593.1" r="3.5"/><circle cx="1057.9" cy="690.8" r="3.5"/><circle cx="946.4" cy="735.2" r="3.5"/><circle cx="1001.6" cy="689.0" r="3.5"/><circle cx="952.2" cy="673.0" r="3.5"/><circle cx="1121.9" cy="690.1" r="3.5"/><circle cx="972.0" cy="660.4" r="3.5"/><circle cx="1010.0" cy="678.0" r="3.5"/><circle cx="1058.9" cy="642.3" r="3.5"/><circle cx="1043.3" cy="671.0" r="3.5"/><circle cx="1042.5" cy="642.1" r="3.5"/><circle cx="1086.3" cy="602.0" r="3.5"/><circle cx="1115.3" cy="646.5" r="3.5"/><circle cx="1014.8" cy="630.1" r="3.5"/><circle cx="1030.1" cy="676.7" r="3.5"/><circle cx="1157.5" cy="615.3" r="3.5"/><circle cx="1031.2" cy="631.6" r="3.5"/><circle cx="1020.8" cy="641.1" r="3.5"/><circle cx="1065.4" cy="672.6" r="3.5"/><circle cx="1163.8" cy="552.8" r="3.5"/><circle cx="1076.6" cy="633.0" r="3.5"/><circle cx="1114.7" cy="568.5" r="3.5"/><circle cx="953.0" cy="678.4" r="3.5"/><circle cx="1046.1" cy="658.1" r="3.5"/><circle cx="1034.3" cy="681.1" r="3.5"/><circle cx="986.7" cy="699.0" r="3.5"/><circle cx="1195.2" cy="614.5" r="3.5"/><circle cx="1028.7" cy="630.3" r="3.5"/><circle cx="1071.7" cy="641.5" r="3.5"/><circle cx="1060.0" cy="608.4" r="3.5"/><circle cx="1083.3" cy="655.9" r="3.5"/><circle cx="982.6" cy="659.3" r="3.5"/><circle cx="1050.1" cy="602.2" r="3.5"/><circle cx="1293.6" cy="543.2" r="3.5"/><circle cx="1096.7" cy="620.9" r="3.5"/><circle cx="1074.9" cy="579.4" r="3.5"/><circle cx="1066.6" cy="639.2" r="3.5"/><circle cx="1043.6" cy="636.6" r="3.5"/><circle cx="1183.7" cy="568.5" r="3.5"/><circle cx="997.6" cy="690.2" r="3.5"/><circle cx="948.3" cy="669.8" r="3.5"/><circle cx="1123.4" cy="570.7" r="3.5"/><circle cx="1031.7" cy="673.3" r="3.5"/><circle cx="1093.4" cy="629.5" r="3.5"/><circle cx="1067.7" cy="664.9" r="3.5"/><circle cx="931.6" cy="662.2" r="3.5"/><circle cx="1085.4" cy="631.0" r="3.5"/><circle cx="975.3" cy="677.1" r="3.5"/><circle cx="988.3" cy="661.5" r="3.5"/><circle cx="1090.0" cy="587.8" r="3.5"/><circle cx="1133.0" cy="562.2" r="3.5"/><circle cx="1060.4" cy="627.8" r="3.5"/><circle cx="1085.3" cy="627.8" r="3.5"/><circle cx="1125.1" cy="614.5" r="3.5"/><circle cx="1138.9" cy="578.4" r="3.5"/><circle cx="1082.3" cy="666.4" r="3.5"/><circle cx="1111.3" cy="618.0" r="3.5"/><circle cx="1094.7" cy="671.5" r="3.5"/><circle cx="1044.4" cy="641.6" r="3.5"/><circle cx="1088.8" cy="662.3" r="3.5"/><circle cx="984.8" cy="694.4" r="3.5"/><circle cx="1061.8" cy="628.6" r="3.5"/><circle cx="1071.9" cy="644.5" r="3.5"/><circle cx="1000.4" cy="697.8" r="3.5"/><circle cx="1114.2" cy="620.0" r="3.5"/><circle cx="974.6" cy="670.3" r="3.5"/><circle cx="964.1" cy="670.7" r="3.5"/><circle cx="1052.6" cy="609.0" r="3.5"/><circle cx="995.0" cy="664.2" r="3.5"/><circle cx="1076.7" cy="669.7" r="3.5"/><circle cx="1112.0" cy="573.5" r="3.5"/><circle cx="1048.7" cy="627.5" r="3.5"/><circle cx="1001.2" cy="647.6" r="3.5"/><circle cx="1001.3" cy="659.1" r="3.5"/><circle cx="917.8" cy="725.1" r="3.5"/><circle cx="1104.2" cy="637.1" r="3.5"/><circle cx="1066.0" cy="652.7" r="3.5"/><circle cx="1042.0" cy="634.7" r="3.5"/><circle cx="1124.9" cy="572.6" r="3.5"/><circle cx="1018.8" cy="666.4" r="3.5"/><circle cx="1148.8" cy="566.8" r="3.5"/><circle cx="1222.0" cy="603.5" r="3.5"/><circle cx="963.9" cy="660.8" r="3.5"/><circle cx="1055.2" cy="604.1" r="3.5"/><circle cx="957.9" cy="699.8" r="3.5"/><circle cx="1094.8" cy="597.7" r="3.5"/><circle cx="1061.0" cy="617.0" r="3.5"/><circle cx="968.2" cy="675.4" r="3.5"/><circle cx="1027.1" cy="681.1" r="3.5"/><circle cx="1071.5" cy="633.7" r="3.5"/><circle cx="889.1" cy="628.7" r="3.5"/><circle cx="1112.6" cy="548.4" r="3.5"/><circle cx="1047.7" cy="661.5" r="3.5"/><circle cx="1062.9" cy="659.4" r="3.5"/><circle cx="1022.2" cy="702.0" r="3.5"/><circle cx="1002.3" cy="706.1" r="3.5"/><circle cx="1060.6" cy="608.8" r="3.5"/><circle cx="1078.1" cy="602.4" r="3.5"/><circle cx="1130.4" cy="597.2" r="3.5"/><circle cx="1027.0" cy="598.2" r="3.5"/><circle cx="1003.6" cy="676.1" r="3.5"/><circle cx="1015.2" cy="653.5" r="3.5"/><circle cx="987.2" cy="686.6" r="3.5"/><circle cx="1094.4" cy="611.7" r="3.5"/><circle cx="948.7" cy="677.2" r="3.5"/><circle cx="1069.8" cy="640.1" r="3.5"/><circle cx="1036.3" cy="636.1" r="3.5"/><circle cx="1070.8" cy="639.5" r="3.5"/><circle cx="1035.5" cy="635.7" r="3.5"/><circle cx="916.9" cy="715.5" r="3.5"/><circle cx="990.1" cy="687.0" r="3.5"/><circle cx="1037.8" cy="603.1" r="3.5"/><circle cx="1012.1" cy="632.2" r="3.5"/><circle cx="1118.5" cy="644.5" r="3.5"/><circle cx="979.7" cy="683.3" r="3.5"/><circle cx="959.6" cy="734.8" r="3.5"/><circle cx="1038.4" cy="694.5" r="3.5"/><circle cx="1065.0" cy="669.8" r="3.5"/><circle cx="1179.3" cy="575.0" r="3.5"/><circle cx="1149.9" cy="622.2" r="3.5"/><circle cx="1120.4" cy="666.5" r="3.5"/><circle cx="1068.9" cy="669.0" r="3.5"/><circle cx="972.6" cy="703.8" r="3.5"/><circle cx="1113.8" cy="640.0" r="3.5"/><circle cx="1023.0" cy="701.4" r="3.5"/><circle cx="1162.2" cy="576.8" r="3.5"/><circle cx="1103.2" cy="615.4" r="3.5"/><circle cx="1012.8" cy="591.1" r="3.5"/><circle cx="1073.7" cy="577.0" r="3.5"/><circle cx="1015.7" cy="687.1" r="3.5"/><circle cx="1050.8" cy="668.1" r="3.5"/><circle cx="1137.6" cy="636.9" r="3.5"/><circle cx="1003.3" cy="686.5" r="3.5"/><circle cx="1100.3" cy="599.0" r="3.5"/><circle cx="970.6" cy="672.7" r="3.5"/><circle cx="1132.3" cy="594.6" r="3.5"/><circle cx="1117.0" cy="635.0" r="3.5"/><circle cx="1198.0" cy="607.1" r="3.5"/><circle cx="1044.0" cy="652.8" r="3.5"/><circle cx="987.6" cy="674.6" r="3.5"/><circle cx="1040.3" cy="594.4" r="3.5"/><circle cx="1151.3" cy="595.4" r="3.5"/><circle cx="1105.2" cy="605.0" r="3.5"/><circle cx="1034.1" cy="671.5" r="3.5"/><circle cx="1154.0" cy="563.2" r="3.5"/><circle cx="979.3" cy="655.6" r="3.5"/><circle cx="1017.5" cy="708.6" r="3.5"/><circle cx="993.3" cy="654.1" r="3.5"/><circle cx="989.5" cy="699.5" r="3.5"/><circle cx="1109.7" cy="618.3" r="3.5"/><circle cx="1029.3" cy="641.6" r="3.5"/><circle cx="1090.5" cy="646.5" r="3.5"/><circle cx="1137.1" cy="718.3" r="3.5"/><circle cx="1075.1" cy="633.7" r="3.5"/><circle cx="1021.8" cy="630.4" r="3.5"/><circle cx="976.7" cy="686.8" r="3.5"/><circle cx="1042.6" cy="676.5" r="3.5"/><circle cx="1029.0" cy="633.0" r="3.5"/><circle cx="1135.1" cy="609.2" r="3.5"/><circle cx="964.3" cy="672.4" r="3.5"/><circle cx="1017.1" cy="694.7" r="3.5"/><circle cx="1187.8" cy="547.9" r="3.5"/><circle cx="1091.7" cy="638.0" r="3.5"/><circle cx="1173.4" cy="608.2" r="3.5"/><circle cx="1067.1" cy="664.7" r="3.5"/><circle cx="949.4" cy="700.0" r="3.5"/><circle cx="1103.5" cy="590.1" r="3.5"/><circle cx="951.7" cy="712.0" r="3.5"/><circle cx="1002.1" cy="722.7" r="3.5"/><circle cx="1034.3" cy="653.3" r="3.5"/><circle cx="939.7" cy="705.5" r="3.5"/><circle cx="1091.9" cy="722.7" r="3.5"/><circle cx="966.0" cy="671.5" r="3.5"/><circle cx="1018.5" cy="681.5" r="3.5"/><circle cx="962.3" cy="669.8" r="3.5"/><circle cx="1004.1" cy="692.5" r="3.5"/><circle cx="1027.7" cy="654.8" r="3.5"/><circle cx="996.8" cy="678.5" r="3.5"/><circle cx="1147.6" cy="602.3" r="3.5"/><circle cx="1118.4" cy="645.9" r="3.5"/><circle cx="1192.5" cy="627.8" r="3.5"/><circle cx="977.5" cy="648.5" r="3.5"/><circle cx="1009.4" cy="669.2" r="3.5"/><circle cx="963.1" cy="709.1" r="3.5"/><circle cx="1063.9" cy="655.3" r="3.5"/><circle cx="1015.6" cy="724.6" r="3.5"/><circle cx="1086.9" cy="567.3" r="3.5"/><circle cx="1153.0" cy="580.6" r="3.5"/><circle cx="1045.0" cy="701.3" r="3.5"/><circle cx="942.7" cy="690.1" r="3.5"/><circle cx="964.6" cy="691.4" r="3.5"/><circle cx="1019.1" cy="691.0" r="3.5"/><circle cx="994.4" cy="665.1" r="3.5"/><circle cx="1013.1" cy="714.4" r="3.5"/><circle cx="984.8" cy="708.5" r="3.5"/><circle cx="1098.6" cy="609.6" r="3.5"/><circle cx="1100.1" cy="631.2" r="3.5"/><circle cx="1226.4" cy="587.8" r="3.5"/><circle cx="960.3" cy="704.7" r="3.5"/><circle cx="1225.8" cy="582.9" r="3.5"/><circle cx="973.2" cy="668.7" r="3.5"/><circle cx="1024.1" cy="656.3" r="3.5"/><circle cx="1007.2" cy="699.2" r="3.5"/><circle cx="941.0" cy="705.8" r="3.5"/><circle cx="1139.8" cy="594.0" r="3.5"/><circle cx="1053.6" cy="518.1" r="3.5"/><circle cx="1109.7" cy="614.5" r="3.5"/><circle cx="930.1" cy="648.2" r="3.5"/><circle cx="1033.5" cy="657.3" r="3.5"/><circle cx="993.5" cy="609.2" r="3.5"/><circle cx="1014.1" cy="639.2" r="3.5"/><circle cx="963.6" cy="681.5" r="3.5"/><circle cx="922.2" cy="659.0" r="3.5"/><circle cx="1136.1" cy="555.4" r="3.5"/><circle cx="1159.8" cy="605.6" r="3.5"/><circle cx="1033.7" cy="630.5" r="3.5"/><circle cx="1079.7" cy="652.6" r="3.5"/><circle cx="1012.6" cy="666.7" r="3.5"/><circle cx="1002.2" cy="641.5" r="3.5"/><circle cx="987.4" cy="681.4" r="3.5"/><circle cx="1193.3" cy="618.7" r="3.5"/><circle cx="1119.4" cy="620.3" r="3.5"/><circle cx="924.1" cy="668.1" r="3.5"/><circle cx="1026.0" cy="705.8" r="3.5"/><circle cx="943.4" cy="692.4" r="3.5"/><circle cx="1133.6" cy="628.3" r="3.5"/><circle cx="1093.7" cy="624.3" r="3.5"/><circle cx="1037.4" cy="589.2" r="3.5"/><circle cx="1073.3" cy="617.0" r="3.5"/><circle cx="981.8" cy="701.6" r="3.5"/><circle cx="1054.5" cy="678.9" r="3.5"/><circle cx="1054.2" cy="611.1" r="3.5"/><circle cx="1001.0" cy="580.6" r="3.5"/><circle cx="1163.8" cy="582.2" r="3.5"/><circle cx="1004.4" cy="665.3" r="3.5"/><circle cx="1004.0" cy="666.4" r="3.5"/><circle cx="1105.8" cy="587.9" r="3.5"/><circle cx="1061.5" cy="650.7" r="3.5"/><circle cx="1021.4" cy="541.0" r="3.5"/><circle cx="1045.2" cy="623.0" r="3.5"/><circle cx="1056.9" cy="682.3" r="3.5"/><circle cx="1041.1" cy="669.2" r="3.5"/><circle cx="956.4" cy="709.7" r="3.5"/><circle cx="948.2" cy="698.5" r="3.5"/><circle cx="1122.7" cy="622.8" r="3.5"/><circle cx="1170.2" cy="605.2" r="3.5"/><circle cx="1075.5" cy="639.7" r="3.5"/><circle cx="1121.4" cy="610.0" r="3.5"/><circle cx="1005.5" cy="684.5" r="3.5"/><circle cx="1113.6" cy="675.1" r="3.5"/><circle cx="1022.4" cy="611.9" r="3.5"/><circle cx="1167.2" cy="618.1" r="3.5"/><circle cx="1158.6" cy="623.1" r="3.5"/><circle cx="1018.3" cy="700.1" r="3.5"/><circle cx="838.7" cy="723.2" r="3.5"/><circle cx="1028.5" cy="629.6" r="3.5"/><circle cx="1051.6" cy="661.9" r="3.5"/><circle cx="1127.7" cy="622.6" r="3.5"/><circle cx="960.4" cy="637.8" r="3.5"/><circle cx="905.4" cy="667.3" r="3.5"/><circle cx="1057.7" cy="646.3" r="3.5"/><circle cx="981.9" cy="665.4" r="3.5"/><circle cx="1041.3" cy="691.2" r="3.5"/><circle cx="1033.0" cy="657.4" r="3.5"/><circle cx="1019.9" cy="644.2" r="3.5"/><circle cx="1064.8" cy="609.6" r="3.5"/><circle cx="991.8" cy="686.3" r="3.5"/><circle cx="1036.6" cy="671.2" r="3.5"/><circle cx="1019.7" cy="643.0" r="3.5"/><circle cx="1058.5" cy="694.4" r="3.5"/><circle cx="1070.1" cy="658.5" r="3.5"/><circle cx="1076.1" cy="665.9" r="3.5"/><circle cx="961.9" cy="665.1" r="3.5"/><circle cx="1076.4" cy="660.8" r="3.5"/><circle cx="1011.9" cy="695.0" r="3.5"/><circle cx="1152.1" cy="574.3" r="3.5"/><circle cx="1028.1" cy="625.0" r="3.5"/><circle cx="990.2" cy="695.6" r="3.5"/><circle cx="1022.7" cy="618.8" r="3.5"/><circle cx="1013.4" cy="671.9" r="3.5"/><circle cx="1002.9" cy="642.7" r="3.5"/><circle cx="982.7" cy="647.3" r="3.5"/><circle cx="1086.0" cy="599.8" r="3.5"/><circle cx="1039.6" cy="581.9" r="3.5"/><circle cx="1053.0" cy="665.7" r="3.5"/><circle cx="1030.1" cy="652.1" r="3.5"/><circle cx="1129.1" cy="595.9" r="3.5"/><circle cx="1056.4" cy="614.4" r="3.5"/><circle cx="1031.7" cy="673.2" r="3.5"/><circle cx="1081.7" cy="632.3" r="3.5"/><circle cx="1029.8" cy="675.9" r="3.5"/><circle cx="1036.2" cy="618.6" r="3.5"/><circle cx="1068.7" cy="613.4" r="3.5"/><circle cx="1067.4" cy="657.8" r="3.5"/><circle cx="1117.9" cy="607.6" r="3.5"/><circle cx="1024.8" cy="650.6" r="3.5"/><circle cx="1187.2" cy="604.3" r="3.5"/><circle cx="1015.0" cy="611.5" r="3.5"/><circle cx="1079.8" cy="615.2" r="3.5"/><circle cx="1148.0" cy="610.2" r="3.5"/><circle cx="930.9" cy="681.9" r="3.5"/><circle cx="989.4" cy="630.1" r="3.5"/><circle cx="947.8" cy="693.5" r="3.5"/><circle cx="956.0" cy="730.5" r="3.5"/><circle cx="1016.1" cy="657.7" r="3.5"/><circle cx="1023.8" cy="594.5" r="3.5"/><circle cx="975.7" cy="675.4" r="3.5"/><circle cx="1063.6" cy="672.9" r="3.5"/><circle cx="916.9" cy="640.3" r="3.5"/><circle cx="1055.4" cy="655.4" r="3.5"/><circle cx="1074.4" cy="631.7" r="3.5"/><circle cx="1140.5" cy="572.3" r="3.5"/><circle cx="856.9" cy="710.0" r="3.5"/><circle cx="805.6" cy="652.9" r="3.5"/><circle cx="992.4" cy="658.4" r="3.5"/><circle cx="1121.0" cy="645.3" r="3.5"/><circle cx="956.5" cy="688.3" r="3.5"/><circle cx="1169.2" cy="624.6" r="3.5"/><circle cx="1006.3" cy="653.2" r="3.5"/><circle cx="917.8" cy="672.2" r="3.5"/><circle cx="1163.0" cy="549.2" r="3.5"/><circle cx="921.1" cy="725.1" r="3.5"/><circle cx="1092.2" cy="633.4" r="3.5"/><circle cx="960.1" cy="693.7" r="3.5"/><circle cx="1002.0" cy="685.5" r="3.5"/><circle cx="1006.6" cy="678.9" r="3.5"/><circle cx="978.4" cy="694.0" r="3.5"/><circle cx="1018.0" cy="636.1" r="3.5"/><circle cx="1023.4" cy="585.4" r="3.5"/><circle cx="1026.6" cy="702.0" r="3.5"/><circle cx="1115.8" cy="609.1" r="3.5"/><circle cx="1130.7" cy="626.3" r="3.5"/><circle cx="1151.0" cy="608.3" r="3.5"/><circle cx="960.8" cy="649.6" r="3.5"/><circle cx="1066.3" cy="621.3" r="3.5"/><circle cx="1054.0" cy="674.4" r="3.5"/><circle cx="983.0" cy="642.5" r="3.5"/><circle cx="1080.5" cy="570.5" r="3.5"/><circle cx="995.8" cy="636.4" r="3.5"/><circle cx="969.3" cy="686.6" r="3.5"/><circle cx="985.2" cy="667.0" r="3.5"/><circle cx="1082.1" cy="640.3" r="3.5"/><circle cx="1122.4" cy="599.1" r="3.5"/><circle cx="984.2" cy="674.9" r="3.5"/><circle cx="1039.5" cy="637.2" r="3.5"/><circle cx="1110.5" cy="663.7" r="3.5"/><circle cx="1088.6" cy="598.1" r="3.5"/><circle cx="958.9" cy="733.5" r="3.5"/><circle cx="935.7" cy="698.1" r="3.5"/><circle cx="974.5" cy="640.1" r="3.5"/><circle cx="1010.4" cy="687.6" r="3.5"/><circle cx="1035.1" cy="649.9" r="3.5"/><circle cx="1188.6" cy="674.7" r="3.5"/><circle cx="1181.0" cy="573.9" r="3.5"/><circle cx="1124.3" cy="633.1" r="3.5"/><circle cx="990.6" cy="682.6" r="3.5"/><circle cx="921.3" cy="626.5" r="3.5"/><circle cx="1015.1" cy="653.7" r="3.5"/><circle cx="944.1" cy="679.3" r="3.5"/><circle cx="1078.6" cy="664.0" r="3.5"/><circle cx="1066.1" cy="617.4" r="3.5"/><circle cx="1060.2" cy="592.2" r="3.5"/><circle cx="1099.5" cy="635.5" r="3.5"/><circle cx="1053.6" cy="602.6" r="3.5"/><circle cx="1178.6" cy="587.2" r="3.5"/><circle cx="1091.0" cy="628.4" r="3.5"/><circle cx="952.6" cy="670.0" r="3.5"/><circle cx="986.4" cy="690.9" r="3.5"/><circle cx="1172.2" cy="594.0" r="3.5"/><circle cx="1003.2" cy="681.7" r="3.5"/><circle cx="1027.3" cy="654.1" r="3.5"/><circle cx="1106.1" cy="577.4" r="3.5"/><circle cx="1037.7" cy="646.7" r="3.5"/><circle cx="1034.5" cy="690.4" r="3.5"/><circle cx="1141.0" cy="522.0" r="3.5"/><circle cx="1075.8" cy="646.3" r="3.5"/><circle cx="1195.5" cy="568.5" r="3.5"/><circle cx="1015.5" cy="640.3" r="3.5"/><circle cx="1096.0" cy="643.4" r="3.5"/><circle cx="983.2" cy="691.6" r="3.5"/><circle cx="1104.6" cy="590.7" r="3.5"/><circle cx="1077.0" cy="659.1" r="3.5"/><circle cx="1108.5" cy="605.0" r="3.5"/><circle cx="1011.3" cy="649.2" r="3.5"/><circle cx="1010.9" cy="697.5" r="3.5"/><circle cx="1199.6" cy="583.7" r="3.5"/><circle cx="979.7" cy="707.5" r="3.5"/><circle cx="1017.2" cy="652.2" r="3.5"/><circle cx="1014.5" cy="642.2" r="3.5"/><circle cx="973.4" cy="695.8" r="3.5"/><circle cx="955.8" cy="718.1" r="3.5"/><circle cx="1017.8" cy="634.7" r="3.5"/><circle cx="963.4" cy="665.8" r="3.5"/><circle cx="1211.2" cy="601.6" r="3.5"/><circle cx="1006.1" cy="681.6" r="3.5"/><circle cx="1074.7" cy="630.4" r="3.5"/><circle cx="992.3" cy="668.0" r="3.5"/><circle cx="1033.3" cy="651.0" r="3.5"/><circle cx="1016.6" cy="610.4" r="3.5"/><circle cx="1046.1" cy="671.9" r="3.5"/><circle cx="950.7" cy="636.9" r="3.5"/><circle cx="936.1" cy="675.3" r="3.5"/><circle cx="1128.6" cy="558.9" r="3.5"/><circle cx="1100.0" cy="677.1" r="3.5"/><circle cx="1008.7" cy="600.8" r="3.5"/><circle cx="1027.8" cy="665.4" r="3.5"/><circle cx="900.4" cy="730.1" r="3.5"/><circle cx="965.7" cy="654.4" r="3.5"/><circle cx="1010.5" cy="661.0" r="3.5"/><circle cx="1143.8" cy="644.5" r="3.5"/><circle cx="1134.0" cy="627.6" r="3.5"/><circle cx="975.0" cy="688.3" r="3.5"/><circle cx="1113.2" cy="607.8" r="3.5"/><circle cx="994.8" cy="660.0" r="3.5"/><circle cx="1001.0" cy="677.1" r="3.5"/><circle cx="1102.7" cy="600.7" r="3.5"/><circle cx="993.1" cy="657.3" r="3.5"/><circle cx="1112.1" cy="614.6" r="3.5"/><circle cx="1149.4" cy="585.2" r="3.5"/><circle cx="949.1" cy="706.9" r="3.5"/><circle cx="1051.1" cy="693.3" r="3.5"/><circle cx="1163.2" cy="555.7" r="3.5"/><circle cx="1107.0" cy="647.2" r="3.5"/><circle cx="981.4" cy="668.7" r="3.5"/><circle cx="1040.6" cy="680.3" r="3.5"/><circle cx="1052.9" cy="645.0" r="3.5"/><circle cx="940.3" cy="704.6" r="3.5"/><circle cx="1008.1" cy="677.5" r="3.5"/><circle cx="1166.3" cy="608.8" r="3.5"/><circle cx="960.9" cy="643.7" r="3.5"/><circle cx="1041.9" cy="620.6" r="3.5"/><circle cx="1022.8" cy="634.0" r="3.5"/><circle cx="1055.9" cy="648.7" r="3.5"/><circle cx="1071.3" cy="602.3" r="3.5"/><circle cx="1124.1" cy="664.1" r="3.5"/><circle cx="1032.3" cy="663.8" r="3.5"/><circle cx="950.3" cy="636.8" r="3.5"/><circle cx="988.2" cy="639.3" r="3.5"/><circle cx="1116.7" cy="622.1" r="3.5"/><circle cx="997.8" cy="645.8" r="3.5"/><circle cx="1104.0" cy="545.7" r="3.5"/><circle cx="1040.8" cy="645.5" r="3.5"/><circle cx="1084.8" cy="662.5" r="3.5"/><circle cx="975.6" cy="664.6" r="3.5"/><circle cx="1042.2" cy="590.0" r="3.5"/><circle cx="978.3" cy="665.0" r="3.5"/><circle cx="969.2" cy="692.3" r="3.5"/><circle cx="1020.3" cy="688.8" r="3.5"/><circle cx="1060.8" cy="666.9" r="3.5"/><circle cx="996.5" cy="608.3" r="3.5"/><circle cx="1020.5" cy="691.5" r="3.5"/><circle cx="1083.1" cy="617.6" r="3.5"/><circle cx="1043.8" cy="675.2" r="3.5"/><circle cx="1021.3" cy="689.7" r="3.5"/><circle cx="1003.8" cy="673.0" r="3.5"/><circle cx="1026.7" cy="641.3" r="3.5"/><circle cx="974.2" cy="670.4" r="3.5"/><circle cx="1058.1" cy="660.1" r="3.5"/><circle cx="993.8" cy="651.4" r="3.5"/><circle cx="808.4" cy="664.8" r="3.5"/><circle cx="1011.4" cy="685.4" r="3.5"/><circle cx="1032.9" cy="722.7" r="3.5"/><circle cx="1138.2" cy="607.2" r="3.5"/><circle cx="1147.3" cy="515.3" r="3.5"/><circle cx="1019.4" cy="649.0" r="3.5"/><circle cx="1045.7" cy="619.4" r="3.5"/><circle cx="1007.9" cy="671.6" r="3.5"/><circle cx="969.6" cy="605.6" r="3.5"/><circle cx="981.0" cy="690.2" r="3.5"/><circle cx="1051.8" cy="627.6" r="3.5"/><circle cx="1109.2" cy="630.4" r="3.5"/><circle cx="984.6" cy="662.9" r="3.5"/><circle cx="941.6" cy="679.5" r="3.5"/><circle cx="965.0" cy="716.9" r="3.5"/><circle cx="910.3" cy="715.5" r="3.5"/><circle cx="998.8" cy="643.3" r="3.5"/><circle cx="1102.5" cy="642.0" r="3.5"/><circle cx="1000.0" cy="608.3" r="3.5"/><circle cx="1141.8" cy="600.2" r="3.5"/><circle cx="1069.2" cy="637.8" r="3.5"/><circle cx="1038.5" cy="647.0" r="3.5"/><circle cx="1007.0" cy="689.9" r="3.5"/><circle cx="961.6" cy="673.1" r="3.5"/><circle cx="1174.7" cy="633.7" r="3.5"/><circle cx="999.2" cy="706.0" r="3.5"/><circle cx="966.8" cy="701.0" r="3.5"/><circle cx="989.8" cy="649.9" r="3.5"/><circle cx="1038.2" cy="612.8" r="3.5"/><circle cx="1117.4" cy="635.5" r="3.5"/><circle cx="990.8" cy="670.9" r="3.5"/><circle cx="1096.4" cy="592.1" r="3.5"/><circle cx="1229.7" cy="542.1" r="3.5"/><circle cx="1134.5" cy="649.3" r="3.5"/><circle cx="966.3" cy="688.1" r="3.5"/><circle cx="1056.4" cy="695.2" r="3.5"/><circle cx="962.7" cy="706.9" r="3.5"/><circle cx="1104.3" cy="623.6" r="3.5"/><circle cx="967.7" cy="661.2" r="3.5"/><circle cx="965.6" cy="655.4" r="3.5"/><circle cx="1044.9" cy="649.4" r="3.5"/><circle cx="996.4" cy="688.0" r="3.5"/><circle cx="1009.8" cy="673.5" r="3.5"/><circle cx="999.5" cy="665.3" r="3.5"/><circle cx="1195.8" cy="674.2" r="3.5"/><circle cx="967.2" cy="705.9" r="3.5"/><circle cx="962.8" cy="679.3" r="3.5"/><circle cx="977.0" cy="664.2" r="3.5"/><circle cx="1077.9" cy="607.6" r="3.5"/><circle cx="1021.4" cy="694.7" r="3.5"/><circle cx="1008.3" cy="652.1" r="3.5"/><circle cx="995.9" cy="678.4" r="3.5"/><circle cx="1082.7" cy="660.8" r="3.5"/><circle cx="1091.4" cy="548.4" r="3.5"/><circle cx="1024.5" cy="664.9" r="3.5"/><circle cx="990.9" cy="710.4" r="3.5"/><circle cx="1005.7" cy="677.1" r="3.5"/><circle cx="1021.0" cy="678.6" r="3.5"/><circle cx="1107.3" cy="615.2" r="3.5"/><circle cx="1019.0" cy="695.5" r="3.5"/><circle cx="1009.0" cy="688.1" r="3.5"/><circle cx="1142.4" cy="574.0" r="3.5"/><circle cx="1050.4" cy="616.2" r="3.5"/><circle cx="1044.8" cy="681.1" r="3.5"/><circle cx="1009.1" cy="677.0" r="3.5"/><circle cx="1088.2" cy="669.3" r="3.5"/><circle cx="958.2" cy="675.5" r="3.5"/><circle cx="1164.8" cy="624.8" r="3.5"/><circle cx="1091.6" cy="581.9" r="3.5"/><circle cx="988.7" cy="687.7" r="3.5"/><circle cx="945.6" cy="658.4" r="3.5"/><circle cx="1307.1" cy="480.4" r="3.5"/><circle cx="1064.6" cy="615.5" r="3.5"/><circle cx="1035.3" cy="647.3" r="3.5"/><circle cx="1166.1" cy="595.2" r="3.5"/><circle cx="1036.1" cy="656.2" r="3.5"/><circle cx="968.0" cy="673.2" r="3.5"/><circle cx="1120.3" cy="647.2" r="3.5"/><circle cx="1085.7" cy="653.9" r="3.5"/><circle cx="1079.5" cy="615.3" r="3.5"/><circle cx="1043.3" cy="659.0" r="3.5"/><circle cx="1135.8" cy="591.7" r="3.5"/><circle cx="1116.5" cy="600.3" r="3.5"/><circle cx="957.4" cy="670.4" r="3.5"/><circle cx="1052.1" cy="569.5" r="3.5"/><circle cx="985.6" cy="698.0" r="3.5"/><circle cx="973.5" cy="672.2" r="3.5"/><circle cx="1176.9" cy="605.5" r="3.5"/><circle cx="1033.8" cy="671.7" r="3.5"/><circle cx="1095.7" cy="598.2" r="3.5"/><circle cx="1097.3" cy="605.4" r="3.5"/><circle cx="1116.2" cy="599.7" r="3.5"/><circle cx="1032.2" cy="643.7" r="3.5"/><circle cx="944.7" cy="675.8" r="3.5"/><circle cx="1006.8" cy="700.0" r="3.5"/><circle cx="973.0" cy="711.2" r="3.5"/><circle cx="1085.0" cy="619.6" r="3.5"/><circle cx="972.2" cy="669.4" r="3.5"/><circle cx="1154.5" cy="635.9" r="3.5"/><circle cx="1034.9" cy="632.0" r="3.5"/><circle cx="997.1" cy="722.7" r="3.5"/><circle cx="1070.3" cy="622.7" r="3.5"/><circle cx="904.0" cy="722.7" r="3.5"/><circle cx="1080.1" cy="602.9" r="3.5"/><circle cx="1000.3" cy="619.0" r="3.5"/><circle cx="929.6" cy="727.6" r="3.5"/><circle cx="1081.9" cy="664.5" r="3.5"/><circle cx="1039.3" cy="584.5" r="3.5"/><circle cx="1024.2" cy="594.4" r="3.5"/><circle cx="1068.4" cy="672.6" r="3.5"/><circle cx="1095.4" cy="624.6" r="3.5"/><circle cx="1216.2" cy="572.4" r="3.5"/><circle cx="1046.6" cy="659.7" r="3.5"/><circle cx="1057.3" cy="663.4" r="3.5"/><circle cx="1014.2" cy="671.0" r="3.5"/><circle cx="956.9" cy="659.8" r="3.5"/><circle cx="1056.1" cy="552.8" r="3.5"/><circle cx="1031.0" cy="653.0" r="3.5"/><circle cx="970.4" cy="709.9" r="3.5"/><circle cx="1062.7" cy="668.9" r="3.5"/><circle cx="1021.6" cy="659.7" r="3.5"/><circle cx="1045.8" cy="665.8" r="3.5"/><circle cx="1020.1" cy="690.3" r="3.5"/><circle cx="1095.3" cy="645.8" r="3.5"/><circle cx="1100.6" cy="599.0" r="3.5"/><circle cx="1089.7" cy="595.0" r="3.5"/><circle cx="1050.2" cy="672.6" r="3.5"/><circle cx="1188.3" cy="551.4" r="3.5"/><circle cx="932.2" cy="728.3" r="3.5"/><circle cx="1111.7" cy="560.5" r="3.5"/><circle cx="1000.8" cy="690.1" r="3.5"/><circle cx="1086.5" cy="612.4" r="3.5"/><circle cx="1058.4" cy="616.7" r="3.5"/><circle cx="987.0" cy="673.6" r="3.5"/><circle cx="986.6" cy="624.6" r="3.5"/><circle cx="1065.6" cy="622.3" r="3.5"/><circle cx="1010.6" cy="668.0" r="3.5"/><circle cx="976.1" cy="664.8" r="3.5"/><circle cx="1000.6" cy="705.9" r="3.5"/><circle cx="1121.6" cy="619.8" r="3.5"/><circle cx="1186.1" cy="587.8" r="3.5"/><circle cx="1126.3" cy="652.2" r="3.5"/><circle cx="1014.4" cy="719.9" r="3.5"/><circle cx="1049.2" cy="613.5" r="3.5"/><circle cx="977.8" cy="713.8" r="3.5"/><circle cx="1128.3" cy="631.6" r="3.5"/><circle cx="1002.8" cy="675.6" r="3.5"/><circle cx="1034.7" cy="652.1" r="3.5"/><circle cx="1017.4" cy="647.0" r="3.5"/><circle cx="1015.9" cy="631.0" r="3.5"/><circle cx="983.8" cy="676.0" r="3.5"/><circle cx="989.0" cy="677.5" r="3.5"/><circle cx="912.5" cy="644.7" r="3.5"/><circle cx="1041.5" cy="648.0" r="3.5"/><circle cx="1063.2" cy="601.0" r="3.5"/><circle cx="949.9" cy="674.2" r="3.5"/><circle cx="1176.4" cy="592.9" r="3.5"/><circle cx="1112.7" cy="633.5" r="3.5"/><circle cx="988.7" cy="693.5" r="3.5"/><circle cx="971.8" cy="689.6" r="3.5"/><circle cx="1135.5" cy="615.5" r="3.5"/><circle cx="994.3" cy="654.1" r="3.5"/><circle cx="946.9" cy="647.8" r="3.5"/><circle cx="976.8" cy="688.2" r="3.5"/><circle cx="967.6" cy="700.9" r="3.5"/><circle cx="1078.9" cy="593.7" r="3.5"/><circle cx="1207.4" cy="539.0" r="3.5"/><circle cx="922.7" cy="735.1" r="3.5"/><circle cx="1068.0" cy="622.1" r="3.5"/><circle cx="954.2" cy="688.1" r="3.5"/><circle cx="1016.5" cy="700.1" r="3.5"/><circle cx="998.1" cy="688.2" r="3.5"/><circle cx="980.6" cy="670.6" r="3.5"/><circle cx="1048.9" cy="574.1" r="3.5"/><circle cx="959.6" cy="643.7" r="3.5"/><circle cx="1139.6" cy="585.9" r="3.5"/><circle cx="1004.8" cy="681.3" r="3.5"/><circle cx="1067.0" cy="642.9" r="3.5"/><circle cx="1036.7" cy="669.6" r="3.5"/><circle cx="998.5" cy="610.0" r="3.5"/><circle cx="1078.6" cy="644.0" r="3.5"/><circle cx="1191.4" cy="626.9" r="3.5"/><circle cx="1035.8" cy="627.9" r="3.5"/><circle cx="1053.4" cy="614.3" r="3.5"/><circle cx="991.6" cy="661.1" r="3.5"/><circle cx="1087.4" cy="654.5" r="3.5"/><circle cx="1088.3" cy="651.2" r="3.5"/><circle cx="969.7" cy="697.1" r="3.5"/><circle cx="1153.7" cy="600.7" r="3.5"/><circle cx="1038.8" cy="596.2" r="3.5"/><circle cx="958.5" cy="680.1" r="3.5"/><circle cx="1062.5" cy="648.3" r="3.5"/><circle cx="1059.2" cy="680.2" r="3.5"/><circle cx="896.8" cy="649.4" r="3.5"/><circle cx="1037.0" cy="633.6" r="3.5"/><circle cx="1122.0" cy="623.6" r="3.5"/><circle cx="1041.8" cy="662.9" r="3.5"/><circle cx="1168.6" cy="587.0" r="3.5"/><circle cx="947.3" cy="690.9" r="3.5"/><circle cx="1059.8" cy="640.1" r="3.5"/><circle cx="992.6" cy="702.6" r="3.5"/><circle cx="1003.6" cy="621.8" r="3.5"/><circle cx="938.3" cy="721.0" r="3.5"/><circle cx="997.4" cy="668.2" r="3.5"/><circle cx="1053.8" cy="639.6" r="3.5"/><circle cx="938.5" cy="680.1" r="3.5"/><circle cx="1066.7" cy="622.2" r="3.5"/><circle cx="994.7" cy="630.7" r="3.5"/><circle cx="981.2" cy="695.8" r="3.5"/><circle cx="992.0" cy="697.9" r="3.5"/><circle cx="936.9" cy="706.3" r="3.5"/><circle cx="1155.6" cy="544.3" r="3.5"/><circle cx="1134.9" cy="670.3" r="3.5"/><circle cx="1159.4" cy="495.2" r="3.5"/><circle cx="1069.5" cy="616.7" r="3.5"/><circle cx="955.2" cy="710.6" r="3.5"/><circle cx="1131.4" cy="641.5" r="3.5"/><circle cx="1056.2" cy="661.5" r="3.5"/><circle cx="987.9" cy="682.7" r="3.5"/><circle cx="1077.3" cy="621.5" r="3.5"/><circle cx="903.7" cy="650.7" r="3.5"/><circle cx="1025.5" cy="648.0" r="3.5"/><circle cx="1036.8" cy="652.1" r="3.5"/><circle cx="834.3" cy="649.4" r="3.5"/><circle cx="1099.2" cy="656.4" r="3.5"/><circle cx="1071.1" cy="639.9" r="3.5"/><circle cx="979.4" cy="661.5" r="3.5"/><circle cx="1059.4" cy="645.1" r="3.5"/><circle cx="1030.8" cy="682.2" r="3.5"/><circle cx="1079.1" cy="604.8" r="3.5"/><circle cx="1050.6" cy="720.5" r="3.5"/><circle cx="961.2" cy="654.8" r="3.5"/><circle cx="945.4" cy="713.1" r="3.5"/><circle cx="1132.6" cy="618.4" r="3.5"/><circle cx="1006.0" cy="696.8" r="3.5"/><circle cx="1061.6" cy="676.4" r="3.5"/><circle cx="1054.8" cy="634.1" r="3.5"/><circle cx="1064.4" cy="673.7" r="3.5"/><circle cx="995.4" cy="691.7" r="3.5"/><circle cx="1057.0" cy="661.3" r="3.5"/><circle cx="1096.8" cy="613.4" r="3.5"/><circle cx="859.6" cy="737.3" r="3.5"/><circle cx="1025.2" cy="677.4" r="3.5"/><circle cx="1214.2" cy="637.1" r="3.5"/><circle cx="1140.8" cy="599.7" r="3.5"/><circle cx="995.5" cy="647.6" r="3.5"/><circle cx="943.9" cy="727.3" r="3.5"/><circle cx="900.4" cy="644.7" r="3.5"/><circle cx="933.5" cy="694.3" r="3.5"/><circle cx="1126.9" cy="628.7" r="3.5"/><circle cx="1092.9" cy="673.6" r="3.5"/><circle cx="971.4" cy="703.6" r="3.5"/><circle cx="1047.3" cy="639.0" r="3.5"/><circle cx="1118.9" cy="548.1" r="3.5"/><circle cx="945.0" cy="695.8" r="3.5"/><circle cx="1106.5" cy="639.1" r="3.5"/><circle cx="1024.0" cy="605.0" r="3.5"/><circle cx="1092.3" cy="610.1" r="3.5"/><circle cx="975.2" cy="657.4" r="3.5"/><circle cx="976.5" cy="681.8" r="3.5"/><circle cx="1101.1" cy="665.2" r="3.5"/><circle cx="1008.6" cy="635.1" r="3.5"/><circle cx="1025.7" cy="647.7" r="3.5"/><circle cx="944.5" cy="733.4" r="3.5"/><circle cx="1029.5" cy="663.1" r="3.5"/><circle cx="1016.9" cy="672.1" r="3.5"/><circle cx="1183.3" cy="619.3" r="3.5"/><circle cx="970.3" cy="662.1" r="3.5"/><circle cx="979.1" cy="650.7" r="3.5"/><circle cx="977.2" cy="653.4" r="3.5"/><circle cx="934.1" cy="706.1" r="3.5"/><circle cx="1012.4" cy="680.0" r="3.5"/><circle cx="1073.0" cy="638.8" r="3.5"/><circle cx="998.7" cy="659.7" r="3.5"/><circle cx="1032.9" cy="634.8" r="3.5"/><circle cx="1108.3" cy="651.3" r="3.5"/><circle cx="1156.4" cy="555.6" r="3.5"/><circle cx="1222.5" cy="561.1" r="3.5"/>
</g>
<line x1="805.95" y1="741.00" x2="1307.51" y2="543.23" stroke="#000" stroke-width="4.8"/>
<defs><radialGradient id="ptF"><stop offset="0.47" stop-color="#b22222" stop-opacity="0.5"/><stop offset="0.58" stop-color="#b22222" stop-opacity="0.75"/></radialGradient></defs>
<g fill="url(#ptF)">
<circle cx="1664.0" cy="635.5" r="3.5"/><circle cx="1516.3" cy="726.0" r="3.5"/><circle cx="1751.2" cy="610.7" r="3.5"/><circle cx="1787.5" cy="493.6" r="3.5"/><circle cx="1638.9" cy="677.1" r="3.5"/><circle cx="1690.5" cy="612.9" r="3.5"/><circle cx="1755.4" cy="600.2" r="3.5"/><circle cx="1622.7" cy="581.2" r="3.5"/><circle cx="1582.3" cy="676.7" r="3.5"/><circle cx="1623.7" cy="639.6" r="3.5"/><circle cx="1823.9" cy="606.6" r="3.5"/><circle cx="1700.4" cy="675.9" r="3.5"/><circle cx="1754.3" cy="560.6" r="3.5"/><circle cx="1587.9" cy="680.4" r="3.5"/><circle cx="1630.9" cy="612.5" r="3.5"/><circle cx="1741.8" cy="601.2" r="3.5"/><circle cx="1658.1" cy="630.3" r="3.5"/><circle cx="1615.8" cy="704.2" r="3.5"/><circle cx="1771.2" cy="657.9" r="3.5"/><circle cx="1713.8" cy="631.1" r="3.5"/><circle cx="1537.3" cy="719.6" r="3.5"/><circle cx="1628.4" cy="661.5" r="3.5"/><circle cx="1605.7" cy="630.3" r="3.5"/><circle cx="1710.1" cy="618.3" r="3.5"/><circle cx="1755.3" cy="576.7" r="3.5"/><circle cx="1822.2" cy="654.7" r="3.5"/><circle cx="1721.7" cy="689.3" r="3.5"/><circle cx="1720.0" cy="592.1" r="3.5"/><circle cx="1625.8" cy="645.7" r="3.5"/><circle cx="1593.4" cy="629.2" r="3.5"/><circle cx="1708.2" cy="575.7" r="3.5"/><circle cx="1768.3" cy="670.7" r="3.5"/><circle cx="1697.7" cy="627.3" r="3.5"/><circle cx="1689.6" cy="667.0" r="3.5"/><circle cx="1651.4" cy="678.8" r="3.5"/><circle cx="1881.1" cy="540.4" r="3.5"/><circle cx="1679.3" cy="658.9" r="3.5"/><circle cx="1610.1" cy="718.6" r="3.5"/><circle cx="1670.3" cy="654.1" r="3.5"/><circle cx="1646.6" cy="630.5" r="3.5"/><circle cx="1680.9" cy="648.7" r="3.5"/><circle cx="1649.9" cy="690.4" r="3.5"/><circle cx="1594.8" cy="647.9" r="3.5"/><circle cx="1740.7" cy="637.1" r="3.5"/><circle cx="1587.2" cy="675.4" r="3.5"/><circle cx="1639.1" cy="683.8" r="3.5"/><circle cx="1580.4" cy="665.3" r="3.5"/><circle cx="1577.1" cy="655.5" r="3.5"/><circle cx="1668.3" cy="679.5" r="3.5"/><circle cx="1860.2" cy="729.3" r="3.5"/><circle cx="1818.4" cy="561.4" r="3.5"/><circle cx="1771.4" cy="570.8" r="3.5"/><circle cx="1657.1" cy="694.0" r="3.5"/><circle cx="1592.8" cy="656.4" r="3.5"/><circle cx="1651.6" cy="714.5" r="3.5"/><circle cx="1762.5" cy="623.6" r="3.5"/><circle cx="1618.8" cy="726.0" r="3.5"/><circle cx="1848.4" cy="570.0" r="3.5"/><circle cx="1567.0" cy="667.8" r="3.5"/><circle cx="1612.9" cy="701.0" r="3.5"/><circle cx="1646.0" cy="663.5" r="3.5"/><circle cx="1684.9" cy="655.9" r="3.5"/><circle cx="1636.2" cy="618.7" r="3.5"/><circle cx="1632.4" cy="640.6" r="3.5"/><circle cx="1776.1" cy="584.7" r="3.5"/><circle cx="1734.4" cy="624.9" r="3.5"/><circle cx="1639.1" cy="650.1" r="3.5"/><circle cx="1688.4" cy="698.9" r="3.5"/><circle cx="1578.6" cy="685.6" r="3.5"/><circle cx="1640.3" cy="721.0" r="3.5"/><circle cx="1667.1" cy="669.0" r="3.5"/><circle cx="1626.8" cy="657.7" r="3.5"/><circle cx="1573.4" cy="689.5" r="3.5"/><circle cx="1535.3" cy="671.7" r="3.5"/><circle cx="1602.8" cy="653.7" r="3.5"/><circle cx="1634.4" cy="632.4" r="3.5"/><circle cx="1611.2" cy="670.5" r="3.5"/><circle cx="1611.9" cy="726.0" r="3.5"/><circle cx="1623.6" cy="657.3" r="3.5"/><circle cx="1773.7" cy="628.8" r="3.5"/><circle cx="1645.4" cy="655.9" r="3.5"/><circle cx="1599.1" cy="653.1" r="3.5"/><circle cx="1780.6" cy="688.5" r="3.5"/><circle cx="1676.7" cy="661.8" r="3.5"/><circle cx="1655.6" cy="667.7" r="3.5"/><circle cx="1563.8" cy="656.8" r="3.5"/><circle cx="1570.9" cy="687.0" r="3.5"/><circle cx="1556.0" cy="709.9" r="3.5"/><circle cx="1682.9" cy="609.3" r="3.5"/><circle cx="1763.4" cy="617.8" r="3.5"/><circle cx="1582.2" cy="712.2" r="3.5"/><circle cx="1783.8" cy="657.4" r="3.5"/><circle cx="1606.2" cy="673.7" r="3.5"/><circle cx="1555.5" cy="711.0" r="3.5"/><circle cx="1576.0" cy="676.1" r="3.5"/><circle cx="1872.9" cy="550.9" r="3.5"/><circle cx="1769.5" cy="628.0" r="3.5"/><circle cx="1744.9" cy="651.7" r="3.5"/><circle cx="1675.0" cy="655.7" r="3.5"/><circle cx="1576.4" cy="640.3" r="3.5"/><circle cx="1701.3" cy="663.9" r="3.5"/><circle cx="1738.0" cy="671.3" r="3.5"/><circle cx="1703.6" cy="639.2" r="3.5"/><circle cx="1798.5" cy="685.5" r="3.5"/><circle cx="1753.3" cy="648.4" r="3.5"/><circle cx="1553.0" cy="699.9" r="3.5"/><circle cx="1649.5" cy="661.0" r="3.5"/><circle cx="1814.0" cy="580.0" r="3.5"/><circle cx="1841.5" cy="550.9" r="3.5"/><circle cx="1841.7" cy="726.0" r="3.5"/><circle cx="1727.9" cy="627.2" r="3.5"/><circle cx="1666.8" cy="603.9" r="3.5"/><circle cx="1722.6" cy="656.1" r="3.5"/><circle cx="1665.0" cy="634.3" r="3.5"/><circle cx="1702.5" cy="618.6" r="3.5"/><circle cx="1653.2" cy="676.1" r="3.5"/><circle cx="1660.4" cy="702.3" r="3.5"/><circle cx="1605.9" cy="712.8" r="3.5"/><circle cx="1633.3" cy="660.7" r="3.5"/><circle cx="1708.1" cy="609.2" r="3.5"/><circle cx="1695.5" cy="583.1" r="3.5"/><circle cx="1588.2" cy="669.9" r="3.5"/><circle cx="1738.8" cy="648.3" r="3.5"/><circle cx="1626.3" cy="636.0" r="3.5"/><circle cx="1817.2" cy="629.7" r="3.5"/><circle cx="1724.4" cy="664.1" r="3.5"/><circle cx="1592.5" cy="704.9" r="3.5"/><circle cx="1568.8" cy="677.9" r="3.5"/><circle cx="1725.3" cy="638.6" r="3.5"/><circle cx="1635.7" cy="635.0" r="3.5"/><circle cx="1591.8" cy="654.9" r="3.5"/><circle cx="1621.5" cy="661.2" r="3.5"/><circle cx="1603.2" cy="669.1" r="3.5"/><circle cx="1807.6" cy="651.1" r="3.5"/><circle cx="1719.4" cy="718.3" r="3.5"/><circle cx="1686.1" cy="700.1" r="3.5"/><circle cx="1619.4" cy="632.5" r="3.5"/><circle cx="1727.1" cy="625.7" r="3.5"/><circle cx="1691.6" cy="687.3" r="3.5"/><circle cx="1623.3" cy="663.4" r="3.5"/><circle cx="1718.3" cy="626.1" r="3.5"/><circle cx="1820.6" cy="626.4" r="3.5"/><circle cx="1772.4" cy="647.9" r="3.5"/><circle cx="1796.8" cy="615.0" r="3.5"/><circle cx="1636.9" cy="649.2" r="3.5"/><circle cx="1640.0" cy="650.7" r="3.5"/><circle cx="1618.2" cy="665.3" r="3.5"/><circle cx="1567.6" cy="694.0" r="3.5"/><circle cx="1866.1" cy="614.5" r="3.5"/><circle cx="1683.2" cy="657.8" r="3.5"/><circle cx="1630.5" cy="625.6" r="3.5"/><circle cx="1749.4" cy="516.7" r="3.5"/><circle cx="1674.4" cy="643.2" r="3.5"/><circle cx="1579.5" cy="699.1" r="3.5"/><circle cx="1694.0" cy="660.6" r="3.5"/><circle cx="1659.4" cy="688.5" r="3.5"/><circle cx="1678.9" cy="648.6" r="3.5"/><circle cx="1680.4" cy="662.8" r="3.5"/><circle cx="1551.2" cy="673.2" r="3.5"/><circle cx="1694.7" cy="635.1" r="3.5"/><circle cx="1636.6" cy="659.4" r="3.5"/><circle cx="1597.7" cy="635.5" r="3.5"/><circle cx="1578.2" cy="712.8" r="3.5"/><circle cx="1724.1" cy="653.6" r="3.5"/><circle cx="1749.5" cy="585.7" r="3.5"/><circle cx="1840.9" cy="570.7" r="3.5"/><circle cx="1584.5" cy="703.1" r="3.5"/><circle cx="1592.6" cy="670.0" r="3.5"/><circle cx="1545.9" cy="688.1" r="3.5"/><circle cx="1507.8" cy="721.6" r="3.5"/><circle cx="1629.2" cy="695.7" r="3.5"/><circle cx="1631.5" cy="633.3" r="3.5"/><circle cx="1631.1" cy="674.7" r="3.5"/><circle cx="1693.3" cy="649.3" r="3.5"/><circle cx="1627.5" cy="665.0" r="3.5"/><circle cx="1567.4" cy="671.8" r="3.5"/><circle cx="1950.3" cy="536.3" r="3.5"/><circle cx="1589.9" cy="668.7" r="3.5"/><circle cx="1817.8" cy="707.5" r="3.5"/><circle cx="1630.5" cy="681.0" r="3.5"/><circle cx="1584.2" cy="652.4" r="3.5"/><circle cx="1612.6" cy="648.7" r="3.5"/><circle cx="1564.9" cy="689.9" r="3.5"/><circle cx="1691.0" cy="663.4" r="3.5"/><circle cx="1600.6" cy="683.9" r="3.5"/><circle cx="1586.2" cy="645.4" r="3.5"/><circle cx="1570.4" cy="672.3" r="3.5"/><circle cx="1615.0" cy="642.1" r="3.5"/><circle cx="1785.6" cy="563.1" r="3.5"/><circle cx="1686.7" cy="667.3" r="3.5"/><circle cx="1723.4" cy="630.9" r="3.5"/><circle cx="1635.0" cy="681.6" r="3.5"/><circle cx="1730.4" cy="645.4" r="3.5"/><circle cx="1759.2" cy="668.3" r="3.5"/><circle cx="1595.0" cy="638.9" r="3.5"/><circle cx="1752.9" cy="664.1" r="3.5"/><circle cx="1747.4" cy="610.8" r="3.5"/><circle cx="1733.4" cy="647.7" r="3.5"/><circle cx="1605.5" cy="627.8" r="3.5"/><circle cx="1812.7" cy="617.0" r="3.5"/><circle cx="1690.2" cy="655.0" r="3.5"/><circle cx="1531.5" cy="664.5" r="3.5"/><circle cx="1774.6" cy="609.4" r="3.5"/><circle cx="1781.8" cy="655.4" r="3.5"/><circle cx="1534.5" cy="707.5" r="3.5"/><circle cx="1627.3" cy="719.5" r="3.5"/><circle cx="1642.8" cy="675.3" r="3.5"/><circle cx="1675.6" cy="648.0" r="3.5"/><circle cx="1638.1" cy="625.4" r="3.5"/><circle cx="1660.0" cy="671.9" r="3.5"/><circle cx="1645.1" cy="685.6" r="3.5"/><circle cx="1700.2" cy="592.8" r="3.5"/><circle cx="1583.7" cy="658.0" r="3.5"/><circle cx="1622.4" cy="663.1" r="3.5"/><circle cx="1833.7" cy="652.4" r="3.5"/><circle cx="1701.7" cy="621.3" r="3.5"/><circle cx="1580.9" cy="666.9" r="3.5"/><circle cx="1604.1" cy="684.5" r="3.5"/><circle cx="1714.4" cy="636.4" r="3.5"/><circle cx="1682.5" cy="706.8" r="3.5"/><circle cx="1734.1" cy="660.9" r="3.5"/><circle cx="1875.4" cy="577.1" r="3.5"/><circle cx="1788.3" cy="627.5" r="3.5"/><circle cx="1972.3" cy="552.0" r="3.5"/><circle cx="1658.0" cy="658.1" r="3.5"/><circle cx="1920.8" cy="564.9" r="3.5"/><circle cx="1608.6" cy="728.8" r="3.5"/><circle cx="1826.5" cy="649.9" r="3.5"/><circle cx="1648.1" cy="640.1" r="3.5"/><circle cx="1557.9" cy="702.4" r="3.5"/><circle cx="1638.3" cy="692.5" r="3.5"/><circle cx="1596.5" cy="689.4" r="3.5"/><circle cx="1717.2" cy="663.5" r="3.5"/><circle cx="1586.7" cy="650.3" r="3.5"/><circle cx="1681.6" cy="633.5" r="3.5"/><circle cx="1554.6" cy="671.0" r="3.5"/><circle cx="1756.3" cy="654.2" r="3.5"/><circle cx="1632.6" cy="695.3" r="3.5"/><circle cx="1803.5" cy="669.1" r="3.5"/><circle cx="1711.5" cy="592.2" r="3.5"/><circle cx="1569.4" cy="656.0" r="3.5"/><circle cx="1758.8" cy="621.3" r="3.5"/><circle cx="1642.1" cy="621.5" r="3.5"/><circle cx="1612.0" cy="684.4" r="3.5"/><circle cx="1603.3" cy="635.0" r="3.5"/><circle cx="1594.5" cy="657.7" r="3.5"/><circle cx="1770.1" cy="609.2" r="3.5"/><circle cx="1648.8" cy="681.6" r="3.5"/><circle cx="1581.1" cy="651.6" r="3.5"/><circle cx="1608.4" cy="696.0" r="3.5"/><circle cx="1821.1" cy="546.5" r="3.5"/><circle cx="1861.0" cy="590.1" r="3.5"/><circle cx="1645.6" cy="675.0" r="3.5"/><circle cx="1645.8" cy="678.8" r="3.5"/><circle cx="1923.9" cy="670.0" r="3.5"/><circle cx="1665.3" cy="638.2" r="3.5"/><circle cx="1741.9" cy="625.6" r="3.5"/><circle cx="1784.4" cy="572.9" r="3.5"/><circle cx="1771.8" cy="627.2" r="3.5"/><circle cx="1646.1" cy="646.7" r="3.5"/><circle cx="1737.5" cy="660.8" r="3.5"/><circle cx="1655.2" cy="638.0" r="3.5"/><circle cx="1608.0" cy="685.0" r="3.5"/><circle cx="1787.6" cy="593.4" r="3.5"/><circle cx="1709.4" cy="658.9" r="3.5"/><circle cx="1753.7" cy="608.0" r="3.5"/><circle cx="1624.4" cy="684.4" r="3.5"/><circle cx="1610.5" cy="689.5" r="3.5"/><circle cx="1607.6" cy="689.6" r="3.5"/><circle cx="1679.9" cy="639.7" r="3.5"/><circle cx="1662.1" cy="684.4" r="3.5"/><circle cx="1764.1" cy="596.3" r="3.5"/><circle cx="1810.1" cy="632.1" r="3.5"/><circle cx="1795.2" cy="648.4" r="3.5"/><circle cx="1675.1" cy="655.7" r="3.5"/><circle cx="1805.1" cy="660.9" r="3.5"/><circle cx="1805.7" cy="577.5" r="3.5"/><circle cx="1715.6" cy="627.2" r="3.5"/><circle cx="1713.2" cy="650.4" r="3.5"/><circle cx="1659.1" cy="671.3" r="3.5"/><circle cx="1796.2" cy="607.1" r="3.5"/><circle cx="1697.2" cy="593.2" r="3.5"/><circle cx="1592.0" cy="656.8" r="3.5"/><circle cx="1636.0" cy="662.9" r="3.5"/><circle cx="1684.2" cy="642.7" r="3.5"/><circle cx="1661.6" cy="637.4" r="3.5"/><circle cx="1829.6" cy="659.3" r="3.5"/><circle cx="1620.6" cy="682.6" r="3.5"/><circle cx="1668.5" cy="671.0" r="3.5"/><circle cx="1676.5" cy="633.9" r="3.5"/><circle cx="1735.9" cy="624.9" r="3.5"/><circle cx="1598.0" cy="678.8" r="3.5"/><circle cx="1721.5" cy="595.8" r="3.5"/><circle cx="1576.1" cy="662.7" r="3.5"/><circle cx="1786.8" cy="594.2" r="3.5"/><circle cx="1649.3" cy="650.9" r="3.5"/><circle cx="1571.9" cy="678.7" r="3.5"/><circle cx="1816.0" cy="646.2" r="3.5"/><circle cx="1590.9" cy="624.9" r="3.5"/><circle cx="1577.7" cy="685.0" r="3.5"/><circle cx="1615.2" cy="712.5" r="3.5"/><circle cx="1616.6" cy="694.5" r="3.5"/><circle cx="1680.6" cy="681.3" r="3.5"/><circle cx="1821.7" cy="564.2" r="3.5"/><circle cx="1735.5" cy="628.4" r="3.5"/><circle cx="1596.8" cy="621.4" r="3.5"/><circle cx="1656.9" cy="639.6" r="3.5"/><circle cx="1682.8" cy="684.7" r="3.5"/><circle cx="1788.8" cy="647.5" r="3.5"/><circle cx="1620.2" cy="683.8" r="3.5"/><circle cx="1748.9" cy="596.1" r="3.5"/><circle cx="1728.7" cy="656.1" r="3.5"/><circle cx="1719.3" cy="602.2" r="3.5"/><circle cx="1634.6" cy="716.7" r="3.5"/><circle cx="1575.0" cy="651.6" r="3.5"/><circle cx="1601.4" cy="634.4" r="3.5"/><circle cx="1641.9" cy="665.9" r="3.5"/><circle cx="1736.6" cy="645.1" r="3.5"/><circle cx="1769.0" cy="572.8" r="3.5"/><circle cx="1607.0" cy="693.6" r="3.5"/><circle cx="1724.0" cy="656.7" r="3.5"/><circle cx="1824.7" cy="564.4" r="3.5"/><circle cx="1671.2" cy="648.8" r="3.5"/><circle cx="1605.3" cy="689.4" r="3.5"/><circle cx="1904.8" cy="602.1" r="3.5"/><circle cx="1644.8" cy="682.3" r="3.5"/><circle cx="1571.2" cy="668.0" r="3.5"/><circle cx="1664.4" cy="653.2" r="3.5"/><circle cx="1589.8" cy="665.1" r="3.5"/><circle cx="1511.9" cy="630.4" r="3.5"/><circle cx="1598.4" cy="651.1" r="3.5"/><circle cx="1661.8" cy="584.8" r="3.5"/><circle cx="1563.5" cy="706.3" r="3.5"/><circle cx="1624.0" cy="600.6" r="3.5"/><circle cx="1710.8" cy="603.8" r="3.5"/><circle cx="1615.1" cy="666.7" r="3.5"/><circle cx="1653.5" cy="733.4" r="3.5"/><circle cx="1574.4" cy="684.2" r="3.5"/><circle cx="1858.0" cy="575.9" r="3.5"/><circle cx="1952.8" cy="541.5" r="3.5"/><circle cx="1741.2" cy="668.5" r="3.5"/><circle cx="1585.4" cy="718.2" r="3.5"/><circle cx="1671.7" cy="621.8" r="3.5"/><circle cx="1579.8" cy="666.7" r="3.5"/><circle cx="1711.7" cy="673.0" r="3.5"/><circle cx="1695.6" cy="673.5" r="3.5"/><circle cx="1657.5" cy="643.5" r="3.5"/><circle cx="1580.2" cy="664.9" r="3.5"/><circle cx="1859.9" cy="611.9" r="3.5"/><circle cx="1712.7" cy="595.6" r="3.5"/><circle cx="1558.5" cy="707.1" r="3.5"/><circle cx="1846.5" cy="635.3" r="3.5"/><circle cx="1571.5" cy="696.0" r="3.5"/><circle cx="1683.8" cy="635.9" r="3.5"/><circle cx="1704.8" cy="644.8" r="3.5"/><circle cx="1832.0" cy="560.6" r="3.5"/><circle cx="1802.9" cy="608.0" r="3.5"/><circle cx="1656.4" cy="638.7" r="3.5"/><circle cx="1672.3" cy="638.2" r="3.5"/><circle cx="1610.7" cy="698.8" r="3.5"/><circle cx="1789.0" cy="632.8" r="3.5"/><circle cx="1687.1" cy="679.5" r="3.5"/><circle cx="1828.2" cy="547.9" r="3.5"/><circle cx="1736.3" cy="709.9" r="3.5"/><circle cx="1578.9" cy="735.3" r="3.5"/><circle cx="1607.3" cy="687.2" r="3.5"/><circle cx="1718.7" cy="668.4" r="3.5"/><circle cx="1663.1" cy="705.2" r="3.5"/><circle cx="1903.7" cy="618.7" r="3.5"/><circle cx="1650.7" cy="631.0" r="3.5"/><circle cx="1723.1" cy="607.2" r="3.5"/><circle cx="1639.9" cy="703.9" r="3.5"/><circle cx="1919.7" cy="699.0" r="3.5"/><circle cx="1854.3" cy="610.0" r="3.5"/><circle cx="1610.9" cy="642.8" r="3.5"/><circle cx="1609.6" cy="723.7" r="3.5"/><circle cx="1697.9" cy="690.5" r="3.5"/><circle cx="1731.9" cy="654.8" r="3.5"/><circle cx="1581.9" cy="702.4" r="3.5"/><circle cx="1626.6" cy="672.9" r="3.5"/><circle cx="1654.9" cy="628.8" r="3.5"/><circle cx="1637.2" cy="691.0" r="3.5"/><circle cx="1590.5" cy="676.0" r="3.5"/><circle cx="1593.2" cy="685.4" r="3.5"/><circle cx="1649.7" cy="683.9" r="3.5"/><circle cx="1565.9" cy="704.7" r="3.5"/><circle cx="1642.4" cy="661.6" r="3.5"/><circle cx="1782.5" cy="659.1" r="3.5"/><circle cx="1681.9" cy="539.6" r="3.5"/><circle cx="1732.6" cy="601.4" r="3.5"/><circle cx="1754.8" cy="672.6" r="3.5"/><circle cx="1793.4" cy="578.6" r="3.5"/><circle cx="1770.3" cy="583.8" r="3.5"/><circle cx="1735.0" cy="656.2" r="3.5"/><circle cx="1720.0" cy="621.6" r="3.5"/><circle cx="1543.1" cy="692.9" r="3.5"/><circle cx="1779.5" cy="615.2" r="3.5"/><circle cx="1493.5" cy="713.6" r="3.5"/><circle cx="1589.6" cy="650.2" r="3.5"/><circle cx="1608.3" cy="663.0" r="3.5"/><circle cx="1696.8" cy="623.5" r="3.5"/><circle cx="1757.2" cy="652.3" r="3.5"/><circle cx="1861.9" cy="548.7" r="3.5"/><circle cx="1566.2" cy="673.2" r="3.5"/><circle cx="1646.9" cy="654.7" r="3.5"/><circle cx="1594.1" cy="660.3" r="3.5"/><circle cx="1564.4" cy="688.9" r="3.5"/><circle cx="1719.1" cy="668.5" r="3.5"/><circle cx="1545.0" cy="722.5" r="3.5"/><circle cx="1900.2" cy="561.6" r="3.5"/><circle cx="1673.4" cy="636.4" r="3.5"/><circle cx="1614.6" cy="686.9" r="3.5"/><circle cx="1739.9" cy="629.2" r="3.5"/><circle cx="1611.8" cy="643.9" r="3.5"/><circle cx="1650.3" cy="627.3" r="3.5"/><circle cx="1828.7" cy="592.5" r="3.5"/><circle cx="1689.0" cy="636.2" r="3.5"/><circle cx="1652.9" cy="622.8" r="3.5"/><circle cx="1554.9" cy="709.8" r="3.5"/><circle cx="1565.4" cy="692.6" r="3.5"/><circle cx="1556.5" cy="669.7" r="3.5"/><circle cx="1662.4" cy="676.4" r="3.5"/><circle cx="1658.9" cy="619.9" r="3.5"/><circle cx="1709.0" cy="579.8" r="3.5"/><circle cx="1699.6" cy="722.1" r="3.5"/><circle cx="1567.9" cy="720.4" r="3.5"/><circle cx="1543.3" cy="712.7" r="3.5"/><circle cx="1675.3" cy="684.1" r="3.5"/><circle cx="1684.4" cy="554.2" r="3.5"/><circle cx="1618.8" cy="645.8" r="3.5"/><circle cx="1681.2" cy="641.3" r="3.5"/><circle cx="1852.3" cy="589.8" r="3.5"/><circle cx="1817.9" cy="630.2" r="3.5"/><circle cx="1632.0" cy="701.9" r="3.5"/><circle cx="1780.6" cy="564.1" r="3.5"/><circle cx="1600.9" cy="674.2" r="3.5"/><circle cx="1643.8" cy="674.7" r="3.5"/><circle cx="1835.0" cy="569.2" r="3.5"/><circle cx="1505.9" cy="672.8" r="3.5"/><circle cx="1738.6" cy="617.0" r="3.5"/><circle cx="1574.0" cy="663.6" r="3.5"/><circle cx="1667.5" cy="651.4" r="3.5"/><circle cx="1783.6" cy="531.3" r="3.5"/><circle cx="1712.1" cy="627.1" r="3.5"/><circle cx="1627.2" cy="639.3" r="3.5"/><circle cx="1829.6" cy="610.1" r="3.5"/><circle cx="1677.8" cy="668.6" r="3.5"/><circle cx="1688.6" cy="624.4" r="3.5"/><circle cx="1641.7" cy="710.4" r="3.5"/><circle cx="1607.8" cy="700.8" r="3.5"/><circle cx="1572.3" cy="699.5" r="3.5"/><circle cx="1826.1" cy="602.9" r="3.5"/><circle cx="1565.4" cy="662.3" r="3.5"/><circle cx="1724.8" cy="559.1" r="3.5"/><circle cx="1678.3" cy="619.2" r="3.5"/><circle cx="1711.8" cy="649.8" r="3.5"/><circle cx="1851.0" cy="562.1" r="3.5"/><circle cx="1574.6" cy="712.4" r="3.5"/><circle cx="1700.8" cy="610.3" r="3.5"/><circle cx="1739.2" cy="616.7" r="3.5"/><circle cx="1792.5" cy="660.1" r="3.5"/><circle cx="1680.2" cy="667.7" r="3.5"/><circle cx="1561.2" cy="704.2" r="3.5"/><circle cx="1630.3" cy="702.5" r="3.5"/><circle cx="1583.2" cy="681.8" r="3.5"/><circle cx="1652.7" cy="609.8" r="3.5"/><circle cx="1713.3" cy="653.3" r="3.5"/><circle cx="1715.3" cy="565.1" r="3.5"/><circle cx="1516.6" cy="676.1" r="3.5"/><circle cx="1684.5" cy="650.1" r="3.5"/><circle cx="1640.5" cy="690.3" r="3.5"/><circle cx="1547.9" cy="685.0" r="3.5"/><circle cx="1677.5" cy="634.5" r="3.5"/><circle cx="1594.3" cy="657.6" r="3.5"/><circle cx="1684.7" cy="666.7" r="3.5"/><circle cx="1654.3" cy="635.2" r="3.5"/><circle cx="1899.6" cy="691.2" r="3.5"/><circle cx="1621.1" cy="663.9" r="3.5"/><circle cx="1675.8" cy="685.3" r="3.5"/><circle cx="1613.3" cy="727.8" r="3.5"/><circle cx="1974.3" cy="561.6" r="3.5"/><circle cx="1644.4" cy="611.7" r="3.5"/><circle cx="1592.2" cy="686.9" r="3.5"/><circle cx="1765.8" cy="575.6" r="3.5"/><circle cx="1747.9" cy="604.1" r="3.5"/><circle cx="1729.3" cy="633.4" r="3.5"/><circle cx="1617.1" cy="728.3" r="3.5"/><circle cx="1652.0" cy="689.5" r="3.5"/><circle cx="1558.3" cy="691.7" r="3.5"/><circle cx="1599.6" cy="654.5" r="3.5"/><circle cx="1650.0" cy="666.9" r="3.5"/><circle cx="1706.7" cy="610.3" r="3.5"/><circle cx="1807.3" cy="628.3" r="3.5"/><circle cx="1766.7" cy="613.6" r="3.5"/><circle cx="1877.6" cy="571.0" r="3.5"/><circle cx="1778.4" cy="735.3" r="3.5"/><circle cx="1941.8" cy="672.8" r="3.5"/><circle cx="1868.1" cy="615.9" r="3.5"/><circle cx="1595.8" cy="677.7" r="3.5"/><circle cx="1529.6" cy="694.3" r="3.5"/><circle cx="1478.9" cy="688.5" r="3.5"/><circle cx="1590.7" cy="651.1" r="3.5"/><circle cx="1734.8" cy="649.5" r="3.5"/><circle cx="1761.7" cy="648.5" r="3.5"/><circle cx="1582.7" cy="658.6" r="3.5"/><circle cx="1669.9" cy="636.1" r="3.5"/><circle cx="1628.9" cy="678.5" r="3.5"/><circle cx="1672.1" cy="656.2" r="3.5"/><circle cx="1622.2" cy="691.3" r="3.5"/><circle cx="1775.7" cy="632.3" r="3.5"/><circle cx="1617.4" cy="695.1" r="3.5"/><circle cx="1944.5" cy="635.5" r="3.5"/><circle cx="1637.6" cy="691.1" r="3.5"/><circle cx="1630.1" cy="685.4" r="3.5"/><circle cx="1674.0" cy="641.0" r="3.5"/><circle cx="1656.5" cy="652.2" r="3.5"/><circle cx="1685.2" cy="597.3" r="3.5"/><circle cx="1585.5" cy="690.5" r="3.5"/><circle cx="1603.7" cy="615.1" r="3.5"/><circle cx="1715.1" cy="580.4" r="3.5"/><circle cx="1687.7" cy="612.5" r="3.5"/><circle cx="1604.5" cy="675.2" r="3.5"/><circle cx="1647.4" cy="662.8" r="3.5"/><circle cx="1622.0" cy="685.2" r="3.5"/><circle cx="1569.8" cy="691.5" r="3.5"/><circle cx="1603.5" cy="677.0" r="3.5"/><circle cx="1603.1" cy="612.2" r="3.5"/><circle cx="1800.7" cy="622.0" r="3.5"/><circle cx="1714.1" cy="657.7" r="3.5"/><circle cx="1711.0" cy="633.0" r="3.5"/><circle cx="1646.4" cy="712.9" r="3.5"/><circle cx="1706.5" cy="727.5" r="3.5"/><circle cx="1692.0" cy="673.3" r="3.5"/><circle cx="1596.4" cy="675.2" r="3.5"/><circle cx="1744.2" cy="590.6" r="3.5"/><circle cx="1615.8" cy="640.1" r="3.5"/><circle cx="1660.7" cy="710.6" r="3.5"/><circle cx="1718.7" cy="646.3" r="3.5"/><circle cx="1703.1" cy="667.3" r="3.5"/><circle cx="1690.8" cy="646.4" r="3.5"/><circle cx="1642.9" cy="682.1" r="3.5"/><circle cx="1732.8" cy="662.8" r="3.5"/><circle cx="1597.4" cy="691.7" r="3.5"/><circle cx="1633.4" cy="723.5" r="3.5"/><circle cx="1828.2" cy="598.3" r="3.5"/><circle cx="1745.1" cy="616.9" r="3.5"/><circle cx="1677.1" cy="687.9" r="3.5"/><circle cx="1819.6" cy="628.1" r="3.5"/><circle cx="1733.5" cy="624.5" r="3.5"/><circle cx="1601.7" cy="678.0" r="3.5"/><circle cx="1582.8" cy="669.9" r="3.5"/><circle cx="1697.3" cy="630.6" r="3.5"/><circle cx="1584.8" cy="653.9" r="3.5"/><circle cx="1729.0" cy="628.1" r="3.5"/><circle cx="1758.4" cy="616.2" r="3.5"/><circle cx="1716.6" cy="621.7" r="3.5"/><circle cx="1913.9" cy="672.2" r="3.5"/><circle cx="1640.3" cy="657.5" r="3.5"/><circle cx="1799.8" cy="629.8" r="3.5"/><circle cx="1587.1" cy="661.5" r="3.5"/><circle cx="1914.2" cy="587.8" r="3.5"/><circle cx="1635.4" cy="649.9" r="3.5"/><circle cx="1587.6" cy="678.8" r="3.5"/><circle cx="1640.6" cy="672.1" r="3.5"/><circle cx="1798.1" cy="659.3" r="3.5"/><circle cx="1855.0" cy="617.4" r="3.5"/><circle cx="1663.5" cy="685.9" r="3.5"/><circle cx="1588.6" cy="661.1" r="3.5"/><circle cx="1721.1" cy="641.0" r="3.5"/><circle cx="1612.5" cy="660.5" r="3.5"/><circle cx="1597.1" cy="678.7" r="3.5"/><circle cx="1742.4" cy="633.9" r="3.5"/><circle cx="1572.0" cy="563.6" r="3.5"/><circle cx="1699.0" cy="609.3" r="3.5"/><circle cx="1642.6" cy="637.2" r="3.5"/><circle cx="1548.5" cy="695.6" r="3.5"/><circle cx="1627.9" cy="695.6" r="3.5"/><circle cx="1663.8" cy="664.4" r="3.5"/><circle cx="1643.4" cy="644.6" r="3.5"/><circle cx="1657.0" cy="608.4" r="3.5"/><circle cx="1687.5" cy="656.1" r="3.5"/><circle cx="1639.4" cy="706.0" r="3.5"/><circle cx="1606.6" cy="685.7" r="3.5"/><circle cx="1832.8" cy="569.0" r="3.5"/><circle cx="1659.2" cy="654.4" r="3.5"/><circle cx="1812.0" cy="541.5" r="3.5"/><circle cx="1543.6" cy="705.3" r="3.5"/><circle cx="1620.3" cy="683.2" r="3.5"/><circle cx="1677.0" cy="657.2" r="3.5"/><circle cx="1570.1" cy="681.6" r="3.5"/><circle cx="1550.4" cy="688.7" r="3.5"/><circle cx="1684.0" cy="649.5" r="3.5"/><circle cx="1954.7" cy="585.3" r="3.5"/><circle cx="1647.8" cy="681.4" r="3.5"/><circle cx="1627.1" cy="724.6" r="3.5"/><circle cx="1598.7" cy="638.7" r="3.5"/><circle cx="1731.6" cy="623.1" r="3.5"/><circle cx="1716.2" cy="630.0" r="3.5"/><circle cx="1789.9" cy="621.6" r="3.5"/><circle cx="1648.6" cy="689.7" r="3.5"/><circle cx="1620.8" cy="655.9" r="3.5"/><circle cx="1653.9" cy="638.1" r="3.5"/><circle cx="1864.9" cy="537.4" r="3.5"/><circle cx="1696.3" cy="682.2" r="3.5"/><circle cx="1597.2" cy="696.4" r="3.5"/><circle cx="1720.9" cy="606.5" r="3.5"/><circle cx="1671.4" cy="646.6" r="3.5"/><circle cx="1583.0" cy="635.2" r="3.5"/><circle cx="1704.5" cy="620.8" r="3.5"/><circle cx="1638.6" cy="635.6" r="3.5"/><circle cx="1666.2" cy="666.2" r="3.5"/><circle cx="1699.4" cy="606.2" r="3.5"/><circle cx="1641.1" cy="670.5" r="3.5"/><circle cx="1878.4" cy="603.5" r="3.5"/><circle cx="1664.6" cy="623.1" r="3.5"/><circle cx="1600.2" cy="692.2" r="3.5"/><circle cx="1620.9" cy="652.0" r="3.5"/><circle cx="1598.5" cy="671.8" r="3.5"/><circle cx="1606.8" cy="623.9" r="3.5"/><circle cx="1600.5" cy="663.3" r="3.5"/><circle cx="1560.4" cy="665.5" r="3.5"/><circle cx="1549.8" cy="715.6" r="3.5"/><circle cx="1692.3" cy="670.5" r="3.5"/><circle cx="1612.5" cy="733.4" r="3.5"/><circle cx="1629.6" cy="709.1" r="3.5"/><circle cx="1658.6" cy="628.7" r="3.5"/><circle cx="1636.8" cy="626.7" r="3.5"/><circle cx="1696.5" cy="669.3" r="3.5"/><circle cx="1622.5" cy="694.4" r="3.5"/><circle cx="1644.1" cy="599.5" r="3.5"/><circle cx="1701.1" cy="663.6" r="3.5"/><circle cx="1686.1" cy="721.3" r="3.5"/><circle cx="1640.9" cy="698.0" r="3.5"/><circle cx="1599.0" cy="721.0" r="3.5"/><circle cx="1613.5" cy="661.3" r="3.5"/><circle cx="1673.2" cy="640.3" r="3.5"/><circle cx="1606.4" cy="606.8" r="3.5"/><circle cx="1702.8" cy="658.8" r="3.5"/><circle cx="1667.0" cy="614.9" r="3.5"/><circle cx="1604.0" cy="677.0" r="3.5"/><circle cx="1633.4" cy="687.6" r="3.5"/><circle cx="1612.2" cy="668.7" r="3.5"/><circle cx="1815.8" cy="580.5" r="3.5"/><circle cx="1856.6" cy="548.7" r="3.5"/><circle cx="1750.0" cy="623.0" r="3.5"/><circle cx="1809.1" cy="652.8" r="3.5"/><circle cx="1669.2" cy="619.1" r="3.5"/><circle cx="1602.6" cy="647.7" r="3.5"/><circle cx="1765.6" cy="625.7" r="3.5"/><circle cx="1626.3" cy="671.3" r="3.5"/><circle cx="1591.2" cy="691.3" r="3.5"/><circle cx="1604.8" cy="648.6" r="3.5"/><circle cx="1595.5" cy="694.5" r="3.5"/><circle cx="1712.6" cy="661.8" r="3.5"/><circle cx="1623.0" cy="670.1" r="3.5"/><circle cx="1693.7" cy="656.4" r="3.5"/><circle cx="1634.2" cy="675.1" r="3.5"/><circle cx="1590.3" cy="726.6" r="3.5"/><circle cx="1732.2" cy="638.8" r="3.5"/><circle cx="1617.8" cy="643.5" r="3.5"/><circle cx="1560.3" cy="703.4" r="3.5"/><circle cx="1579.4" cy="692.7" r="3.5"/><circle cx="1625.0" cy="653.3" r="3.5"/><circle cx="1574.1" cy="690.1" r="3.5"/><circle cx="1737.1" cy="622.1" r="3.5"/><circle cx="1761.2" cy="615.8" r="3.5"/><circle cx="1611.7" cy="684.6" r="3.5"/><circle cx="1875.6" cy="598.8" r="3.5"/><circle cx="1578.9" cy="686.8" r="3.5"/><circle cx="1573.8" cy="686.4" r="3.5"/><circle cx="1595.4" cy="702.0" r="3.5"/><circle cx="1701.7" cy="640.3" r="3.5"/><circle cx="1579.1" cy="686.7" r="3.5"/><circle cx="1624.5" cy="687.3" r="3.5"/><circle cx="1672.9" cy="672.2" r="3.5"/><circle cx="1725.7" cy="728.2" r="3.5"/><circle cx="1634.1" cy="663.5" r="3.5"/><circle cx="1899.3" cy="625.0" r="3.5"/><circle cx="1737.6" cy="598.8" r="3.5"/><circle cx="1589.2" cy="673.0" r="3.5"/><circle cx="1562.3" cy="662.5" r="3.5"/><circle cx="1559.0" cy="717.4" r="3.5"/><circle cx="1755.9" cy="609.2" r="3.5"/><circle cx="1704.1" cy="590.4" r="3.5"/><circle cx="1652.1" cy="684.8" r="3.5"/><circle cx="1681.3" cy="698.2" r="3.5"/><circle cx="1666.5" cy="626.8" r="3.5"/><circle cx="1776.6" cy="627.8" r="3.5"/><circle cx="1562.9" cy="689.4" r="3.5"/><circle cx="1703.9" cy="646.1" r="3.5"/><circle cx="1599.8" cy="654.0" r="3.5"/><circle cx="1791.3" cy="631.8" r="3.5"/><circle cx="1602.9" cy="731.8" r="3.5"/><circle cx="1656.0" cy="642.1" r="3.5"/><circle cx="1641.4" cy="631.3" r="3.5"/><circle cx="1804.4" cy="578.6" r="3.5"/><circle cx="1664.9" cy="600.3" r="3.5"/><circle cx="1551.6" cy="678.5" r="3.5"/><circle cx="1752.2" cy="572.9" r="3.5"/><circle cx="1801.8" cy="604.3" r="3.5"/><circle cx="1608.8" cy="683.1" r="3.5"/><circle cx="1654.0" cy="688.1" r="3.5"/><circle cx="1722.2" cy="644.7" r="3.5"/><circle cx="1668.9" cy="645.0" r="3.5"/><circle cx="1661.3" cy="667.0" r="3.5"/><circle cx="1683.6" cy="620.6" r="3.5"/><circle cx="1705.9" cy="633.7" r="3.5"/><circle cx="1717.9" cy="582.2" r="3.5"/><circle cx="1588.4" cy="680.4" r="3.5"/><circle cx="1557.4" cy="682.5" r="3.5"/><circle cx="1619.5" cy="691.6" r="3.5"/><circle cx="1663.7" cy="658.3" r="3.5"/><circle cx="1619.1" cy="660.9" r="3.5"/><circle cx="1957.2" cy="653.1" r="3.5"/><circle cx="1643.3" cy="668.3" r="3.5"/><circle cx="1561.8" cy="659.2" r="3.5"/><circle cx="1743.0" cy="594.0" r="3.5"/><circle cx="1644.3" cy="651.4" r="3.5"/><circle cx="1581.4" cy="663.2" r="3.5"/><circle cx="1653.5" cy="615.3" r="3.5"/><circle cx="1617.2" cy="543.7" r="3.5"/><circle cx="1790.9" cy="668.4" r="3.5"/><circle cx="1636.3" cy="646.1" r="3.5"/><circle cx="1806.4" cy="616.5" r="3.5"/><circle cx="1752.4" cy="596.0" r="3.5"/><circle cx="1599.9" cy="680.3" r="3.5"/><circle cx="1762.9" cy="631.5" r="3.5"/><circle cx="1974.0" cy="513.4" r="3.5"/><circle cx="1556.8" cy="668.3" r="3.5"/><circle cx="1678.1" cy="652.6" r="3.5"/><circle cx="1633.7" cy="617.7" r="3.5"/><circle cx="1574.7" cy="721.0" r="3.5"/><circle cx="1568.3" cy="646.9" r="3.5"/><circle cx="1790.7" cy="604.8" r="3.5"/><circle cx="1809.0" cy="539.9" r="3.5"/><circle cx="1561.1" cy="663.0" r="3.5"/><circle cx="1572.4" cy="648.4" r="3.5"/><circle cx="1616.3" cy="673.3" r="3.5"/><circle cx="1611.2" cy="692.0" r="3.5"/><circle cx="1696.0" cy="644.7" r="3.5"/><circle cx="1637.9" cy="670.9" r="3.5"/><circle cx="1575.6" cy="719.1" r="3.5"/><circle cx="1587.8" cy="694.0" r="3.5"/><circle cx="1702.1" cy="633.9" r="3.5"/><circle cx="1661.0" cy="639.5" r="3.5"/><circle cx="1751.6" cy="618.3" r="3.5"/><circle cx="1748.5" cy="577.9" r="3.5"/><circle cx="1628.1" cy="613.0" r="3.5"/><circle cx="1695.1" cy="624.6" r="3.5"/><circle cx="1695.0" cy="687.7" r="3.5"/><circle cx="1618.9" cy="689.6" r="3.5"/><circle cx="1830.7" cy="636.7" r="3.5"/><circle cx="1604.5" cy="673.8" r="3.5"/><circle cx="1633.1" cy="612.3" r="3.5"/><circle cx="1726.6" cy="721.8" r="3.5"/><circle cx="1602.9" cy="633.6" r="3.5"/><circle cx="1621.4" cy="670.6" r="3.5"/><circle cx="1838.2" cy="542.3" r="3.5"/><circle cx="1728.3" cy="631.3" r="3.5"/><circle cx="1705.4" cy="650.0" r="3.5"/><circle cx="1665.8" cy="664.2" r="3.5"/><circle cx="1689.3" cy="609.2" r="3.5"/><circle cx="1764.9" cy="605.0" r="3.5"/><circle cx="1781.2" cy="660.0" r="3.5"/><circle cx="1780.1" cy="660.3" r="3.5"/><circle cx="1591.5" cy="671.5" r="3.5"/><circle cx="1613.6" cy="643.3" r="3.5"/><circle cx="1676.3" cy="603.5" r="3.5"/><circle cx="1530.9" cy="683.5" r="3.5"/><circle cx="1726.8" cy="660.5" r="3.5"/><circle cx="1813.4" cy="583.1" r="3.5"/><circle cx="1688.2" cy="624.6" r="3.5"/><circle cx="1689.8" cy="585.1" r="3.5"/><circle cx="1661.0" cy="666.1" r="3.5"/><circle cx="1686.2" cy="636.5" r="3.5"/><circle cx="1591.4" cy="690.9" r="3.5"/><circle cx="1473.3" cy="701.7" r="3.5"/><circle cx="1552.5" cy="648.1" r="3.5"/><circle cx="1794.3" cy="617.6" r="3.5"/><circle cx="1673.7" cy="630.0" r="3.5"/><circle cx="1707.4" cy="598.7" r="3.5"/><circle cx="1602.1" cy="654.7" r="3.5"/><circle cx="1679.1" cy="677.2" r="3.5"/><circle cx="1685.6" cy="637.6" r="3.5"/><circle cx="1605.6" cy="675.6" r="3.5"/><circle cx="1658.4" cy="661.6" r="3.5"/><circle cx="1610.3" cy="727.4" r="3.5"/><circle cx="1792.7" cy="603.8" r="3.5"/><circle cx="1670.0" cy="642.5" r="3.5"/><circle cx="1845.2" cy="596.3" r="3.5"/><circle cx="1562.5" cy="705.0" r="3.5"/><circle cx="1624.7" cy="628.8" r="3.5"/><circle cx="1628.0" cy="667.7" r="3.5"/><circle cx="1662.8" cy="661.2" r="3.5"/><circle cx="1583.4" cy="689.4" r="3.5"/><circle cx="1629.4" cy="673.0" r="3.5"/><circle cx="1668.1" cy="664.2" r="3.5"/><circle cx="1644.5" cy="596.5" r="3.5"/><circle cx="1767.8" cy="662.3" r="3.5"/><circle cx="1575.4" cy="687.0" r="3.5"/><circle cx="1726.1" cy="647.5" r="3.5"/><circle cx="1666.0" cy="655.0" r="3.5"/><circle cx="1637.4" cy="689.2" r="3.5"/><circle cx="1615.5" cy="629.8" r="3.5"/><circle cx="1783.6" cy="541.5" r="3.5"/><circle cx="1512.2" cy="735.6" r="3.5"/><circle cx="1654.9" cy="658.2" r="3.5"/><circle cx="1601.3" cy="655.0" r="3.5"/><circle cx="1846.4" cy="657.4" r="3.5"/><circle cx="1601.0" cy="664.9" r="3.5"/><circle cx="1657.7" cy="615.5" r="3.5"/><circle cx="1554.0" cy="702.6" r="3.5"/><circle cx="1617.9" cy="642.8" r="3.5"/><circle cx="1546.4" cy="705.6" r="3.5"/><circle cx="1698.8" cy="597.6" r="3.5"/><circle cx="1670.9" cy="678.1" r="3.5"/><circle cx="1654.5" cy="657.0" r="3.5"/><circle cx="1759.4" cy="556.1" r="3.5"/><circle cx="1669.4" cy="641.5" r="3.5"/><circle cx="1757.9" cy="639.0" r="3.5"/><circle cx="1746.1" cy="670.7" r="3.5"/><circle cx="1674.1" cy="634.0" r="3.5"/><circle cx="1653.4" cy="653.4" r="3.5"/><circle cx="1572.6" cy="686.5" r="3.5"/><circle cx="1799.0" cy="616.8" r="3.5"/><circle cx="1647.1" cy="694.0" r="3.5"/><circle cx="1811.3" cy="671.6" r="3.5"/><circle cx="1665.5" cy="655.5" r="3.5"/><circle cx="1720.6" cy="630.1" r="3.5"/><circle cx="1639.7" cy="651.2" r="3.5"/><circle cx="1585.1" cy="686.5" r="3.5"/><circle cx="1577.1" cy="671.4" r="3.5"/><circle cx="1814.7" cy="567.5" r="3.5"/><circle cx="1586.9" cy="660.6" r="3.5"/><circle cx="1578.1" cy="676.4" r="3.5"/><circle cx="1655.9" cy="623.5" r="3.5"/><circle cx="1617.4" cy="658.9" r="3.5"/><circle cx="1564.2" cy="697.5" r="3.5"/><circle cx="1619.6" cy="633.7" r="3.5"/><circle cx="1743.3" cy="572.3" r="3.5"/><circle cx="1497.6" cy="714.9" r="3.5"/><circle cx="1739.7" cy="656.2" r="3.5"/><circle cx="1559.7" cy="691.9" r="3.5"/><circle cx="1586.3" cy="693.5" r="3.5"/><circle cx="1643.5" cy="676.1" r="3.5"/><circle cx="1589.1" cy="609.1" r="3.5"/><circle cx="1667.8" cy="619.6" r="3.5"/><circle cx="1667.8" cy="647.1" r="3.5"/><circle cx="1824.9" cy="697.0" r="3.5"/><circle cx="1631.7" cy="674.9" r="3.5"/><circle cx="1794.6" cy="602.3" r="3.5"/><circle cx="1631.1" cy="707.7" r="3.5"/><circle cx="1694.4" cy="639.1" r="3.5"/><circle cx="1544.5" cy="675.7" r="3.5"/><circle cx="1618.4" cy="628.7" r="3.5"/><circle cx="1597.9" cy="676.8" r="3.5"/><circle cx="1649.1" cy="712.3" r="3.5"/><circle cx="1633.9" cy="692.4" r="3.5"/><circle cx="1655.5" cy="604.4" r="3.5"/><circle cx="1596.2" cy="701.3" r="3.5"/><circle cx="1698.3" cy="677.1" r="3.5"/><circle cx="1757.3" cy="643.6" r="3.5"/><circle cx="1692.6" cy="579.1" r="3.5"/><circle cx="1616.9" cy="709.3" r="3.5"/><circle cx="1623.1" cy="657.6" r="3.5"/><circle cx="1843.2" cy="610.4" r="3.5"/><circle cx="1760.9" cy="589.5" r="3.5"/><circle cx="1726.5" cy="631.4" r="3.5"/><circle cx="1838.1" cy="629.3" r="3.5"/><circle cx="1614.1" cy="624.1" r="3.5"/><circle cx="1593.5" cy="707.4" r="3.5"/><circle cx="1611.4" cy="666.7" r="3.5"/><circle cx="1715.9" cy="622.9" r="3.5"/><circle cx="1662.2" cy="676.7" r="3.5"/><circle cx="1635.5" cy="645.6" r="3.5"/><circle cx="1764.3" cy="589.7" r="3.5"/><circle cx="1628.9" cy="672.8" r="3.5"/><circle cx="1631.7" cy="642.1" r="3.5"/><circle cx="1679.7" cy="661.4" r="3.5"/><circle cx="1614.4" cy="724.5" r="3.5"/><circle cx="1801.2" cy="604.7" r="3.5"/><circle cx="1622.8" cy="712.3" r="3.5"/><circle cx="1746.4" cy="647.4" r="3.5"/><circle cx="1866.8" cy="547.0" r="3.5"/><circle cx="1607.2" cy="680.6" r="3.5"/><circle cx="1588.9" cy="683.5" r="3.5"/><circle cx="1553.1" cy="700.7" r="3.5"/><circle cx="1581.5" cy="712.0" r="3.5"/><circle cx="1625.5" cy="622.7" r="3.5"/><circle cx="1685.7" cy="622.2" r="3.5"/><circle cx="1716.8" cy="628.1" r="3.5"/><circle cx="1541.1" cy="701.2" r="3.5"/><circle cx="1688.0" cy="584.4" r="3.5"/><circle cx="1809.0" cy="728.2" r="3.5"/><circle cx="1659.7" cy="690.8" r="3.5"/><circle cx="1593.8" cy="673.6" r="3.5"/><circle cx="1495.7" cy="706.7" r="3.5"/><circle cx="1585.8" cy="726.2" r="3.5"/><circle cx="1722.9" cy="635.4" r="3.5"/><circle cx="1974.8" cy="520.3" r="3.5"/><circle cx="1731.1" cy="623.6" r="3.5"/><circle cx="1670.7" cy="600.1" r="3.5"/><circle cx="1707.6" cy="670.8" r="3.5"/><circle cx="1714.7" cy="671.1" r="3.5"/><circle cx="1641.4" cy="686.3" r="3.5"/><circle cx="1778.9" cy="652.0" r="3.5"/><circle cx="1577.5" cy="695.7" r="3.5"/><circle cx="1810.7" cy="625.9" r="3.5"/><circle cx="1834.2" cy="607.8" r="3.5"/><circle cx="1609.4" cy="697.1" r="3.5"/><circle cx="1827.4" cy="697.9" r="3.5"/><circle cx="1778.4" cy="567.5" r="3.5"/><circle cx="1744.6" cy="606.6" r="3.5"/><circle cx="1576.6" cy="652.7" r="3.5"/><circle cx="1926.6" cy="657.2" r="3.5"/><circle cx="1777.6" cy="623.6" r="3.5"/><circle cx="1547.4" cy="694.3" r="3.5"/><circle cx="1538.4" cy="670.0" r="3.5"/><circle cx="1727.6" cy="635.3" r="3.5"/><circle cx="1705.1" cy="656.4" r="3.5"/><circle cx="1703.4" cy="634.9" r="3.5"/><circle cx="1609.0" cy="643.2" r="3.5"/><circle cx="1693.5" cy="612.6" r="3.5"/><circle cx="1763.8" cy="721.0" r="3.5"/><circle cx="1625.4" cy="686.3" r="3.5"/><circle cx="1614.7" cy="640.8" r="3.5"/><circle cx="1616.5" cy="677.9" r="3.5"/><circle cx="1838.6" cy="643.7" r="3.5"/><circle cx="1618.6" cy="689.8" r="3.5"/><circle cx="1710.3" cy="665.5" r="3.5"/><circle cx="1624.1" cy="686.3" r="3.5"/><circle cx="1628.5" cy="600.4" r="3.5"/><circle cx="1750.3" cy="571.1" r="3.5"/><circle cx="1599.4" cy="623.3" r="3.5"/><circle cx="1973.4" cy="479.0" r="3.5"/><circle cx="1650.9" cy="662.9" r="3.5"/><circle cx="1568.8" cy="681.8" r="3.5"/><circle cx="1632.9" cy="657.5" r="3.5"/><circle cx="1785.1" cy="657.7" r="3.5"/><circle cx="1616.1" cy="663.9" r="3.5"/><circle cx="1783.2" cy="614.3" r="3.5"/><circle cx="1652.6" cy="652.5" r="3.5"/><circle cx="1625.9" cy="637.6" r="3.5"/><circle cx="1625.2" cy="724.1" r="3.5"/><circle cx="1678.5" cy="676.7" r="3.5"/><circle cx="1700.0" cy="655.9" r="3.5"/><circle cx="1725.4" cy="648.9" r="3.5"/><circle cx="1650.9" cy="690.4" r="3.5"/><circle cx="1632.2" cy="681.6" r="3.5"/><circle cx="1572.9" cy="650.4" r="3.5"/><circle cx="1645.0" cy="629.9" r="3.5"/><circle cx="1759.7" cy="630.7" r="3.5"/><circle cx="1613.0" cy="699.0" r="3.5"/><circle cx="1604.9" cy="677.4" r="3.5"/><circle cx="1652.3" cy="668.7" r="3.5"/><circle cx="1686.5" cy="609.8" r="3.5"/><circle cx="1594.6" cy="676.7" r="3.5"/><circle cx="1651.1" cy="702.9" r="3.5"/><circle cx="1808.3" cy="604.8" r="3.5"/><circle cx="1648.3" cy="592.5" r="3.5"/><circle cx="1708.6" cy="600.1" r="3.5"/><circle cx="1609.9" cy="653.1" r="3.5"/><circle cx="1682.0" cy="679.3" r="3.5"/><circle cx="1598.9" cy="660.4" r="3.5"/><circle cx="1549.5" cy="670.7" r="3.5"/><circle cx="1621.8" cy="693.5" r="3.5"/><circle cx="1669.5" cy="655.3" r="3.5"/><circle cx="1593.2" cy="724.0" r="3.5"/><circle cx="1672.8" cy="695.2" r="3.5"/><circle cx="1743.4" cy="571.1" r="3.5"/><circle cx="1750.7" cy="671.0" r="3.5"/><circle cx="1613.8" cy="709.6" r="3.5"/><circle cx="1698.5" cy="605.0" r="3.5"/><circle cx="1746.9" cy="614.2" r="3.5"/><circle cx="1682.3" cy="635.7" r="3.5"/><circle cx="1584.9" cy="654.9" r="3.5"/><circle cx="1514.1" cy="708.3" r="3.5"/><circle cx="1725.7" cy="629.0" r="3.5"/><circle cx="1692.9" cy="683.7" r="3.5"/><circle cx="1602.3" cy="668.8" r="3.5"/><circle cx="1705.8" cy="638.4" r="3.5"/><circle cx="1635.1" cy="674.8" r="3.5"/><circle cx="1773.1" cy="620.1" r="3.5"/><circle cx="1660.3" cy="627.0" r="3.5"/><circle cx="1847.3" cy="545.9" r="3.5"/><circle cx="1730.0" cy="653.1" r="3.5"/><circle cx="1566.7" cy="700.3" r="3.5"/><circle cx="1717.6" cy="662.8" r="3.5"/><circle cx="1595.9" cy="674.3" r="3.5"/><circle cx="1748.2" cy="624.2" r="3.5"/><circle cx="1699.6" cy="657.1" r="3.5"/><circle cx="1689.9" cy="677.0" r="3.5"/><circle cx="1729.5" cy="622.2" r="3.5"/><circle cx="1602.0" cy="644.9" r="3.5"/><circle cx="1580.5" cy="676.9" r="3.5"/><circle cx="1913.9" cy="593.3" r="3.5"/><circle cx="1708.9" cy="580.5" r="3.5"/><circle cx="1836.5" cy="599.0" r="3.5"/><circle cx="1647.4" cy="623.8" r="3.5"/><circle cx="1619.9" cy="652.6" r="3.5"/><circle cx="1740.4" cy="635.1" r="3.5"/><circle cx="1627.0" cy="665.7" r="3.5"/><circle cx="1585.9" cy="695.1" r="3.5"/><circle cx="1609.2" cy="630.7" r="3.5"/><circle cx="1760.2" cy="570.8" r="3.5"/><circle cx="1691.3" cy="624.1" r="3.5"/><circle cx="1647.9" cy="663.5" r="3.5"/><circle cx="1670.5" cy="601.5" r="3.5"/><circle cx="1709.7" cy="644.0" r="3.5"/><circle cx="1589.2" cy="672.9" r="3.5"/><circle cx="1730.6" cy="615.2" r="3.5"/><circle cx="1692.7" cy="660.5" r="3.5"/><circle cx="1786.5" cy="591.2" r="3.5"/>
</g>
<line x1="1473.91" y1="708.03" x2="1974.84" y2="566.01" stroke="#000" stroke-width="4.8"/>
<path d="M1474.0 342.3L1475.3 342.3L1476.5 342.3L1477.8 342.3L1479.0 342.3L1480.3 342.2L1481.6 342.2L1482.8 342.2L1484.1 342.2L1485.3 342.2L1486.6 342.1L1487.9 342.1L1489.1 342.1L1490.4 342.0L1491.6 342.0L1492.9 341.9L1494.2 341.8L1495.4 341.8L1496.7 341.7L1497.9 341.5L1499.2 341.4L1500.4 341.2L1501.7 340.9L1503.0 340.6L1504.2 340.3L1505.5 339.9L1506.7 339.4L1508.0 338.8L1509.3 338.0L1510.5 337.2L1511.8 336.2L1513.0 335.1L1514.3 333.8L1515.6 332.5L1516.8 331.0L1518.1 329.4L1519.3 327.7L1520.6 326.0L1521.9 324.2L1523.1 322.3L1524.4 320.4L1525.6 318.5L1526.9 316.6L1528.2 314.8L1529.4 312.9L1530.7 311.1L1531.9 309.4L1533.2 307.7L1534.5 306.1L1535.7 304.5L1537.0 303.0L1538.2 301.6L1539.5 300.2L1540.7 298.9L1542.0 297.6L1543.3 296.4L1544.5 295.1L1545.8 294.0L1547.0 292.8L1548.3 291.6L1549.6 290.5L1550.8 289.3L1552.1 288.1L1553.3 286.9L1554.6 285.6L1555.9 284.2L1557.1 282.7L1558.4 281.0L1559.6 279.3L1560.9 277.3L1562.2 275.2L1563.4 273.0L1564.7 270.6L1565.9 268.2L1567.2 265.6L1568.5 262.9L1569.7 260.1L1571.0 257.3L1572.2 254.5L1573.5 251.6L1574.8 248.7L1576.0 245.8L1577.3 242.8L1578.5 239.9L1579.8 236.8L1581.0 233.7L1582.3 230.5L1583.6 227.3L1584.8 223.9L1586.1 220.5L1587.3 217.0L1588.6 213.4L1589.9 209.7L1591.1 206.0L1592.4 202.1L1593.6 198.2L1594.9 194.1L1596.2 190.0L1597.4 185.8L1598.7 181.5L1599.9 177.2L1601.2 172.7L1602.5 168.2L1603.7 163.7L1605.0 159.1L1606.2 154.4L1607.5 149.8L1608.8 145.1L1610.0 140.4L1611.3 135.7L1612.5 131.1L1613.8 126.4L1615.1 121.8L1616.3 117.3L1617.6 112.8L1618.8 108.4L1620.1 104.0L1621.3 99.8L1622.6 95.8L1623.9 91.9L1625.1 88.3L1626.4 84.9L1627.6 81.7L1628.9 78.9L1630.2 76.5L1631.4 74.4L1632.7 72.7L1633.9 71.4L1635.2 70.6L1636.5 70.1L1637.7 70.1L1639.0 70.6L1640.2 71.5L1641.5 72.8L1642.8 74.7L1644.0 77.0L1645.3 79.8L1646.5 83.1L1647.8 86.9L1649.1 91.1L1650.3 95.6L1651.6 100.5L1652.8 105.7L1654.1 111.0L1655.4 116.5L1656.6 122.1L1657.9 127.6L1659.1 133.2L1660.4 138.7L1661.7 144.2L1662.9 149.5L1664.2 154.7L1665.4 159.9L1666.7 164.9L1667.9 169.8L1669.2 174.7L1670.5 179.5L1671.7 184.4L1673.0 189.4L1674.2 194.4L1675.5 199.6L1676.8 204.8L1678.0 210.2L1679.3 215.6L1680.5 221.0L1681.8 226.3L1683.1 231.4L1684.3 236.4L1685.6 241.1L1686.8 245.7L1688.1 249.9L1689.4 254.0L1690.6 257.8L1691.9 261.5L1693.1 264.9L1694.4 268.1L1695.7 271.1L1696.9 273.9L1698.2 276.5L1699.4 278.9L1700.7 281.1L1702.0 283.2L1703.2 285.1L1704.5 286.8L1705.7 288.5L1707.0 290.0L1708.2 291.4L1709.5 292.7L1710.8 293.9L1712.0 295.1L1713.3 296.2L1714.5 297.3L1715.8 298.3L1717.1 299.3L1718.3 300.3L1719.6 301.3L1720.8 302.3L1722.1 303.3L1723.4 304.4L1724.6 305.4L1725.9 306.4L1727.1 307.5L1728.4 308.6L1729.7 309.7L1730.9 310.9L1732.2 312.1L1733.4 313.3L1734.7 314.6L1736.0 315.9L1737.2 317.3L1738.5 318.7L1739.7 320.1L1741.0 321.5L1742.3 322.9L1743.5 324.4L1744.8 325.8L1746.0 327.2L1747.3 328.6L1748.5 329.9L1749.8 331.2L1751.1 332.4L1752.3 333.5L1753.6 334.5L1754.8 335.5L1756.1 336.3L1757.4 337.1L1758.6 337.8L1759.9 338.5L1761.1 339.0L1762.4 339.5L1763.7 339.9L1764.9 340.3L1766.2 340.6L1767.4 340.8L1768.7 340.9L1770.0 341.0L1771.2 341.1L1772.5 341.1L1773.7 341.1L1775.0 341.0L1776.3 340.9L1777.5 340.8L1778.8 340.7L1780.0 340.5L1781.3 340.4L1782.6 340.2L1783.8 340.0L1785.1 339.9L1786.3 339.7L1787.6 339.5L1788.8 339.3L1790.1 339.1L1791.4 338.9L1792.6 338.8L1793.9 338.6L1795.1 338.5L1796.4 338.4L1797.7 338.4L1798.9 338.4L1800.2 338.5L1801.4 338.6L1802.7 338.7L1804.0 338.9L1805.2 339.1L1806.5 339.4L1807.7 339.6L1809.0 339.8L1810.3 340.0L1811.5 340.2L1812.8 340.4L1814.0 340.5L1815.3 340.5L1816.6 340.6L1817.8 340.6L1819.1 340.6L1820.3 340.6L1821.6 340.5L1822.9 340.5L1824.1 340.4L1825.4 340.4L1826.6 340.3L1827.9 340.2L1829.2 340.2L1830.4 340.1L1831.7 340.1L1832.9 340.0L1834.2 340.0L1835.4 340.0L1836.7 340.0L1838.0 340.0L1839.2 340.1L1840.5 340.2L1841.7 340.2L1843.0 340.3L1844.3 340.5L1845.5 340.6L1846.8 340.7L1848.0 340.9L1849.3 341.0L1850.6 341.2L1851.8 341.3L1853.1 341.4L1854.3 341.5L1855.6 341.6L1856.9 341.7L1858.1 341.8L1859.4 341.9L1860.6 341.9L1861.9 341.9L1863.2 342.0L1864.4 342.0L1865.7 342.0L1866.9 342.0L1868.2 342.0L1869.5 342.0L1870.7 342.0L1872.0 342.1L1873.2 342.1L1874.5 342.1L1875.7 342.1L1877.0 342.1L1878.3 342.1L1879.5 342.1L1880.8 342.1L1882.0 342.1L1883.3 342.1L1884.6 342.1L1885.8 342.1L1887.1 342.1L1888.3 342.1L1889.6 342.1L1890.9 342.1L1892.1 342.2L1893.4 342.2L1894.6 342.2L1895.9 342.2L1897.2 342.2L1898.4 342.2L1899.7 342.2L1900.9 342.2L1902.2 342.2L1903.5 342.2L1904.7 342.2L1906.0 342.2L1907.2 342.2L1908.5 342.2L1909.8 342.2L1911.0 342.2L1912.3 342.2L1913.5 342.2L1914.8 342.2L1916.0 342.2L1917.3 342.2L1918.6 342.2L1919.8 342.2L1921.1 342.2L1922.3 342.2L1923.6 342.3L1924.9 342.3L1926.1 342.3L1927.4 342.3L1928.6 342.3L1929.9 342.3L1931.2 342.3L1932.4 342.3L1933.7 342.3L1934.9 342.3L1936.2 342.3L1937.5 342.3L1938.7 342.3L1940.0 342.3L1941.2 342.3L1942.5 342.3L1943.8 342.3L1945.0 342.3L1946.3 342.3L1947.5 342.3L1948.8 342.3L1950.1 342.3L1951.3 342.3L1952.6 342.3L1953.8 342.3L1955.1 342.3L1956.3 342.3L1957.6 342.3L1958.9 342.3L1960.1 342.3L1961.4 342.3L1962.6 342.3L1963.9 342.3L1965.2 342.3L1966.4 342.3L1967.7 342.3L1968.9 342.3L1970.2 342.3L1971.5 342.3L1972.7 342.3L1974.0 342.3L1975.2 342.3L1976.5 342.3L1976.5 342.3L1474.0 342.3Z" fill="#ff0000" fill-opacity="0.5" stroke="#ff0000" stroke-width="2.8" stroke-linejoin="round" stroke-linecap="round"/>
<path d="M1474.0 342.3L1475.3 342.3L1476.5 342.3L1477.8 342.3L1479.0 342.2L1480.3 342.2L1481.6 342.2L1482.8 342.2L1484.1 342.1L1485.3 342.1L1486.6 342.1L1487.9 342.0L1489.1 342.0L1490.4 341.9L1491.6 341.8L1492.9 341.8L1494.2 341.7L1495.4 341.6L1496.7 341.4L1497.9 341.3L1499.2 341.1L1500.4 341.0L1501.7 340.7L1503.0 340.5L1504.2 340.3L1505.5 340.0L1506.7 339.7L1508.0 339.4L1509.3 339.1L1510.5 338.7L1511.8 338.3L1513.0 337.9L1514.3 337.4L1515.6 336.9L1516.8 336.4L1518.1 335.9L1519.3 335.3L1520.6 334.7L1521.9 334.1L1523.1 333.4L1524.4 332.8L1525.6 332.1L1526.9 331.5L1528.2 330.8L1529.4 330.1L1530.7 329.4L1531.9 328.7L1533.2 328.0L1534.5 327.3L1535.7 326.6L1537.0 325.8L1538.2 325.1L1539.5 324.3L1540.7 323.5L1542.0 322.8L1543.3 322.0L1544.5 321.2L1545.8 320.4L1547.0 319.6L1548.3 318.7L1549.6 317.9L1550.8 317.0L1552.1 316.2L1553.3 315.3L1554.6 314.5L1555.9 313.6L1557.1 312.7L1558.4 311.8L1559.6 310.9L1560.9 310.0L1562.2 309.1L1563.4 308.2L1564.7 307.4L1565.9 306.5L1567.2 305.7L1568.5 304.9L1569.7 304.1L1571.0 303.3L1572.2 302.5L1573.5 301.8L1574.8 301.0L1576.0 300.3L1577.3 299.6L1578.5 298.9L1579.8 298.2L1581.0 297.5L1582.3 296.9L1583.6 296.2L1584.8 295.5L1586.1 294.8L1587.3 294.2L1588.6 293.5L1589.9 292.8L1591.1 292.1L1592.4 291.4L1593.6 290.8L1594.9 290.1L1596.2 289.4L1597.4 288.7L1598.7 288.0L1599.9 287.2L1601.2 286.5L1602.5 285.7L1603.7 284.9L1605.0 284.1L1606.2 283.2L1607.5 282.3L1608.8 281.4L1610.0 280.4L1611.3 279.4L1612.5 278.3L1613.8 277.2L1615.1 276.1L1616.3 274.9L1617.6 273.6L1618.8 272.3L1620.1 271.0L1621.3 269.6L1622.6 268.2L1623.9 266.8L1625.1 265.3L1626.4 263.8L1627.6 262.3L1628.9 260.8L1630.2 259.2L1631.4 257.6L1632.7 256.0L1633.9 254.3L1635.2 252.7L1636.5 251.0L1637.7 249.3L1639.0 247.6L1640.2 246.0L1641.5 244.3L1642.8 242.6L1644.0 241.0L1645.3 239.4L1646.5 237.9L1647.8 236.4L1649.1 235.0L1650.3 233.6L1651.6 232.3L1652.8 231.0L1654.1 229.7L1655.4 228.5L1656.6 227.3L1657.9 226.1L1659.1 224.9L1660.4 223.6L1661.7 222.3L1662.9 221.0L1664.2 219.6L1665.4 218.1L1666.7 216.5L1667.9 214.9L1669.2 213.1L1670.5 211.3L1671.7 209.5L1673.0 207.6L1674.2 205.7L1675.5 203.9L1676.8 202.0L1678.0 200.2L1679.3 198.5L1680.5 196.8L1681.8 195.2L1683.1 193.6L1684.3 192.2L1685.6 190.8L1686.8 189.6L1688.1 188.5L1689.4 187.4L1690.6 186.5L1691.9 185.6L1693.1 184.8L1694.4 184.1L1695.7 183.5L1696.9 182.9L1698.2 182.4L1699.4 182.0L1700.7 181.7L1702.0 181.4L1703.2 181.2L1704.5 181.0L1705.7 181.0L1707.0 181.0L1708.2 181.1L1709.5 181.2L1710.8 181.5L1712.0 181.7L1713.3 182.1L1714.5 182.5L1715.8 183.0L1717.1 183.5L1718.3 184.0L1719.6 184.6L1720.8 185.3L1722.1 185.9L1723.4 186.6L1724.6 187.4L1725.9 188.2L1727.1 189.0L1728.4 189.9L1729.7 190.8L1730.9 191.8L1732.2 192.8L1733.4 193.9L1734.7 195.1L1736.0 196.3L1737.2 197.5L1738.5 198.8L1739.7 200.2L1741.0 201.6L1742.3 203.0L1743.5 204.5L1744.8 206.0L1746.0 207.6L1747.3 209.4L1748.5 211.3L1749.8 213.3L1751.1 215.4L1752.3 217.7L1753.6 220.2L1754.8 222.7L1756.1 225.4L1757.4 228.2L1758.6 231.0L1759.9 233.8L1761.1 236.6L1762.4 239.5L1763.7 242.3L1764.9 245.0L1766.2 247.7L1767.4 250.3L1768.7 252.9L1770.0 255.3L1771.2 257.7L1772.5 259.9L1773.7 262.1L1775.0 264.1L1776.3 266.1L1777.5 268.0L1778.8 269.9L1780.0 271.6L1781.3 273.3L1782.6 275.0L1783.8 276.6L1785.1 278.1L1786.3 279.6L1787.6 281.0L1788.8 282.4L1790.1 283.7L1791.4 285.0L1792.6 286.2L1793.9 287.4L1795.1 288.6L1796.4 289.7L1797.7 290.8L1798.9 291.8L1800.2 292.8L1801.4 293.8L1802.7 294.8L1804.0 295.7L1805.2 296.6L1806.5 297.4L1807.7 298.2L1809.0 299.0L1810.3 299.8L1811.5 300.5L1812.8 301.2L1814.0 301.8L1815.3 302.5L1816.6 303.1L1817.8 303.8L1819.1 304.4L1820.3 305.0L1821.6 305.7L1822.9 306.3L1824.1 307.0L1825.4 307.6L1826.6 308.3L1827.9 309.0L1829.2 309.8L1830.4 310.5L1831.7 311.3L1832.9 312.2L1834.2 313.0L1835.4 313.9L1836.7 314.8L1838.0 315.7L1839.2 316.7L1840.5 317.7L1841.7 318.6L1843.0 319.7L1844.3 320.7L1845.5 321.7L1846.8 322.7L1848.0 323.7L1849.3 324.7L1850.6 325.8L1851.8 326.7L1853.1 327.7L1854.3 328.6L1855.6 329.5L1856.9 330.3L1858.1 331.1L1859.4 331.8L1860.6 332.5L1861.9 333.1L1863.2 333.6L1864.4 334.1L1865.7 334.6L1866.9 335.0L1868.2 335.4L1869.5 335.7L1870.7 336.1L1872.0 336.4L1873.2 336.6L1874.5 336.9L1875.7 337.2L1877.0 337.4L1878.3 337.6L1879.5 337.9L1880.8 338.1L1882.0 338.3L1883.3 338.5L1884.6 338.6L1885.8 338.8L1887.1 338.9L1888.3 339.0L1889.6 339.2L1890.9 339.3L1892.1 339.4L1893.4 339.5L1894.6 339.5L1895.9 339.6L1897.2 339.7L1898.4 339.7L1899.7 339.8L1900.9 339.8L1902.2 339.8L1903.5 339.9L1904.7 339.9L1906.0 339.9L1907.2 339.9L1908.5 339.9L1909.8 339.9L1911.0 340.0L1912.3 340.0L1913.5 340.0L1914.8 340.0L1916.0 340.0L1917.3 340.0L1918.6 340.0L1919.8 340.0L1921.1 340.0L1922.3 340.0L1923.6 340.1L1924.9 340.1L1926.1 340.1L1927.4 340.1L1928.6 340.1L1929.9 340.2L1931.2 340.2L1932.4 340.2L1933.7 340.3L1934.9 340.3L1936.2 340.3L1937.5 340.4L1938.7 340.4L1940.0 340.5L1941.2 340.5L1942.5 340.6L1943.8 340.6L1945.0 340.6L1946.3 340.7L1947.5 340.7L1948.8 340.8L1950.1 340.8L1951.3 340.9L1952.6 340.9L1953.8 341.0L1955.1 341.0L1956.3 341.1L1957.6 341.1L1958.9 341.2L1960.1 341.2L1961.4 341.3L1962.6 341.3L1963.9 341.4L1965.2 341.4L1966.4 341.5L1967.7 341.6L1968.9 341.6L1970.2 341.7L1971.5 341.7L1972.7 341.8L1974.0 341.8L1975.2 341.8L1976.5 341.9L1976.5 342.3L1474.0 342.3Z" fill="#0000ff" fill-opacity="0.5" stroke="#0000ff" stroke-width="2.8" stroke-linejoin="round" stroke-linecap="round"/>
<line x1="1633.63" y1="56.60" x2="1633.63" y2="354.62" stroke="#ff0000" stroke-width="2.5" stroke-dasharray="9 9.03"/>
<line x1="1700.29" y1="56.60" x2="1700.29" y2="354.62" stroke="#0000ff" stroke-width="2.5" stroke-dasharray="9 9.03"/>
<path d="M1524.2 345.5V354.9M1527.6 345.5V354.9M1537.7 345.5V354.9M1539.3 345.5V354.9M1547.7 345.5V354.9M1554.4 345.5V354.9M1805.7 345.5V354.9" stroke="#ff8080" stroke-width="2.0" fill="none"/>
<path d="M1529.3 345.5V354.9M1534.3 345.5V354.9" stroke="#bf4080" stroke-width="2.0" fill="none"/>
<path d="M1532.6 345.5V354.9M1544.3 345.5V354.9M1559.4 345.5V354.9M1566.1 345.5V354.9" stroke="#ff4040" stroke-width="2.0" fill="none"/>
<path d="M1536.0 345.5V354.9M1541.0 345.5V354.9M1546.0 345.5V354.9M1842.5 345.5V354.9" stroke="#8040bf" stroke-width="2.0" fill="none"/>
<path d="M1542.7 345.5V354.9M1551.0 345.5V354.9M1552.7 345.5V354.9M1556.1 345.5V354.9M1557.8 345.5V354.9M1562.8 345.5V354.9M1564.5 345.5V354.9M1569.5 345.5V354.9M1577.8 345.5V354.9M1581.2 345.5V354.9" stroke="#df2040" stroke-width="2.0" fill="none"/>
<path d="M1549.4 345.5V354.9M1793.9 345.5V354.9" stroke="#4020df" stroke-width="2.0" fill="none"/>
<path d="M1561.1 345.5V354.9" stroke="#70109f" stroke-width="2.0" fill="none"/>
<path d="M1567.8 345.5V354.9" stroke="#4010cf" stroke-width="2.0" fill="none"/>
<path d="M1571.2 345.5V354.9" stroke="#df1030" stroke-width="2.0" fill="none"/>
<path d="M1572.8 345.5V354.9M1574.5 345.5V354.9" stroke="#ef1020" stroke-width="2.0" fill="none"/>
<path d="M1576.2 345.5V354.9M1587.9 345.5V354.9" stroke="#e70820" stroke-width="2.0" fill="none"/>
<path d="M1579.5 345.5V354.9M1584.5 345.5V354.9M1586.2 345.5V354.9M1589.6 345.5V354.9M1604.7 345.5V354.9" stroke="#f70810" stroke-width="2.0" fill="none"/>
<path d="M1582.9 345.5V354.9" stroke="#b7044c" stroke-width="2.0" fill="none"/>
<path d="M1591.2 345.5V354.9M1592.9 345.5V354.9M1596.3 345.5V354.9M1601.3 345.5V354.9" stroke="#f30410" stroke-width="2.0" fill="none"/>
<path d="M1594.6 345.5V354.9" stroke="#df0424" stroke-width="2.0" fill="none"/>
<path d="M1598.0 345.5V354.9M1599.6 345.5V354.9" stroke="#fb0408" stroke-width="2.0" fill="none"/>
<path d="M1603.0 345.5V354.9M1606.3 345.5V354.9M1608.0 345.5V354.9M1609.7 345.5V354.9M1616.4 345.5V354.9" stroke="#fc0104" stroke-width="2.0" fill="none"/>
<path d="M1611.3 345.5V354.9M1614.7 345.5V354.9M1618.0 345.5V354.9M1628.1 345.5V354.9" stroke="#fe0002" stroke-width="2.0" fill="none"/>
<path d="M1613.0 345.5V354.9" stroke="#cf0232" stroke-width="2.0" fill="none"/>
<path d="M1619.7 345.5V354.9" stroke="#fe0102" stroke-width="2.0" fill="none"/>
<path d="M1621.4 345.5V354.9" stroke="#9d0062" stroke-width="2.0" fill="none"/>
<path d="M1623.1 345.5V354.9" stroke="#f90006" stroke-width="2.0" fill="none"/>
<path d="M1624.8 345.5V354.9M1626.4 345.5V354.9M1629.8 345.5V354.9M1633.1 345.5V354.9M1639.8 345.5V354.9M1641.5 345.5V354.9M1643.2 345.5V354.9M1644.8 345.5V354.9M1648.2 345.5V354.9M1653.2 345.5V354.9" stroke="#fe0001" stroke-width="2.0" fill="none"/>
<path d="M1631.5 345.5V354.9" stroke="#eb0014" stroke-width="2.0" fill="none"/>
<path d="M1634.8 345.5V354.9M1638.2 345.5V354.9" stroke="#ff0000" stroke-width="2.0" fill="none"/>
<path d="M1636.5 345.5V354.9M1656.6 345.5V354.9" stroke="#fd0002" stroke-width="2.0" fill="none"/>
<path d="M1646.5 345.5V354.9" stroke="#ef0010" stroke-width="2.0" fill="none"/>
<path d="M1649.9 345.5V354.9M1659.9 345.5V354.9M1661.6 345.5V354.9" stroke="#fc0004" stroke-width="2.0" fill="none"/>
<path d="M1651.5 345.5V354.9" stroke="#fa0006" stroke-width="2.0" fill="none"/>
<path d="M1654.9 345.5V354.9M1663.3 345.5V354.9" stroke="#fb0004" stroke-width="2.0" fill="none"/>
<path d="M1658.2 345.5V354.9" stroke="#790087" stroke-width="2.0" fill="none"/>
<path d="M1665.0 345.5V354.9M1676.7 345.5V354.9" stroke="#f80108" stroke-width="2.0" fill="none"/>
<path d="M1666.6 345.5V354.9" stroke="#3a00c6" stroke-width="2.0" fill="none"/>
<path d="M1668.3 345.5V354.9" stroke="#cd0033" stroke-width="2.0" fill="none"/>
<path d="M1670.0 345.5V354.9" stroke="#cc0033" stroke-width="2.0" fill="none"/>
<path d="M1671.7 345.5V354.9" stroke="#d4002b" stroke-width="2.0" fill="none"/>
<path d="M1673.3 345.5V354.9" stroke="#3701c9" stroke-width="2.0" fill="none"/>
<path d="M1675.0 345.5V354.9" stroke="#93016d" stroke-width="2.0" fill="none"/>
<path d="M1678.3 345.5V354.9M1690.1 345.5V354.9M1695.1 345.5V354.9" stroke="#0801f8" stroke-width="2.0" fill="none"/>
<path d="M1680.0 345.5V354.9" stroke="#2e00d2" stroke-width="2.0" fill="none"/>
<path d="M1681.7 345.5V354.9" stroke="#66029b" stroke-width="2.0" fill="none"/>
<path d="M1683.4 345.5V354.9M1686.7 345.5V354.9M1691.8 345.5V354.9M1700.1 345.5V354.9M1703.5 345.5V354.9M1705.2 345.5V354.9M1718.5 345.5V354.9M1735.3 345.5V354.9" stroke="#0802f9" stroke-width="2.0" fill="none"/>
<path d="M1685.0 345.5V354.9" stroke="#c90137" stroke-width="2.0" fill="none"/>
<path d="M1688.4 345.5V354.9" stroke="#2c02d5" stroke-width="2.0" fill="none"/>
<path d="M1693.4 345.5V354.9M1698.5 345.5V354.9M1720.2 345.5V354.9M1732.0 345.5V354.9" stroke="#1004f3" stroke-width="2.0" fill="none"/>
<path d="M1696.8 345.5V354.9M1710.2 345.5V354.9M1723.6 345.5V354.9M1728.6 345.5V354.9" stroke="#0804fb" stroke-width="2.0" fill="none"/>
<path d="M1701.8 345.5V354.9M1706.8 345.5V354.9M1716.9 345.5V354.9M1726.9 345.5V354.9M1740.3 345.5V354.9M1743.7 345.5V354.9M1745.3 345.5V354.9M1753.7 345.5V354.9" stroke="#1008f7" stroke-width="2.0" fill="none"/>
<path d="M1708.5 345.5V354.9" stroke="#0401fc" stroke-width="2.0" fill="none"/>
<path d="M1711.8 345.5V354.9" stroke="#3808cf" stroke-width="2.0" fill="none"/>
<path d="M1713.5 345.5V354.9" stroke="#5101af" stroke-width="2.0" fill="none"/>
<path d="M1715.2 345.5V354.9M1721.9 345.5V354.9M1730.3 345.5V354.9M1750.4 345.5V354.9" stroke="#0808ff" stroke-width="2.0" fill="none"/>
<path d="M1725.2 345.5V354.9" stroke="#a30460" stroke-width="2.0" fill="none"/>
<path d="M1733.6 345.5V354.9M1737.0 345.5V354.9M1738.7 345.5V354.9M1742.0 345.5V354.9M1747.0 345.5V354.9M1755.4 345.5V354.9" stroke="#1010ff" stroke-width="2.0" fill="none"/>
<path d="M1748.7 345.5V354.9" stroke="#5010bf" stroke-width="2.0" fill="none"/>
<path d="M1752.0 345.5V354.9M1757.1 345.5V354.9M1758.8 345.5V354.9M1760.4 345.5V354.9M1762.1 345.5V354.9M1765.5 345.5V354.9M1767.1 345.5V354.9M1768.8 345.5V354.9M1770.5 345.5V354.9M1777.2 345.5V354.9M1783.9 345.5V354.9" stroke="#2020ff" stroke-width="2.0" fill="none"/>
<path d="M1763.8 345.5V354.9M1772.2 345.5V354.9M1773.8 345.5V354.9M1775.5 345.5V354.9M1778.8 345.5V354.9M1780.5 345.5V354.9M1785.5 345.5V354.9M1788.9 345.5V354.9M1792.2 345.5V354.9M1795.6 345.5V354.9M1799.0 345.5V354.9M1804.0 345.5V354.9M1807.3 345.5V354.9M1812.3 345.5V354.9M1815.7 345.5V354.9M1820.7 345.5V354.9M1839.2 345.5V354.9M1844.2 345.5V354.9M1869.3 345.5V354.9" stroke="#4040ff" stroke-width="2.0" fill="none"/>
<path d="M1782.2 345.5V354.9M1787.2 345.5V354.9M1790.6 345.5V354.9M1797.3 345.5V354.9M1800.6 345.5V354.9M1802.3 345.5V354.9M1809.0 345.5V354.9M1810.7 345.5V354.9M1814.0 345.5V354.9M1819.0 345.5V354.9M1822.4 345.5V354.9M1824.1 345.5V354.9M1825.8 345.5V354.9M1827.4 345.5V354.9M1829.1 345.5V354.9M1830.8 345.5V354.9M1832.5 345.5V354.9M1835.8 345.5V354.9M1847.5 345.5V354.9M1850.9 345.5V354.9M1852.5 345.5V354.9M1854.2 345.5V354.9M1857.6 345.5V354.9M1874.3 345.5V354.9M1876.0 345.5V354.9M1881.0 345.5V354.9M1912.8 345.5V354.9M1936.3 345.5V354.9" stroke="#8080ff" stroke-width="2.0" fill="none"/>
<path d="M110.80 9.30V353.80H663.40" fill="none" stroke="#000" stroke-width="2.35" stroke-linecap="butt" stroke-linejoin="miter"/>
<path d="M217.00 353.80v5.27M364.50 353.80v5.27M512.00 353.80v5.27M659.50 353.80v5.27M110.80 338.60h-5.27M110.80 234.40h-5.27M110.80 130.20h-5.27M110.80 26.00h-5.27" fill="none" stroke="#000" stroke-width="2.0"/>
<g font-size="18.9" text-anchor="middle">
<text transform="translate(217.00 376.80) scale(0.89 1)">30</text>
<text transform="translate(364.50 376.80) scale(0.89 1)">50</text>
<text transform="translate(512.00 376.80) scale(0.89 1)">70</text>
<text transform="translate(659.50 376.80) scale(0.89 1)">90</text>
</g>
<g font-size="18.2" text-anchor="end">
<text transform="translate(100.60 344.90) scale(0.89 1)">0</text>
<text transform="translate(100.60 240.70) scale(0.89 1)">10</text>
<text transform="translate(100.60 136.50) scale(0.89 1)">20</text>
<text transform="translate(100.60 32.30) scale(0.89 1)">30</text>
</g>
<path d="M780.80 10.50V355.30H1333.40" fill="none" stroke="#000" stroke-width="2.35" stroke-linecap="butt" stroke-linejoin="miter"/>
<path d="M842.60 355.30v5.27M1009.65 355.30v5.27M1176.70 355.30v5.27M780.80 339.80h-5.27M780.80 235.60h-5.27M780.80 131.40h-5.27M780.80 27.20h-5.27" fill="none" stroke="#000" stroke-width="2.0"/>
<g font-size="18.9" text-anchor="middle">
<text transform="translate(842.60 378.30) scale(0.89 1)">50</text>
<text transform="translate(1009.65 378.30) scale(0.89 1)">100</text>
<text transform="translate(1176.70 378.30) scale(0.89 1)">150</text>
</g>
<g font-size="18.2" text-anchor="end">
<text transform="translate(770.60 346.10) scale(0.89 1)">0</text>
<text transform="translate(770.60 241.90) scale(0.89 1)">10</text>
<text transform="translate(770.60 137.70) scale(0.89 1)">20</text>
<text transform="translate(770.60 33.50) scale(0.89 1)">30</text>
</g>
<path d="M1449.40 56.80V355.80H2001.50" fill="none" stroke="#000" stroke-width="2.35" stroke-linecap="butt" stroke-linejoin="miter"/>
<path d="M1474.00 355.80v4.17M1641.50 355.80v4.17M1809.00 355.80v4.17M1976.50 355.80v4.17M1449.40 342.30h-4.17M1449.40 261.95h-4.17M1449.40 181.60h-4.17M1449.40 101.25h-4.17" fill="none" stroke="#000" stroke-width="2.0"/>
<g font-size="16.9" text-anchor="middle">
<text transform="translate(1474.00 375.90) scale(1.0 1)">0</text>
<text transform="translate(1641.50 375.90) scale(1.0 1)">10</text>
<text transform="translate(1809.00 375.90) scale(1.0 1)">20</text>
<text transform="translate(1976.50 375.90) scale(1.0 1)">30</text>
</g>
<g font-size="16.9" text-anchor="end">
<text transform="translate(1441.10 348.20) scale(1.0 1)">0.00</text>
<text transform="translate(1441.10 267.85) scale(1.0 1)">0.05</text>
<text transform="translate(1441.10 187.50) scale(1.0 1)">0.10</text>
<text transform="translate(1441.10 107.15) scale(1.0 1)">0.15</text>
</g>
<path d="M110.80 439.10V784.00H663.40" fill="none" stroke="#000" stroke-width="2.35" stroke-linecap="butt" stroke-linejoin="miter"/>
<path d="M119.60 784.00v5.27M233.90 784.00v5.27M348.20 784.00v5.27M462.50 784.00v5.27M576.80 784.00v5.27M110.80 768.30h-5.27M110.80 664.10h-5.27M110.80 559.90h-5.27M110.80 455.70h-5.27" fill="none" stroke="#000" stroke-width="2.0"/>
<g font-size="18.9" text-anchor="middle">
<text transform="translate(119.60 807.00) scale(0.89 1)">0</text>
<text transform="translate(233.90 807.00) scale(0.89 1)">10</text>
<text transform="translate(348.20 807.00) scale(0.89 1)">20</text>
<text transform="translate(462.50 807.00) scale(0.89 1)">30</text>
<text transform="translate(576.80 807.00) scale(0.89 1)">40</text>
</g>
<g font-size="18.2" text-anchor="end">
<text transform="translate(100.60 774.60) scale(0.89 1)">0</text>
<text transform="translate(100.60 670.40) scale(0.89 1)">10</text>
<text transform="translate(100.60 566.20) scale(0.89 1)">20</text>
<text transform="translate(100.60 462.00) scale(0.89 1)">30</text>
</g>
<path d="M780.80 439.10V784.00H1333.40" fill="none" stroke="#000" stroke-width="2.35" stroke-linecap="butt" stroke-linejoin="miter"/>
<path d="M874.60 784.00v5.27M1011.90 784.00v5.27M1149.20 784.00v5.27M1286.50 784.00v5.27M780.80 768.30h-5.27M780.80 664.10h-5.27M780.80 559.90h-5.27M780.80 455.70h-5.27" fill="none" stroke="#000" stroke-width="2.0"/>
<g font-size="18.9" text-anchor="middle">
<text transform="translate(874.60 807.00) scale(0.89 1)">20</text>
<text transform="translate(1011.90 807.00) scale(0.89 1)">40</text>
<text transform="translate(1149.20 807.00) scale(0.89 1)">60</text>
<text transform="translate(1286.50 807.00) scale(0.89 1)">80</text>
</g>
<g font-size="18.2" text-anchor="end">
<text transform="translate(770.60 774.60) scale(0.89 1)">0</text>
<text transform="translate(770.60 670.40) scale(0.89 1)">10</text>
<text transform="translate(770.60 566.20) scale(0.89 1)">20</text>
<text transform="translate(770.60 462.00) scale(0.89 1)">30</text>
</g>
<path d="M1448.70 437.60V782.30H2001.20" fill="none" stroke="#000" stroke-width="2.35" stroke-linecap="butt" stroke-linejoin="miter"/>
<path d="M1486.90 782.30v5.27M1607.20 782.30v5.27M1727.50 782.30v5.27M1847.80 782.30v5.27M1968.10 782.30v5.27M1448.70 766.80h-5.27M1448.70 662.60h-5.27M1448.70 558.40h-5.27M1448.70 454.20h-5.27" fill="none" stroke="#000" stroke-width="2.0"/>
<g font-size="18.9" text-anchor="middle">
<text transform="translate(1486.90 805.30) scale(0.89 1)">25</text>
<text transform="translate(1607.20 805.30) scale(0.89 1)">50</text>
<text transform="translate(1727.50 805.30) scale(0.89 1)">75</text>
<text transform="translate(1847.80 805.30) scale(0.89 1)">100</text>
<text transform="translate(1968.10 805.30) scale(0.89 1)">125</text>
</g>
<g font-size="18.2" text-anchor="end">
<text transform="translate(1438.50 773.10) scale(0.89 1)">0</text>
<text transform="translate(1438.50 668.90) scale(0.89 1)">10</text>
<text transform="translate(1438.50 564.70) scale(0.89 1)">20</text>
<text transform="translate(1438.50 460.50) scale(0.89 1)">30</text>
</g>
<text transform="translate(71.60 341.80) rotate(-90) scale(0.931 1)" font-size="27.4" style="stroke-width:.1px">Creatinine urine (mmol/day)</text>
<text transform="translate(741.60 343.00) rotate(-90) scale(0.931 1)" font-size="27.4" style="stroke-width:.1px">Creatinine urine (mmol/day)</text>
<text transform="translate(71.60 771.50) rotate(-90) scale(0.931 1)" font-size="27.4" style="stroke-width:.1px">Creatinine urine (mmol/day)</text>
<text transform="translate(741.60 771.50) rotate(-90) scale(0.931 1)" font-size="27.4" style="stroke-width:.1px">Creatinine urine (mmol/day)</text>
<text transform="translate(1409.60 770.00) rotate(-90) scale(0.931 1)" font-size="27.4" style="stroke-width:.1px">Creatinine urine (mmol/day)</text>
<text transform="translate(1398.70 256.50) rotate(-90) scale(1.012 1)" font-size="29.0" style="stroke-width:.1px">density</text>
<text x="298.30" y="405.10" font-size="27.85" xml:space="preserve">Age (years)</text>
<text x="964.00" y="405.60" font-size="27.85" xml:space="preserve">Weight (kg)</text>
<text x="1545.80" y="396.60" font-size="27.65" xml:space="preserve">Creatinine urine (mmol/day)</text>
<text x="255.30" y="835.50" font-size="27.85" xml:space="preserve">Psoas muscles (cm²)</text>
<text x="902.80" y="835.50" font-size="27.75" xml:space="preserve">Long spine muscles  (cm²)</text>
<text x="1572.40" y="833.50" font-size="27.7" xml:space="preserve">Abdominal wall muscles (cm²)</text>
<text transform="translate(2.43 38.80) scale(0.9333 1)" font-size="49.3" font-weight="bold">A</text>
<text transform="translate(686.81 39.00) scale(0.7967 1)" font-size="49.3" font-weight="bold">B</text>
<text transform="translate(1350.46 39.10) scale(0.7690 1)" font-size="49.3" font-weight="bold">C</text>
<text transform="translate(3.61 455.70) scale(0.9190 1)" font-size="49.3" font-weight="bold">D</text>
<text transform="translate(687.12 455.70) scale(0.7027 1)" font-size="49.3" font-weight="bold">E</text>
<text transform="translate(1351.12 455.70) scale(0.7320 1)" font-size="49.3" font-weight="bold">F</text>
<text transform="translate(116.53 38.60) scale(0.9350 1)" font-size="40.2" font-weight="bold">R²=0.11</text>
<text transform="translate(790.30 38.90) scale(0.9440 1)" font-size="40.2" font-weight="bold">R²=0.25</text>
<text transform="translate(1463.61 38.90) scale(0.9402 1)" font-size="40.2" font-weight="bold">R²=0.24</text>
<text transform="translate(120.60 467.50) scale(0.9457 1)" font-size="40.2" font-weight="bold">R²=0.48</text>
<text transform="translate(793.60 467.50) scale(0.9470 1)" font-size="40.2" font-weight="bold">R²=0.47</text>
<text transform="translate(1463.59 467.50) scale(0.9474 1)" font-size="40.2" font-weight="bold">R²=0.39</text>
<text x="1657.0" y="23.6" font-size="17.5">Sex</text>
<rect x="1697.2" y="6.2" width="23.6" height="23.6" fill="#ff0000" fill-opacity="0.5" stroke="#ff0000" stroke-width="2.2"/>
<path d="M1697.2 18.0h23.6" stroke="#ff0000" stroke-opacity="0.5" stroke-width="2.2"/>
<path d="M1709.0 6.2v7.3M1709.0 22.5v7.3" stroke="#ff0000" stroke-width="3.0"/>
<text transform="translate(1730.7 23.0) scale(0.9 1)" font-size="15.2">F</text>
<rect x="1748.6" y="6.2" width="23.6" height="23.6" fill="#0000ff" fill-opacity="0.5" stroke="#0000ff" stroke-width="2.2"/>
<path d="M1748.6 18.0h23.6" stroke="#0000ff" stroke-opacity="0.5" stroke-width="2.2"/>
<path d="M1760.3999999999999 6.2v7.3M1760.3999999999999 22.5v7.3" stroke="#0000ff" stroke-width="3.0"/>
<text transform="translate(1782.1 23.0) scale(0.9 1)" font-size="15.2">M</text>
</svg>
</body></html>
